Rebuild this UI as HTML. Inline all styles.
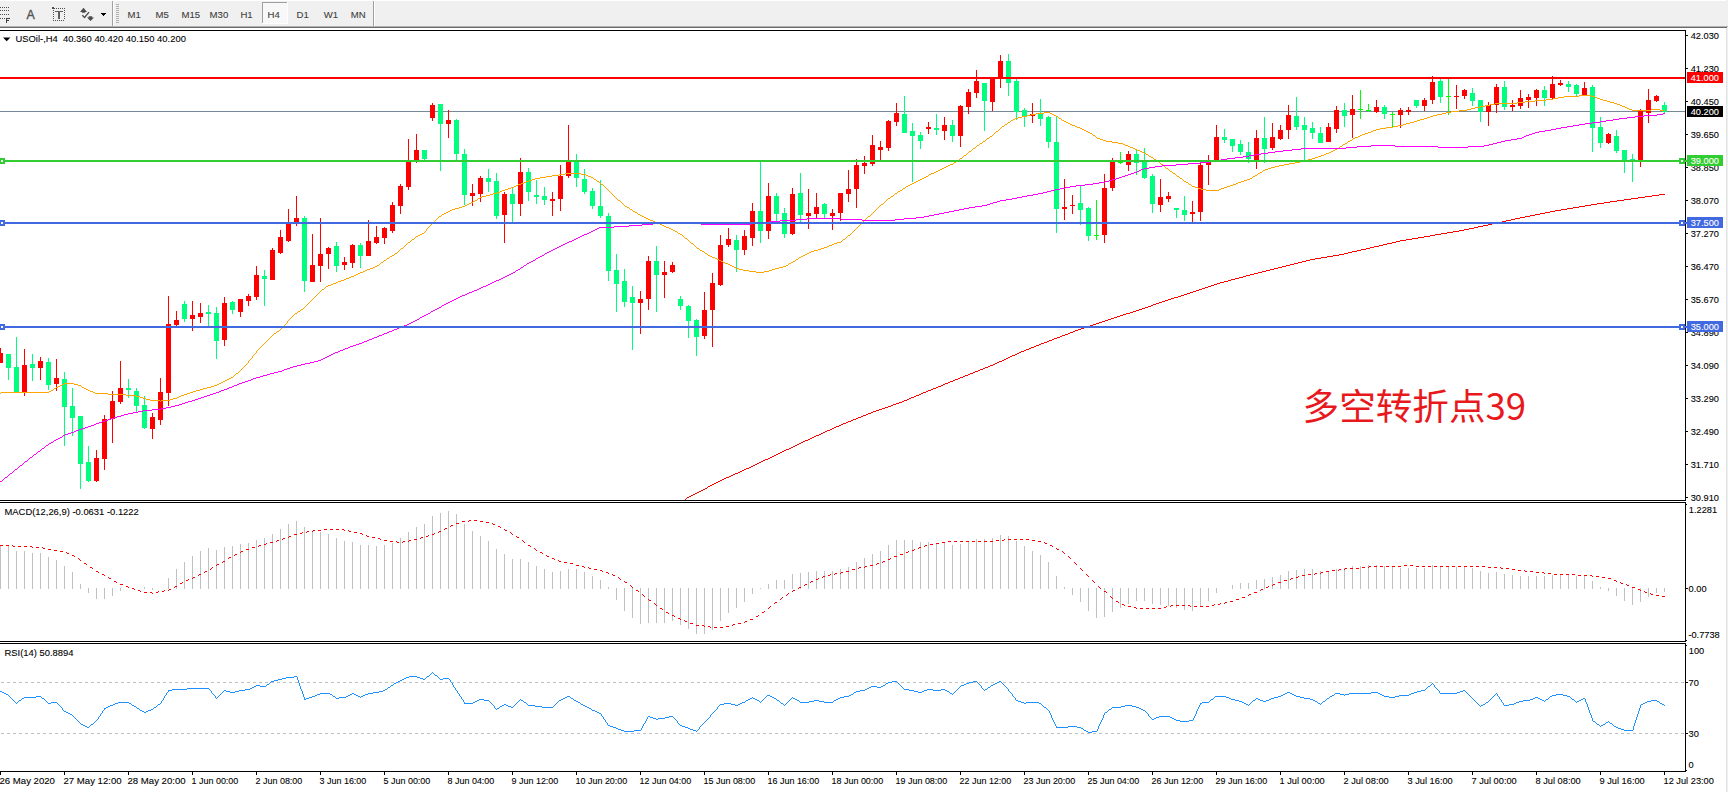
<!DOCTYPE html>
<html><head><meta charset="utf-8"><title>USOil H4</title>
<style>html,body{margin:0;padding:0;background:#fff;}body{width:1728px;height:792px;overflow:hidden;}svg{display:block;}text{white-space:pre;}</style>
</head><body>
<svg width="1728" height="792" viewBox="0 0 1728 792">
<defs><pattern id="dp" width="6" height="800" patternUnits="userSpaceOnUse"><rect x="0" y="0" width="3" height="800" fill="#fff"/></pattern><mask id="dash" maskUnits="userSpaceOnUse" x="0" y="0" width="1728" height="792"><rect x="0" y="0" width="1728" height="792" fill="url(#dp)"/></mask></defs>
<g shape-rendering="crispEdges">
<rect x="0" y="0" width="1728" height="792" fill="#fff"/>
<rect x="0" y="1" width="1726" height="25" fill="#f0f0f0"/>
<rect x="0" y="0" width="1726" height="1" fill="#fff"/>
<rect x="1726" y="0" width="2" height="792" fill="#f0f0f0"/>
<rect x="1726" y="28" width="1" height="764" fill="#e3e3e3"/>
<rect x="0" y="26" width="1728" height="1" fill="#b4b4b4"/>
<rect x="0" y="27" width="1727" height="1" fill="#696969"/>
<rect x="112" y="1" width="1" height="25" fill="#a0a0a0"/>
<rect x="113" y="1" width="1" height="25" fill="#fff"/>
<rect x="373" y="1" width="1" height="25" fill="#a0a0a0"/>
<rect x="374" y="1" width="1" height="25" fill="#fff"/>
<rect x="116" y="4" width="3" height="1" fill="#b0b0b0"/>
<rect x="116" y="6" width="3" height="1" fill="#b0b0b0"/>
<rect x="116" y="8" width="3" height="1" fill="#b0b0b0"/>
<rect x="116" y="10" width="3" height="1" fill="#b0b0b0"/>
<rect x="116" y="12" width="3" height="1" fill="#b0b0b0"/>
<rect x="116" y="14" width="3" height="1" fill="#b0b0b0"/>
<rect x="116" y="16" width="3" height="1" fill="#b0b0b0"/>
<rect x="116" y="18" width="3" height="1" fill="#b0b0b0"/>
<rect x="116" y="20" width="3" height="1" fill="#b0b0b0"/>
<rect x="116" y="22" width="3" height="1" fill="#b0b0b0"/>
<rect x="262" y="2" width="26" height="22" fill="#f8f8f8"/>
<rect x="262" y="2" width="26" height="1" fill="#a0a0a0"/>
<rect x="262" y="2" width="1" height="22" fill="#a0a0a0"/>
<rect x="262" y="23" width="26" height="1" fill="#fff"/>
<rect x="287" y="2" width="1" height="22" fill="#fff"/>
<rect x="0" y="7" width="1" height="1" fill="#505050"/>
<rect x="2" y="7" width="1" height="1" fill="#505050"/>
<rect x="4" y="7" width="1" height="1" fill="#505050"/>
<rect x="6" y="7" width="1" height="1" fill="#505050"/>
<rect x="8" y="7" width="1" height="1" fill="#505050"/>
<rect x="0" y="10" width="1" height="1" fill="#505050"/>
<rect x="2" y="10" width="1" height="1" fill="#505050"/>
<rect x="4" y="10" width="1" height="1" fill="#505050"/>
<rect x="6" y="10" width="1" height="1" fill="#505050"/>
<rect x="8" y="10" width="1" height="1" fill="#505050"/>
<rect x="0" y="14" width="1" height="1" fill="#505050"/>
<rect x="2" y="14" width="1" height="1" fill="#505050"/>
<rect x="4" y="14" width="1" height="1" fill="#505050"/>
<rect x="6" y="14" width="1" height="1" fill="#505050"/>
<rect x="8" y="14" width="1" height="1" fill="#505050"/>
<rect x="0" y="18" width="1" height="1" fill="#505050"/>
<rect x="2" y="18" width="1" height="1" fill="#505050"/>
<rect x="4" y="18" width="1" height="1" fill="#505050"/>
<rect x="6" y="18" width="1" height="5" fill="#404040"/>
<rect x="6" y="18" width="4" height="1" fill="#404040"/>
<rect x="6" y="20" width="3" height="1" fill="#404040"/>
<rect x="56" y="8" width="1" height="1" fill="#505050"/>
<rect x="58" y="8" width="1" height="1" fill="#505050"/>
<rect x="60" y="8" width="1" height="1" fill="#505050"/>
<rect x="62" y="8" width="1" height="1" fill="#505050"/>
<rect x="64" y="8" width="1" height="1" fill="#505050"/>
<rect x="53" y="20" width="1" height="1" fill="#505050"/>
<rect x="55" y="20" width="1" height="1" fill="#505050"/>
<rect x="57" y="20" width="1" height="1" fill="#505050"/>
<rect x="59" y="20" width="1" height="1" fill="#505050"/>
<rect x="61" y="20" width="1" height="1" fill="#505050"/>
<rect x="63" y="20" width="1" height="1" fill="#505050"/>
<rect x="53" y="10" width="1" height="1" fill="#505050"/>
<rect x="64" y="10" width="1" height="1" fill="#505050"/>
<rect x="53" y="12" width="1" height="1" fill="#505050"/>
<rect x="64" y="12" width="1" height="1" fill="#505050"/>
<rect x="53" y="14" width="1" height="1" fill="#505050"/>
<rect x="64" y="14" width="1" height="1" fill="#505050"/>
<rect x="53" y="16" width="1" height="1" fill="#505050"/>
<rect x="64" y="16" width="1" height="1" fill="#505050"/>
<rect x="53" y="18" width="1" height="1" fill="#505050"/>
<rect x="64" y="18" width="1" height="1" fill="#505050"/>
<rect x="52" y="7" width="2" height="1" fill="#505050"/>
<rect x="52" y="8" width="3" height="1" fill="#505050"/>
<rect x="55" y="11" width="8" height="1" fill="#606060"/>
<rect x="58" y="11" width="2" height="8" fill="#606060"/>
<rect x="101" y="13" width="5" height="1" fill="#000"/>
<rect x="102" y="14" width="3" height="1" fill="#000"/>
<rect x="103" y="15" width="1" height="1" fill="#000"/>
</g>
<g fill="#4c4c4c" stroke="none">
<path d="M83.5 7.8 L87 11.9 L85.2 11.9 L85.2 12.8 L81.9 12.8 L81.9 11.9 L80 11.9 Z"/>
<path d="M90.5 21 L94 17.4 L92.2 17.4 L92.2 16.3 L88.7 16.3 L88.7 17.4 L87 17.4 Z"/>
</g>
<path d="M82.3 15.2 L84.6 17.5 L89 12.2" fill="none" stroke="#4c4c4c" stroke-width="1.3"/>
<g font-family='"Liberation Sans", sans-serif'>
<text x="26.5" y="19" fill="#545454" stroke="#545454" stroke-width="0.35" font-size="12.4">A</text>
<text transform="translate(127.5 17.7) scale(0.99 1)" fill="#404040" stroke="#404040" stroke-width="0.1" font-size="9.7">M1</text>
<text transform="translate(155.6 17.7) scale(0.99 1)" fill="#404040" stroke="#404040" stroke-width="0.1" font-size="9.7">M5</text>
<text transform="translate(181.5 17.7) scale(0.99 1)" fill="#404040" stroke="#404040" stroke-width="0.1" font-size="9.7">M15</text>
<text transform="translate(209.6 17.7) scale(0.99 1)" fill="#404040" stroke="#404040" stroke-width="0.1" font-size="9.7">M30</text>
<text transform="translate(240.4 17.7) scale(0.99 1)" fill="#404040" stroke="#404040" stroke-width="0.1" font-size="9.7">H1</text>
<text transform="translate(267.5 17.7) scale(0.99 1)" fill="#404040" stroke="#404040" stroke-width="0.1" font-size="9.7">H4</text>
<text transform="translate(296.5 17.7) scale(0.99 1)" fill="#404040" stroke="#404040" stroke-width="0.1" font-size="9.7">D1</text>
<text transform="translate(323.8 17.7) scale(0.99 1)" fill="#404040" stroke="#404040" stroke-width="0.1" font-size="9.7">W1</text>
<text transform="translate(350.7 17.7) scale(0.99 1)" fill="#404040" stroke="#404040" stroke-width="0.1" font-size="9.7">MN</text>
<g shape-rendering="crispEdges">
<rect x="0" y="30" width="1686" height="1" fill="#000"/>
<rect x="1685" y="30" width="1" height="471" fill="#000"/>
<rect x="1685" y="502" width="1" height="140" fill="#000"/>
<rect x="1685" y="643" width="1" height="129" fill="#000"/>
<rect x="0" y="500" width="1686" height="1" fill="#000"/>
<rect x="0" y="502" width="1686" height="1" fill="#000"/>
<rect x="0" y="641" width="1686" height="1" fill="#000"/>
<rect x="0" y="643" width="1686" height="1" fill="#000"/>
<rect x="0" y="771" width="1686" height="1" fill="#000"/>
</g>
<g shape-rendering="crispEdges">
<rect x="0" y="111" width="1685" height="1" fill="#778899"/>
<rect x="0" y="348" width="1" height="15" fill="#ff0000"/>
<rect x="-2" y="353" width="5" height="10" fill="#ff0000"/>
<rect x="8" y="354" width="1" height="26" fill="#00ff7f"/>
<rect x="6" y="354" width="5" height="14" fill="#00ff7f"/>
<rect x="16" y="337" width="1" height="56" fill="#00ff7f"/>
<rect x="14" y="367" width="5" height="26" fill="#00ff7f"/>
<rect x="24" y="349" width="1" height="47" fill="#ff0000"/>
<rect x="22" y="365" width="5" height="28" fill="#ff0000"/>
<rect x="32" y="354" width="1" height="27" fill="#00ff7f"/>
<rect x="30" y="364" width="5" height="4" fill="#00ff7f"/>
<rect x="40" y="357" width="1" height="23" fill="#ff0000"/>
<rect x="38" y="361" width="5" height="7" fill="#ff0000"/>
<rect x="48" y="358" width="1" height="32" fill="#00ff7f"/>
<rect x="46" y="362" width="5" height="23" fill="#00ff7f"/>
<rect x="56" y="359" width="1" height="32" fill="#ff0000"/>
<rect x="54" y="378" width="5" height="6" fill="#ff0000"/>
<rect x="64" y="372" width="1" height="74" fill="#00ff7f"/>
<rect x="62" y="379" width="5" height="28" fill="#00ff7f"/>
<rect x="72" y="388" width="1" height="48" fill="#00ff7f"/>
<rect x="70" y="406" width="5" height="12" fill="#00ff7f"/>
<rect x="80" y="416" width="1" height="73" fill="#00ff7f"/>
<rect x="78" y="416" width="5" height="48" fill="#00ff7f"/>
<rect x="88" y="446" width="1" height="36" fill="#00ff7f"/>
<rect x="86" y="462" width="5" height="19" fill="#00ff7f"/>
<rect x="96" y="450" width="1" height="32" fill="#ff0000"/>
<rect x="94" y="458" width="5" height="23" fill="#ff0000"/>
<rect x="104" y="415" width="1" height="55" fill="#ff0000"/>
<rect x="102" y="419" width="5" height="40" fill="#ff0000"/>
<rect x="112" y="391" width="1" height="52" fill="#ff0000"/>
<rect x="110" y="401" width="5" height="18" fill="#ff0000"/>
<rect x="120" y="361" width="1" height="43" fill="#ff0000"/>
<rect x="118" y="388" width="5" height="14" fill="#ff0000"/>
<rect x="128" y="379" width="1" height="19" fill="#00ff7f"/>
<rect x="126" y="388" width="5" height="2" fill="#00ff7f"/>
<rect x="136" y="388" width="1" height="25" fill="#00ff7f"/>
<rect x="134" y="391" width="5" height="15" fill="#00ff7f"/>
<rect x="144" y="396" width="1" height="33" fill="#00ff7f"/>
<rect x="142" y="405" width="5" height="23" fill="#00ff7f"/>
<rect x="152" y="413" width="1" height="26" fill="#ff0000"/>
<rect x="150" y="417" width="5" height="12" fill="#ff0000"/>
<rect x="160" y="378" width="1" height="47" fill="#ff0000"/>
<rect x="158" y="392" width="5" height="28" fill="#ff0000"/>
<rect x="168" y="296" width="1" height="110" fill="#ff0000"/>
<rect x="166" y="324" width="5" height="69" fill="#ff0000"/>
<rect x="176" y="311" width="1" height="15" fill="#ff0000"/>
<rect x="174" y="320" width="5" height="5" fill="#ff0000"/>
<rect x="184" y="301" width="1" height="21" fill="#00ff7f"/>
<rect x="182" y="304" width="5" height="15" fill="#00ff7f"/>
<rect x="192" y="301" width="1" height="30" fill="#ff0000"/>
<rect x="190" y="315" width="5" height="4" fill="#ff0000"/>
<rect x="200" y="303" width="1" height="20" fill="#ff0000"/>
<rect x="198" y="313" width="5" height="4" fill="#ff0000"/>
<rect x="208" y="305" width="1" height="22" fill="#00ff7f"/>
<rect x="206" y="312" width="5" height="2" fill="#00ff7f"/>
<rect x="216" y="307" width="1" height="52" fill="#00ff7f"/>
<rect x="214" y="313" width="5" height="28" fill="#00ff7f"/>
<rect x="224" y="297" width="1" height="49" fill="#ff0000"/>
<rect x="222" y="303" width="5" height="37" fill="#ff0000"/>
<rect x="232" y="301" width="1" height="13" fill="#00ff7f"/>
<rect x="230" y="302" width="5" height="8" fill="#00ff7f"/>
<rect x="240" y="299" width="1" height="18" fill="#ff0000"/>
<rect x="238" y="299" width="5" height="13" fill="#ff0000"/>
<rect x="248" y="294" width="1" height="12" fill="#ff0000"/>
<rect x="246" y="296" width="5" height="5" fill="#ff0000"/>
<rect x="256" y="266" width="1" height="34" fill="#ff0000"/>
<rect x="254" y="275" width="5" height="22" fill="#ff0000"/>
<rect x="264" y="270" width="1" height="36" fill="#00ff7f"/>
<rect x="262" y="276" width="5" height="3" fill="#00ff7f"/>
<rect x="272" y="248" width="1" height="32" fill="#ff0000"/>
<rect x="270" y="250" width="5" height="30" fill="#ff0000"/>
<rect x="280" y="230" width="1" height="24" fill="#ff0000"/>
<rect x="278" y="237" width="5" height="16" fill="#ff0000"/>
<rect x="288" y="209" width="1" height="33" fill="#ff0000"/>
<rect x="286" y="223" width="5" height="18" fill="#ff0000"/>
<rect x="296" y="196" width="1" height="30" fill="#ff0000"/>
<rect x="294" y="218" width="5" height="5" fill="#ff0000"/>
<rect x="304" y="216" width="1" height="76" fill="#00ff7f"/>
<rect x="302" y="218" width="5" height="63" fill="#00ff7f"/>
<rect x="312" y="234" width="1" height="48" fill="#ff0000"/>
<rect x="310" y="265" width="5" height="17" fill="#ff0000"/>
<rect x="320" y="218" width="1" height="64" fill="#ff0000"/>
<rect x="318" y="254" width="5" height="12" fill="#ff0000"/>
<rect x="328" y="247" width="1" height="22" fill="#ff0000"/>
<rect x="326" y="248" width="5" height="6" fill="#ff0000"/>
<rect x="336" y="242" width="1" height="30" fill="#00ff7f"/>
<rect x="334" y="246" width="5" height="20" fill="#00ff7f"/>
<rect x="344" y="257" width="1" height="13" fill="#ff0000"/>
<rect x="342" y="262" width="5" height="3" fill="#ff0000"/>
<rect x="352" y="244" width="1" height="24" fill="#ff0000"/>
<rect x="350" y="245" width="5" height="18" fill="#ff0000"/>
<rect x="360" y="243" width="1" height="25" fill="#00ff7f"/>
<rect x="358" y="245" width="5" height="11" fill="#00ff7f"/>
<rect x="368" y="220" width="1" height="36" fill="#ff0000"/>
<rect x="366" y="241" width="5" height="15" fill="#ff0000"/>
<rect x="376" y="226" width="1" height="18" fill="#ff0000"/>
<rect x="374" y="237" width="5" height="6" fill="#ff0000"/>
<rect x="384" y="227" width="1" height="17" fill="#ff0000"/>
<rect x="382" y="228" width="5" height="10" fill="#ff0000"/>
<rect x="392" y="202" width="1" height="31" fill="#ff0000"/>
<rect x="390" y="205" width="5" height="26" fill="#ff0000"/>
<rect x="400" y="184" width="1" height="30" fill="#ff0000"/>
<rect x="398" y="186" width="5" height="20" fill="#ff0000"/>
<rect x="408" y="139" width="1" height="51" fill="#ff0000"/>
<rect x="406" y="161" width="5" height="26" fill="#ff0000"/>
<rect x="416" y="134" width="1" height="29" fill="#ff0000"/>
<rect x="414" y="150" width="5" height="10" fill="#ff0000"/>
<rect x="424" y="150" width="1" height="10" fill="#00ff7f"/>
<rect x="422" y="150" width="5" height="9" fill="#00ff7f"/>
<rect x="432" y="103" width="1" height="18" fill="#ff0000"/>
<rect x="430" y="105" width="5" height="13" fill="#ff0000"/>
<rect x="440" y="104" width="1" height="67" fill="#00ff7f"/>
<rect x="438" y="104" width="5" height="20" fill="#00ff7f"/>
<rect x="448" y="110" width="1" height="28" fill="#ff0000"/>
<rect x="446" y="120" width="5" height="4" fill="#ff0000"/>
<rect x="456" y="119" width="1" height="41" fill="#00ff7f"/>
<rect x="454" y="120" width="5" height="34" fill="#00ff7f"/>
<rect x="464" y="149" width="1" height="56" fill="#00ff7f"/>
<rect x="462" y="154" width="5" height="41" fill="#00ff7f"/>
<rect x="472" y="184" width="1" height="22" fill="#ff0000"/>
<rect x="470" y="193" width="5" height="3" fill="#ff0000"/>
<rect x="480" y="176" width="1" height="26" fill="#ff0000"/>
<rect x="478" y="178" width="5" height="16" fill="#ff0000"/>
<rect x="488" y="169" width="1" height="23" fill="#00ff7f"/>
<rect x="486" y="178" width="5" height="4" fill="#00ff7f"/>
<rect x="496" y="173" width="1" height="46" fill="#00ff7f"/>
<rect x="494" y="181" width="5" height="35" fill="#00ff7f"/>
<rect x="504" y="192" width="1" height="51" fill="#ff0000"/>
<rect x="502" y="194" width="5" height="21" fill="#ff0000"/>
<rect x="512" y="187" width="1" height="35" fill="#00ff7f"/>
<rect x="510" y="194" width="5" height="10" fill="#00ff7f"/>
<rect x="520" y="158" width="1" height="58" fill="#ff0000"/>
<rect x="518" y="172" width="5" height="32" fill="#ff0000"/>
<rect x="528" y="168" width="1" height="33" fill="#00ff7f"/>
<rect x="526" y="172" width="5" height="20" fill="#00ff7f"/>
<rect x="536" y="180" width="1" height="24" fill="#00ff7f"/>
<rect x="534" y="195" width="5" height="2" fill="#00ff7f"/>
<rect x="544" y="187" width="1" height="18" fill="#00ff7f"/>
<rect x="542" y="196" width="5" height="4" fill="#00ff7f"/>
<rect x="552" y="192" width="1" height="24" fill="#ff0000"/>
<rect x="550" y="199" width="5" height="2" fill="#ff0000"/>
<rect x="560" y="165" width="1" height="46" fill="#ff0000"/>
<rect x="558" y="176" width="5" height="23" fill="#ff0000"/>
<rect x="568" y="125" width="1" height="53" fill="#ff0000"/>
<rect x="566" y="162" width="5" height="14" fill="#ff0000"/>
<rect x="576" y="154" width="1" height="33" fill="#00ff7f"/>
<rect x="574" y="162" width="5" height="16" fill="#00ff7f"/>
<rect x="584" y="169" width="1" height="25" fill="#00ff7f"/>
<rect x="582" y="179" width="5" height="13" fill="#00ff7f"/>
<rect x="592" y="188" width="1" height="21" fill="#00ff7f"/>
<rect x="590" y="191" width="5" height="15" fill="#00ff7f"/>
<rect x="600" y="180" width="1" height="38" fill="#00ff7f"/>
<rect x="598" y="206" width="5" height="10" fill="#00ff7f"/>
<rect x="608" y="213" width="1" height="68" fill="#00ff7f"/>
<rect x="606" y="216" width="5" height="55" fill="#00ff7f"/>
<rect x="616" y="254" width="1" height="58" fill="#00ff7f"/>
<rect x="614" y="270" width="5" height="14" fill="#00ff7f"/>
<rect x="624" y="269" width="1" height="38" fill="#00ff7f"/>
<rect x="622" y="281" width="5" height="21" fill="#00ff7f"/>
<rect x="632" y="286" width="1" height="64" fill="#00ff7f"/>
<rect x="630" y="297" width="5" height="6" fill="#00ff7f"/>
<rect x="640" y="291" width="1" height="43" fill="#ff0000"/>
<rect x="638" y="299" width="5" height="4" fill="#ff0000"/>
<rect x="648" y="256" width="1" height="54" fill="#ff0000"/>
<rect x="646" y="261" width="5" height="38" fill="#ff0000"/>
<rect x="656" y="246" width="1" height="66" fill="#00ff7f"/>
<rect x="654" y="261" width="5" height="14" fill="#00ff7f"/>
<rect x="664" y="261" width="1" height="37" fill="#ff0000"/>
<rect x="662" y="272" width="5" height="3" fill="#ff0000"/>
<rect x="672" y="262" width="1" height="11" fill="#ff0000"/>
<rect x="670" y="265" width="5" height="7" fill="#ff0000"/>
<rect x="680" y="296" width="1" height="14" fill="#00ff7f"/>
<rect x="678" y="299" width="5" height="7" fill="#00ff7f"/>
<rect x="688" y="305" width="1" height="33" fill="#00ff7f"/>
<rect x="686" y="306" width="5" height="15" fill="#00ff7f"/>
<rect x="696" y="319" width="1" height="37" fill="#00ff7f"/>
<rect x="694" y="320" width="5" height="17" fill="#00ff7f"/>
<rect x="704" y="292" width="1" height="47" fill="#ff0000"/>
<rect x="702" y="310" width="5" height="26" fill="#ff0000"/>
<rect x="712" y="273" width="1" height="74" fill="#ff0000"/>
<rect x="710" y="283" width="5" height="27" fill="#ff0000"/>
<rect x="720" y="235" width="1" height="51" fill="#ff0000"/>
<rect x="718" y="245" width="5" height="40" fill="#ff0000"/>
<rect x="728" y="228" width="1" height="19" fill="#ff0000"/>
<rect x="726" y="239" width="5" height="6" fill="#ff0000"/>
<rect x="736" y="235" width="1" height="37" fill="#00ff7f"/>
<rect x="734" y="240" width="5" height="10" fill="#00ff7f"/>
<rect x="744" y="230" width="1" height="25" fill="#ff0000"/>
<rect x="742" y="236" width="5" height="14" fill="#ff0000"/>
<rect x="752" y="203" width="1" height="43" fill="#ff0000"/>
<rect x="750" y="211" width="5" height="27" fill="#ff0000"/>
<rect x="760" y="162" width="1" height="81" fill="#00ff7f"/>
<rect x="758" y="211" width="5" height="20" fill="#00ff7f"/>
<rect x="768" y="183" width="1" height="56" fill="#ff0000"/>
<rect x="766" y="196" width="5" height="35" fill="#ff0000"/>
<rect x="776" y="193" width="1" height="29" fill="#00ff7f"/>
<rect x="774" y="196" width="5" height="18" fill="#00ff7f"/>
<rect x="784" y="208" width="1" height="30" fill="#00ff7f"/>
<rect x="782" y="213" width="5" height="21" fill="#00ff7f"/>
<rect x="792" y="188" width="1" height="47" fill="#ff0000"/>
<rect x="790" y="194" width="5" height="40" fill="#ff0000"/>
<rect x="800" y="173" width="1" height="50" fill="#00ff7f"/>
<rect x="798" y="193" width="5" height="22" fill="#00ff7f"/>
<rect x="808" y="189" width="1" height="40" fill="#ff0000"/>
<rect x="806" y="213" width="5" height="3" fill="#ff0000"/>
<rect x="816" y="193" width="1" height="25" fill="#ff0000"/>
<rect x="814" y="207" width="5" height="7" fill="#ff0000"/>
<rect x="824" y="203" width="1" height="15" fill="#00ff7f"/>
<rect x="822" y="204" width="5" height="10" fill="#00ff7f"/>
<rect x="832" y="209" width="1" height="21" fill="#ff0000"/>
<rect x="830" y="213" width="5" height="3" fill="#ff0000"/>
<rect x="840" y="193" width="1" height="28" fill="#ff0000"/>
<rect x="838" y="193" width="5" height="20" fill="#ff0000"/>
<rect x="848" y="170" width="1" height="32" fill="#ff0000"/>
<rect x="846" y="189" width="5" height="5" fill="#ff0000"/>
<rect x="856" y="159" width="1" height="49" fill="#ff0000"/>
<rect x="854" y="165" width="5" height="24" fill="#ff0000"/>
<rect x="864" y="156" width="1" height="18" fill="#ff0000"/>
<rect x="862" y="163" width="5" height="3" fill="#ff0000"/>
<rect x="872" y="135" width="1" height="31" fill="#ff0000"/>
<rect x="870" y="145" width="5" height="19" fill="#ff0000"/>
<rect x="880" y="141" width="1" height="19" fill="#ff0000"/>
<rect x="878" y="147" width="5" height="3" fill="#ff0000"/>
<rect x="888" y="120" width="1" height="31" fill="#ff0000"/>
<rect x="886" y="121" width="5" height="27" fill="#ff0000"/>
<rect x="896" y="103" width="1" height="23" fill="#ff0000"/>
<rect x="894" y="113" width="5" height="9" fill="#ff0000"/>
<rect x="904" y="96" width="1" height="37" fill="#00ff7f"/>
<rect x="902" y="114" width="5" height="19" fill="#00ff7f"/>
<rect x="912" y="123" width="1" height="59" fill="#00ff7f"/>
<rect x="910" y="131" width="5" height="5" fill="#00ff7f"/>
<rect x="920" y="132" width="1" height="17" fill="#00ff7f"/>
<rect x="918" y="135" width="5" height="6" fill="#00ff7f"/>
<rect x="928" y="122" width="1" height="12" fill="#ff0000"/>
<rect x="926" y="127" width="5" height="2" fill="#ff0000"/>
<rect x="936" y="114" width="1" height="21" fill="#00ff7f"/>
<rect x="934" y="128" width="5" height="2" fill="#00ff7f"/>
<rect x="944" y="117" width="1" height="23" fill="#ff0000"/>
<rect x="942" y="125" width="5" height="6" fill="#ff0000"/>
<rect x="952" y="120" width="1" height="22" fill="#00ff7f"/>
<rect x="950" y="125" width="5" height="11" fill="#00ff7f"/>
<rect x="960" y="105" width="1" height="42" fill="#ff0000"/>
<rect x="958" y="106" width="5" height="30" fill="#ff0000"/>
<rect x="968" y="89" width="1" height="25" fill="#ff0000"/>
<rect x="966" y="92" width="5" height="15" fill="#ff0000"/>
<rect x="976" y="70" width="1" height="28" fill="#ff0000"/>
<rect x="974" y="81" width="5" height="12" fill="#ff0000"/>
<rect x="984" y="83" width="1" height="48" fill="#00ff7f"/>
<rect x="982" y="83" width="5" height="18" fill="#00ff7f"/>
<rect x="992" y="78" width="1" height="33" fill="#ff0000"/>
<rect x="990" y="78" width="5" height="24" fill="#ff0000"/>
<rect x="1000" y="55" width="1" height="33" fill="#ff0000"/>
<rect x="998" y="61" width="5" height="17" fill="#ff0000"/>
<rect x="1008" y="54" width="1" height="42" fill="#00ff7f"/>
<rect x="1006" y="61" width="5" height="22" fill="#00ff7f"/>
<rect x="1016" y="79" width="1" height="41" fill="#00ff7f"/>
<rect x="1014" y="81" width="5" height="31" fill="#00ff7f"/>
<rect x="1024" y="108" width="1" height="19" fill="#00ff7f"/>
<rect x="1022" y="110" width="5" height="7" fill="#00ff7f"/>
<rect x="1032" y="103" width="1" height="20" fill="#ff0000"/>
<rect x="1030" y="114" width="5" height="2" fill="#ff0000"/>
<rect x="1040" y="99" width="1" height="27" fill="#00ff7f"/>
<rect x="1038" y="114" width="5" height="5" fill="#00ff7f"/>
<rect x="1048" y="116" width="1" height="32" fill="#00ff7f"/>
<rect x="1046" y="117" width="5" height="25" fill="#00ff7f"/>
<rect x="1056" y="117" width="1" height="116" fill="#00ff7f"/>
<rect x="1054" y="142" width="5" height="67" fill="#00ff7f"/>
<rect x="1064" y="179" width="1" height="41" fill="#ff0000"/>
<rect x="1062" y="207" width="5" height="2" fill="#ff0000"/>
<rect x="1072" y="195" width="1" height="19" fill="#ff0000"/>
<rect x="1070" y="205" width="5" height="1" fill="#ff0000"/>
<rect x="1080" y="186" width="1" height="39" fill="#00ff7f"/>
<rect x="1078" y="203" width="5" height="7" fill="#00ff7f"/>
<rect x="1088" y="207" width="1" height="34" fill="#00ff7f"/>
<rect x="1086" y="208" width="5" height="28" fill="#00ff7f"/>
<rect x="1096" y="200" width="1" height="40" fill="#00ff00"/>
<rect x="1094" y="235" width="5" height="1" fill="#00ff00"/>
<rect x="1104" y="174" width="1" height="69" fill="#ff0000"/>
<rect x="1102" y="188" width="5" height="47" fill="#ff0000"/>
<rect x="1112" y="158" width="1" height="33" fill="#ff0000"/>
<rect x="1110" y="161" width="5" height="27" fill="#ff0000"/>
<rect x="1120" y="152" width="1" height="12" fill="#00ff00"/>
<rect x="1118" y="162" width="5" height="1" fill="#00ff00"/>
<rect x="1128" y="151" width="1" height="20" fill="#ff0000"/>
<rect x="1126" y="154" width="5" height="11" fill="#ff0000"/>
<rect x="1136" y="150" width="1" height="25" fill="#00ff7f"/>
<rect x="1134" y="154" width="5" height="9" fill="#00ff7f"/>
<rect x="1144" y="148" width="1" height="31" fill="#00ff7f"/>
<rect x="1142" y="161" width="5" height="17" fill="#00ff7f"/>
<rect x="1152" y="174" width="1" height="39" fill="#00ff7f"/>
<rect x="1150" y="176" width="5" height="28" fill="#00ff7f"/>
<rect x="1160" y="179" width="1" height="33" fill="#ff0000"/>
<rect x="1158" y="197" width="5" height="8" fill="#ff0000"/>
<rect x="1168" y="192" width="1" height="10" fill="#ff0000"/>
<rect x="1166" y="196" width="5" height="3" fill="#ff0000"/>
<rect x="1176" y="208" width="1" height="10" fill="#00ff7f"/>
<rect x="1174" y="208" width="5" height="2" fill="#00ff7f"/>
<rect x="1184" y="196" width="1" height="25" fill="#00ff7f"/>
<rect x="1182" y="210" width="5" height="5" fill="#00ff7f"/>
<rect x="1192" y="201" width="1" height="21" fill="#ff0000"/>
<rect x="1190" y="212" width="5" height="2" fill="#ff0000"/>
<rect x="1200" y="163" width="1" height="58" fill="#ff0000"/>
<rect x="1198" y="165" width="5" height="47" fill="#ff0000"/>
<rect x="1208" y="155" width="1" height="30" fill="#ff0000"/>
<rect x="1206" y="162" width="5" height="3" fill="#ff0000"/>
<rect x="1216" y="125" width="1" height="36" fill="#ff0000"/>
<rect x="1214" y="137" width="5" height="24" fill="#ff0000"/>
<rect x="1224" y="129" width="1" height="14" fill="#00ff7f"/>
<rect x="1222" y="137" width="5" height="3" fill="#00ff7f"/>
<rect x="1232" y="139" width="1" height="13" fill="#00ff7f"/>
<rect x="1230" y="139" width="5" height="7" fill="#00ff7f"/>
<rect x="1240" y="140" width="1" height="15" fill="#00ff7f"/>
<rect x="1238" y="144" width="5" height="8" fill="#00ff7f"/>
<rect x="1248" y="142" width="1" height="21" fill="#00ff7f"/>
<rect x="1246" y="152" width="5" height="7" fill="#00ff7f"/>
<rect x="1256" y="130" width="1" height="39" fill="#ff0000"/>
<rect x="1254" y="138" width="5" height="22" fill="#ff0000"/>
<rect x="1264" y="117" width="1" height="46" fill="#00ff7f"/>
<rect x="1262" y="138" width="5" height="11" fill="#00ff7f"/>
<rect x="1272" y="123" width="1" height="27" fill="#ff0000"/>
<rect x="1270" y="137" width="5" height="11" fill="#ff0000"/>
<rect x="1280" y="125" width="1" height="15" fill="#ff0000"/>
<rect x="1278" y="130" width="5" height="9" fill="#ff0000"/>
<rect x="1288" y="105" width="1" height="34" fill="#ff0000"/>
<rect x="1286" y="115" width="5" height="15" fill="#ff0000"/>
<rect x="1296" y="97" width="1" height="33" fill="#00ff7f"/>
<rect x="1294" y="116" width="5" height="11" fill="#00ff7f"/>
<rect x="1304" y="117" width="1" height="43" fill="#00ff7f"/>
<rect x="1302" y="125" width="5" height="5" fill="#00ff7f"/>
<rect x="1312" y="122" width="1" height="17" fill="#00ff7f"/>
<rect x="1310" y="128" width="5" height="5" fill="#00ff7f"/>
<rect x="1320" y="127" width="1" height="16" fill="#00ff7f"/>
<rect x="1318" y="133" width="5" height="10" fill="#00ff7f"/>
<rect x="1328" y="123" width="1" height="19" fill="#ff0000"/>
<rect x="1326" y="127" width="5" height="15" fill="#ff0000"/>
<rect x="1336" y="106" width="1" height="27" fill="#ff0000"/>
<rect x="1334" y="110" width="5" height="19" fill="#ff0000"/>
<rect x="1344" y="103" width="1" height="24" fill="#00ff7f"/>
<rect x="1342" y="110" width="5" height="6" fill="#00ff7f"/>
<rect x="1352" y="95" width="1" height="43" fill="#ff0000"/>
<rect x="1350" y="109" width="5" height="6" fill="#ff0000"/>
<rect x="1360" y="90" width="1" height="29" fill="#00ff00"/>
<rect x="1358" y="109" width="5" height="1" fill="#00ff00"/>
<rect x="1368" y="104" width="1" height="8" fill="#00ff00"/>
<rect x="1366" y="110" width="5" height="1" fill="#00ff00"/>
<rect x="1376" y="100" width="1" height="13" fill="#ff0000"/>
<rect x="1374" y="107" width="5" height="5" fill="#ff0000"/>
<rect x="1384" y="105" width="1" height="14" fill="#00ff7f"/>
<rect x="1382" y="107" width="5" height="7" fill="#00ff7f"/>
<rect x="1392" y="112" width="1" height="15" fill="#00ff00"/>
<rect x="1390" y="114" width="5" height="1" fill="#00ff00"/>
<rect x="1400" y="108" width="1" height="20" fill="#ff0000"/>
<rect x="1398" y="110" width="5" height="5" fill="#ff0000"/>
<rect x="1408" y="107" width="1" height="8" fill="#ff0000"/>
<rect x="1406" y="110" width="5" height="2" fill="#ff0000"/>
<rect x="1416" y="100" width="1" height="8" fill="#00ff7f"/>
<rect x="1414" y="100" width="5" height="6" fill="#00ff7f"/>
<rect x="1424" y="98" width="1" height="13" fill="#ff0000"/>
<rect x="1422" y="100" width="5" height="6" fill="#ff0000"/>
<rect x="1432" y="76" width="1" height="28" fill="#ff0000"/>
<rect x="1430" y="82" width="5" height="18" fill="#ff0000"/>
<rect x="1440" y="79" width="1" height="24" fill="#00ff7f"/>
<rect x="1438" y="81" width="5" height="16" fill="#00ff7f"/>
<rect x="1448" y="79" width="1" height="36" fill="#00ff00"/>
<rect x="1446" y="96" width="5" height="1" fill="#00ff00"/>
<rect x="1456" y="85" width="1" height="24" fill="#ff0000"/>
<rect x="1454" y="96" width="5" height="1" fill="#ff0000"/>
<rect x="1464" y="89" width="1" height="10" fill="#ff0000"/>
<rect x="1462" y="90" width="5" height="6" fill="#ff0000"/>
<rect x="1472" y="88" width="1" height="18" fill="#00ff7f"/>
<rect x="1470" y="93" width="5" height="8" fill="#00ff7f"/>
<rect x="1480" y="100" width="1" height="22" fill="#00ff7f"/>
<rect x="1478" y="100" width="5" height="12" fill="#00ff7f"/>
<rect x="1488" y="102" width="1" height="24" fill="#ff0000"/>
<rect x="1486" y="105" width="5" height="7" fill="#ff0000"/>
<rect x="1496" y="84" width="1" height="29" fill="#ff0000"/>
<rect x="1494" y="87" width="5" height="18" fill="#ff0000"/>
<rect x="1504" y="81" width="1" height="29" fill="#00ff7f"/>
<rect x="1502" y="87" width="5" height="20" fill="#00ff7f"/>
<rect x="1512" y="100" width="1" height="11" fill="#ff0000"/>
<rect x="1510" y="105" width="5" height="2" fill="#ff0000"/>
<rect x="1520" y="90" width="1" height="19" fill="#ff0000"/>
<rect x="1518" y="98" width="5" height="8" fill="#ff0000"/>
<rect x="1528" y="94" width="1" height="14" fill="#ff0000"/>
<rect x="1526" y="97" width="5" height="3" fill="#ff0000"/>
<rect x="1536" y="89" width="1" height="17" fill="#ff0000"/>
<rect x="1534" y="90" width="5" height="8" fill="#ff0000"/>
<rect x="1544" y="86" width="1" height="20" fill="#00ff7f"/>
<rect x="1542" y="90" width="5" height="8" fill="#00ff7f"/>
<rect x="1552" y="76" width="1" height="23" fill="#ff0000"/>
<rect x="1550" y="84" width="5" height="14" fill="#ff0000"/>
<rect x="1560" y="80" width="1" height="6" fill="#ff0000"/>
<rect x="1558" y="83" width="5" height="2" fill="#ff0000"/>
<rect x="1568" y="81" width="1" height="11" fill="#00ff7f"/>
<rect x="1566" y="84" width="5" height="3" fill="#00ff7f"/>
<rect x="1576" y="84" width="1" height="12" fill="#00ff7f"/>
<rect x="1574" y="85" width="5" height="9" fill="#00ff7f"/>
<rect x="1584" y="82" width="1" height="13" fill="#ff0000"/>
<rect x="1582" y="88" width="5" height="7" fill="#ff0000"/>
<rect x="1592" y="85" width="1" height="67" fill="#00ff7f"/>
<rect x="1590" y="87" width="5" height="41" fill="#00ff7f"/>
<rect x="1600" y="117" width="1" height="31" fill="#00ff7f"/>
<rect x="1598" y="127" width="5" height="16" fill="#00ff7f"/>
<rect x="1608" y="133" width="1" height="11" fill="#ff0000"/>
<rect x="1606" y="134" width="5" height="9" fill="#ff0000"/>
<rect x="1616" y="130" width="1" height="23" fill="#00ff7f"/>
<rect x="1614" y="136" width="5" height="15" fill="#00ff7f"/>
<rect x="1624" y="150" width="1" height="23" fill="#00ff7f"/>
<rect x="1622" y="150" width="5" height="10" fill="#00ff7f"/>
<rect x="1632" y="154" width="1" height="28" fill="#00ff7f"/>
<rect x="1630" y="159" width="5" height="2" fill="#00ff7f"/>
<rect x="1640" y="109" width="1" height="58" fill="#ff0000"/>
<rect x="1638" y="111" width="5" height="49" fill="#ff0000"/>
<rect x="1648" y="89" width="1" height="34" fill="#ff0000"/>
<rect x="1646" y="100" width="5" height="13" fill="#ff0000"/>
<rect x="1656" y="95" width="1" height="7" fill="#ff0000"/>
<rect x="1654" y="96" width="5" height="5" fill="#ff0000"/>
<rect x="1664" y="102" width="1" height="12" fill="#00ff7f"/>
<rect x="1662" y="105" width="5" height="7" fill="#00ff7f"/>
</g>
<g shape-rendering="crispEdges" fill="#ff0000">
<rect x="685" y="499" width="1" height="1"/>
<rect x="686" y="498" width="1" height="1"/>
<rect x="687" y="497" width="2" height="1"/>
<rect x="689" y="496" width="2" height="1"/>
<rect x="691" y="495" width="2" height="1"/>
<rect x="693" y="494" width="2" height="1"/>
<rect x="695" y="493" width="2" height="1"/>
<rect x="697" y="492" width="2" height="1"/>
<rect x="699" y="491" width="2" height="1"/>
<rect x="701" y="490" width="2" height="1"/>
<rect x="703" y="489" width="2" height="1"/>
<rect x="705" y="488" width="2" height="1"/>
<rect x="707" y="487" width="1" height="1"/>
<rect x="708" y="486" width="2" height="1"/>
<rect x="710" y="485" width="2" height="1"/>
<rect x="712" y="484" width="2" height="1"/>
<rect x="714" y="483" width="2" height="1"/>
<rect x="716" y="482" width="2" height="1"/>
<rect x="718" y="481" width="2" height="1"/>
<rect x="720" y="480" width="2" height="1"/>
<rect x="722" y="479" width="2" height="1"/>
<rect x="724" y="478" width="2" height="1"/>
<rect x="726" y="477" width="3" height="1"/>
<rect x="729" y="476" width="2" height="1"/>
<rect x="731" y="475" width="2" height="1"/>
<rect x="733" y="474" width="2" height="1"/>
<rect x="735" y="473" width="3" height="1"/>
<rect x="738" y="472" width="2" height="1"/>
<rect x="740" y="471" width="2" height="1"/>
<rect x="742" y="470" width="2" height="1"/>
<rect x="744" y="469" width="2" height="1"/>
<rect x="746" y="468" width="3" height="1"/>
<rect x="749" y="467" width="2" height="1"/>
<rect x="751" y="466" width="2" height="1"/>
<rect x="753" y="465" width="2" height="1"/>
<rect x="755" y="464" width="2" height="1"/>
<rect x="757" y="463" width="2" height="1"/>
<rect x="759" y="462" width="2" height="1"/>
<rect x="761" y="461" width="2" height="1"/>
<rect x="763" y="460" width="2" height="1"/>
<rect x="765" y="459" width="3" height="1"/>
<rect x="768" y="458" width="2" height="1"/>
<rect x="770" y="457" width="2" height="1"/>
<rect x="772" y="456" width="2" height="1"/>
<rect x="774" y="455" width="2" height="1"/>
<rect x="776" y="454" width="2" height="1"/>
<rect x="778" y="453" width="2" height="1"/>
<rect x="780" y="452" width="2" height="1"/>
<rect x="782" y="451" width="2" height="1"/>
<rect x="784" y="450" width="2" height="1"/>
<rect x="786" y="449" width="3" height="1"/>
<rect x="789" y="448" width="2" height="1"/>
<rect x="791" y="447" width="2" height="1"/>
<rect x="793" y="446" width="2" height="1"/>
<rect x="795" y="445" width="2" height="1"/>
<rect x="797" y="444" width="2" height="1"/>
<rect x="799" y="443" width="2" height="1"/>
<rect x="801" y="442" width="2" height="1"/>
<rect x="803" y="441" width="2" height="1"/>
<rect x="805" y="440" width="3" height="1"/>
<rect x="808" y="439" width="2" height="1"/>
<rect x="810" y="438" width="2" height="1"/>
<rect x="812" y="437" width="2" height="1"/>
<rect x="814" y="436" width="2" height="1"/>
<rect x="816" y="435" width="3" height="1"/>
<rect x="819" y="434" width="2" height="1"/>
<rect x="821" y="433" width="2" height="1"/>
<rect x="823" y="432" width="2" height="1"/>
<rect x="825" y="431" width="2" height="1"/>
<rect x="827" y="430" width="3" height="1"/>
<rect x="830" y="429" width="2" height="1"/>
<rect x="832" y="428" width="2" height="1"/>
<rect x="834" y="427" width="2" height="1"/>
<rect x="836" y="426" width="3" height="1"/>
<rect x="839" y="425" width="2" height="1"/>
<rect x="841" y="424" width="2" height="1"/>
<rect x="843" y="423" width="3" height="1"/>
<rect x="846" y="422" width="2" height="1"/>
<rect x="848" y="421" width="3" height="1"/>
<rect x="851" y="420" width="2" height="1"/>
<rect x="853" y="419" width="3" height="1"/>
<rect x="856" y="418" width="2" height="1"/>
<rect x="858" y="417" width="3" height="1"/>
<rect x="861" y="416" width="2" height="1"/>
<rect x="863" y="415" width="3" height="1"/>
<rect x="866" y="414" width="2" height="1"/>
<rect x="868" y="413" width="3" height="1"/>
<rect x="871" y="412" width="2" height="1"/>
<rect x="873" y="411" width="3" height="1"/>
<rect x="876" y="410" width="3" height="1"/>
<rect x="879" y="409" width="3" height="1"/>
<rect x="882" y="408" width="3" height="1"/>
<rect x="885" y="407" width="3" height="1"/>
<rect x="888" y="406" width="3" height="1"/>
<rect x="891" y="405" width="2" height="1"/>
<rect x="893" y="404" width="3" height="1"/>
<rect x="896" y="403" width="3" height="1"/>
<rect x="899" y="402" width="3" height="1"/>
<rect x="902" y="401" width="2" height="1"/>
<rect x="904" y="400" width="3" height="1"/>
<rect x="907" y="399" width="2" height="1"/>
<rect x="909" y="398" width="2" height="1"/>
<rect x="911" y="397" width="3" height="1"/>
<rect x="914" y="396" width="2" height="1"/>
<rect x="916" y="395" width="3" height="1"/>
<rect x="919" y="394" width="2" height="1"/>
<rect x="921" y="393" width="2" height="1"/>
<rect x="923" y="392" width="3" height="1"/>
<rect x="926" y="391" width="2" height="1"/>
<rect x="928" y="390" width="3" height="1"/>
<rect x="931" y="389" width="2" height="1"/>
<rect x="933" y="388" width="3" height="1"/>
<rect x="936" y="387" width="2" height="1"/>
<rect x="938" y="386" width="3" height="1"/>
<rect x="941" y="385" width="2" height="1"/>
<rect x="943" y="384" width="2" height="1"/>
<rect x="945" y="383" width="3" height="1"/>
<rect x="948" y="382" width="2" height="1"/>
<rect x="950" y="381" width="3" height="1"/>
<rect x="953" y="380" width="2" height="1"/>
<rect x="955" y="379" width="3" height="1"/>
<rect x="958" y="378" width="2" height="1"/>
<rect x="960" y="377" width="3" height="1"/>
<rect x="963" y="376" width="2" height="1"/>
<rect x="965" y="375" width="3" height="1"/>
<rect x="968" y="374" width="2" height="1"/>
<rect x="970" y="373" width="3" height="1"/>
<rect x="973" y="372" width="2" height="1"/>
<rect x="975" y="371" width="3" height="1"/>
<rect x="978" y="370" width="2" height="1"/>
<rect x="980" y="369" width="3" height="1"/>
<rect x="983" y="368" width="2" height="1"/>
<rect x="985" y="367" width="3" height="1"/>
<rect x="988" y="366" width="2" height="1"/>
<rect x="990" y="365" width="3" height="1"/>
<rect x="993" y="364" width="2" height="1"/>
<rect x="995" y="363" width="2" height="1"/>
<rect x="997" y="362" width="2" height="1"/>
<rect x="999" y="361" width="3" height="1"/>
<rect x="1002" y="360" width="2" height="1"/>
<rect x="1004" y="359" width="2" height="1"/>
<rect x="1006" y="358" width="2" height="1"/>
<rect x="1008" y="357" width="2" height="1"/>
<rect x="1010" y="356" width="2" height="1"/>
<rect x="1012" y="355" width="3" height="1"/>
<rect x="1015" y="354" width="2" height="1"/>
<rect x="1017" y="353" width="2" height="1"/>
<rect x="1019" y="352" width="2" height="1"/>
<rect x="1021" y="351" width="3" height="1"/>
<rect x="1024" y="350" width="2" height="1"/>
<rect x="1026" y="349" width="3" height="1"/>
<rect x="1029" y="348" width="2" height="1"/>
<rect x="1031" y="347" width="3" height="1"/>
<rect x="1034" y="346" width="2" height="1"/>
<rect x="1036" y="345" width="3" height="1"/>
<rect x="1039" y="344" width="2" height="1"/>
<rect x="1041" y="343" width="3" height="1"/>
<rect x="1044" y="342" width="3" height="1"/>
<rect x="1047" y="341" width="2" height="1"/>
<rect x="1049" y="340" width="3" height="1"/>
<rect x="1052" y="339" width="2" height="1"/>
<rect x="1054" y="338" width="3" height="1"/>
<rect x="1057" y="337" width="3" height="1"/>
<rect x="1060" y="336" width="2" height="1"/>
<rect x="1062" y="335" width="3" height="1"/>
<rect x="1065" y="334" width="3" height="1"/>
<rect x="1068" y="333" width="2" height="1"/>
<rect x="1070" y="332" width="3" height="1"/>
<rect x="1073" y="331" width="2" height="1"/>
<rect x="1075" y="330" width="3" height="1"/>
<rect x="1078" y="329" width="3" height="1"/>
<rect x="1081" y="328" width="3" height="1"/>
<rect x="1084" y="327" width="3" height="1"/>
<rect x="1087" y="326" width="3" height="1"/>
<rect x="1090" y="325" width="3" height="1"/>
<rect x="1093" y="324" width="3" height="1"/>
<rect x="1096" y="323" width="3" height="1"/>
<rect x="1099" y="322" width="3" height="1"/>
<rect x="1102" y="321" width="3" height="1"/>
<rect x="1105" y="320" width="3" height="1"/>
<rect x="1108" y="319" width="3" height="1"/>
<rect x="1111" y="318" width="3" height="1"/>
<rect x="1114" y="317" width="3" height="1"/>
<rect x="1117" y="316" width="3" height="1"/>
<rect x="1120" y="315" width="3" height="1"/>
<rect x="1123" y="314" width="3" height="1"/>
<rect x="1126" y="313" width="4" height="1"/>
<rect x="1130" y="312" width="3" height="1"/>
<rect x="1133" y="311" width="3" height="1"/>
<rect x="1136" y="310" width="3" height="1"/>
<rect x="1139" y="309" width="3" height="1"/>
<rect x="1142" y="308" width="3" height="1"/>
<rect x="1145" y="307" width="3" height="1"/>
<rect x="1148" y="306" width="3" height="1"/>
<rect x="1151" y="305" width="2" height="1"/>
<rect x="1153" y="304" width="3" height="1"/>
<rect x="1156" y="303" width="3" height="1"/>
<rect x="1159" y="302" width="3" height="1"/>
<rect x="1162" y="301" width="3" height="1"/>
<rect x="1165" y="300" width="3" height="1"/>
<rect x="1168" y="299" width="3" height="1"/>
<rect x="1171" y="298" width="3" height="1"/>
<rect x="1174" y="297" width="4" height="1"/>
<rect x="1178" y="296" width="3" height="1"/>
<rect x="1181" y="295" width="3" height="1"/>
<rect x="1184" y="294" width="3" height="1"/>
<rect x="1187" y="293" width="3" height="1"/>
<rect x="1190" y="292" width="3" height="1"/>
<rect x="1193" y="291" width="3" height="1"/>
<rect x="1196" y="290" width="3" height="1"/>
<rect x="1199" y="289" width="3" height="1"/>
<rect x="1202" y="288" width="3" height="1"/>
<rect x="1205" y="287" width="3" height="1"/>
<rect x="1208" y="286" width="3" height="1"/>
<rect x="1211" y="285" width="3" height="1"/>
<rect x="1214" y="284" width="3" height="1"/>
<rect x="1217" y="283" width="3" height="1"/>
<rect x="1220" y="282" width="4" height="1"/>
<rect x="1224" y="281" width="4" height="1"/>
<rect x="1228" y="280" width="3" height="1"/>
<rect x="1231" y="279" width="4" height="1"/>
<rect x="1235" y="278" width="4" height="1"/>
<rect x="1239" y="277" width="4" height="1"/>
<rect x="1243" y="276" width="3" height="1"/>
<rect x="1246" y="275" width="4" height="1"/>
<rect x="1250" y="274" width="4" height="1"/>
<rect x="1254" y="273" width="4" height="1"/>
<rect x="1258" y="272" width="4" height="1"/>
<rect x="1262" y="271" width="4" height="1"/>
<rect x="1266" y="270" width="4" height="1"/>
<rect x="1270" y="269" width="4" height="1"/>
<rect x="1274" y="268" width="4" height="1"/>
<rect x="1278" y="267" width="4" height="1"/>
<rect x="1282" y="266" width="4" height="1"/>
<rect x="1286" y="265" width="4" height="1"/>
<rect x="1290" y="264" width="4" height="1"/>
<rect x="1294" y="263" width="4" height="1"/>
<rect x="1298" y="262" width="4" height="1"/>
<rect x="1302" y="261" width="4" height="1"/>
<rect x="1306" y="260" width="4" height="1"/>
<rect x="1310" y="259" width="5" height="1"/>
<rect x="1315" y="258" width="6" height="1"/>
<rect x="1321" y="257" width="6" height="1"/>
<rect x="1327" y="256" width="6" height="1"/>
<rect x="1333" y="255" width="6" height="1"/>
<rect x="1339" y="254" width="5" height="1"/>
<rect x="1344" y="253" width="4" height="1"/>
<rect x="1348" y="252" width="4" height="1"/>
<rect x="1352" y="251" width="5" height="1"/>
<rect x="1357" y="250" width="4" height="1"/>
<rect x="1361" y="249" width="5" height="1"/>
<rect x="1366" y="248" width="4" height="1"/>
<rect x="1370" y="247" width="4" height="1"/>
<rect x="1374" y="246" width="5" height="1"/>
<rect x="1379" y="245" width="4" height="1"/>
<rect x="1383" y="244" width="4" height="1"/>
<rect x="1387" y="243" width="5" height="1"/>
<rect x="1392" y="242" width="4" height="1"/>
<rect x="1396" y="241" width="4" height="1"/>
<rect x="1400" y="240" width="6" height="1"/>
<rect x="1406" y="239" width="6" height="1"/>
<rect x="1412" y="238" width="6" height="1"/>
<rect x="1418" y="237" width="6" height="1"/>
<rect x="1424" y="236" width="6" height="1"/>
<rect x="1430" y="235" width="5" height="1"/>
<rect x="1435" y="234" width="6" height="1"/>
<rect x="1441" y="233" width="6" height="1"/>
<rect x="1447" y="232" width="6" height="1"/>
<rect x="1453" y="231" width="6" height="1"/>
<rect x="1459" y="230" width="5" height="1"/>
<rect x="1464" y="229" width="5" height="1"/>
<rect x="1469" y="228" width="5" height="1"/>
<rect x="1474" y="227" width="4" height="1"/>
<rect x="1478" y="226" width="5" height="1"/>
<rect x="1483" y="225" width="5" height="1"/>
<rect x="1488" y="224" width="4" height="1"/>
<rect x="1492" y="223" width="5" height="1"/>
<rect x="1497" y="222" width="5" height="1"/>
<rect x="1502" y="221" width="4" height="1"/>
<rect x="1506" y="220" width="5" height="1"/>
<rect x="1511" y="219" width="4" height="1"/>
<rect x="1515" y="218" width="5" height="1"/>
<rect x="1520" y="217" width="5" height="1"/>
<rect x="1525" y="216" width="5" height="1"/>
<rect x="1530" y="215" width="5" height="1"/>
<rect x="1535" y="214" width="5" height="1"/>
<rect x="1540" y="213" width="5" height="1"/>
<rect x="1545" y="212" width="5" height="1"/>
<rect x="1550" y="211" width="5" height="1"/>
<rect x="1555" y="210" width="6" height="1"/>
<rect x="1561" y="209" width="6" height="1"/>
<rect x="1567" y="208" width="6" height="1"/>
<rect x="1573" y="207" width="6" height="1"/>
<rect x="1579" y="206" width="6" height="1"/>
<rect x="1585" y="205" width="6" height="1"/>
<rect x="1591" y="204" width="6" height="1"/>
<rect x="1597" y="203" width="7" height="1"/>
<rect x="1604" y="202" width="6" height="1"/>
<rect x="1610" y="201" width="7" height="1"/>
<rect x="1617" y="200" width="7" height="1"/>
<rect x="1624" y="199" width="7" height="1"/>
<rect x="1631" y="198" width="7" height="1"/>
<rect x="1638" y="197" width="7" height="1"/>
<rect x="1645" y="196" width="7" height="1"/>
<rect x="1652" y="195" width="7" height="1"/>
<rect x="1659" y="194" width="6" height="1"/>
</g>
<g shape-rendering="crispEdges" fill="#ffa500">
<rect x="0" y="393" width="1" height="1"/>
<rect x="1" y="392" width="48" height="1"/>
<rect x="49" y="391" width="2" height="1"/>
<rect x="51" y="390" width="2" height="1"/>
<rect x="53" y="389" width="1" height="1"/>
<rect x="54" y="388" width="2" height="1"/>
<rect x="56" y="387" width="2" height="1"/>
<rect x="58" y="386" width="2" height="1"/>
<rect x="60" y="385" width="2" height="1"/>
<rect x="62" y="384" width="2" height="1"/>
<rect x="64" y="383" width="10" height="1"/>
<rect x="74" y="384" width="4" height="1"/>
<rect x="78" y="385" width="3" height="1"/>
<rect x="81" y="386" width="1" height="1"/>
<rect x="82" y="387" width="2" height="1"/>
<rect x="84" y="388" width="2" height="1"/>
<rect x="86" y="389" width="2" height="1"/>
<rect x="88" y="390" width="2" height="1"/>
<rect x="90" y="391" width="3" height="1"/>
<rect x="93" y="392" width="2" height="1"/>
<rect x="95" y="393" width="13" height="1"/>
<rect x="108" y="394" width="18" height="1"/>
<rect x="126" y="395" width="10" height="1"/>
<rect x="136" y="396" width="4" height="1"/>
<rect x="140" y="397" width="3" height="1"/>
<rect x="143" y="398" width="3" height="1"/>
<rect x="146" y="399" width="4" height="1"/>
<rect x="150" y="400" width="10" height="1"/>
<rect x="160" y="401" width="1" height="1"/>
<rect x="161" y="400" width="9" height="1"/>
<rect x="170" y="399" width="3" height="1"/>
<rect x="173" y="398" width="4" height="1"/>
<rect x="177" y="397" width="2" height="1"/>
<rect x="179" y="396" width="2" height="1"/>
<rect x="181" y="395" width="3" height="1"/>
<rect x="184" y="394" width="3" height="1"/>
<rect x="187" y="393" width="3" height="1"/>
<rect x="190" y="392" width="3" height="1"/>
<rect x="193" y="391" width="3" height="1"/>
<rect x="196" y="390" width="4" height="1"/>
<rect x="200" y="389" width="3" height="1"/>
<rect x="203" y="388" width="4" height="1"/>
<rect x="207" y="387" width="4" height="1"/>
<rect x="211" y="386" width="3" height="1"/>
<rect x="214" y="385" width="3" height="1"/>
<rect x="217" y="384" width="2" height="1"/>
<rect x="219" y="383" width="2" height="1"/>
<rect x="221" y="382" width="2" height="1"/>
<rect x="223" y="381" width="2" height="1"/>
<rect x="225" y="380" width="2" height="1"/>
<rect x="227" y="379" width="2" height="1"/>
<rect x="229" y="378" width="2" height="1"/>
<rect x="231" y="377" width="2" height="1"/>
<rect x="233" y="376" width="1" height="1"/>
<rect x="234" y="375" width="1" height="1"/>
<rect x="235" y="374" width="1" height="1"/>
<rect x="236" y="373" width="2" height="1"/>
<rect x="238" y="372" width="1" height="1"/>
<rect x="239" y="371" width="1" height="1"/>
<rect x="240" y="370" width="1" height="1"/>
<rect x="241" y="369" width="1" height="1"/>
<rect x="242" y="368" width="1" height="1"/>
<rect x="243" y="367" width="1" height="1"/>
<rect x="244" y="366" width="1" height="1"/>
<rect x="245" y="365" width="1" height="1"/>
<rect x="246" y="364" width="1" height="1"/>
<rect x="247" y="363" width="1" height="1"/>
<rect x="248" y="361" width="1" height="2"/>
<rect x="249" y="360" width="1" height="1"/>
<rect x="250" y="359" width="1" height="1"/>
<rect x="251" y="358" width="1" height="1"/>
<rect x="252" y="356" width="1" height="2"/>
<rect x="253" y="355" width="1" height="1"/>
<rect x="254" y="354" width="1" height="1"/>
<rect x="255" y="353" width="1" height="1"/>
<rect x="256" y="351" width="1" height="2"/>
<rect x="257" y="350" width="1" height="1"/>
<rect x="258" y="349" width="1" height="1"/>
<rect x="259" y="348" width="1" height="1"/>
<rect x="260" y="347" width="1" height="1"/>
<rect x="261" y="346" width="1" height="1"/>
<rect x="262" y="345" width="1" height="1"/>
<rect x="263" y="344" width="1" height="1"/>
<rect x="264" y="343" width="1" height="1"/>
<rect x="265" y="342" width="1" height="1"/>
<rect x="266" y="341" width="1" height="1"/>
<rect x="267" y="340" width="1" height="1"/>
<rect x="268" y="339" width="1" height="1"/>
<rect x="269" y="338" width="1" height="1"/>
<rect x="270" y="337" width="1" height="1"/>
<rect x="271" y="336" width="1" height="1"/>
<rect x="272" y="335" width="1" height="1"/>
<rect x="273" y="334" width="1" height="1"/>
<rect x="274" y="333" width="2" height="1"/>
<rect x="276" y="332" width="1" height="1"/>
<rect x="277" y="331" width="2" height="1"/>
<rect x="279" y="330" width="1" height="1"/>
<rect x="280" y="329" width="1" height="1"/>
<rect x="281" y="328" width="1" height="1"/>
<rect x="282" y="327" width="1" height="1"/>
<rect x="283" y="326" width="1" height="1"/>
<rect x="284" y="325" width="1" height="1"/>
<rect x="285" y="324" width="1" height="1"/>
<rect x="286" y="323" width="1" height="1"/>
<rect x="287" y="321" width="1" height="2"/>
<rect x="288" y="320" width="1" height="1"/>
<rect x="289" y="319" width="1" height="1"/>
<rect x="290" y="318" width="1" height="1"/>
<rect x="291" y="317" width="1" height="1"/>
<rect x="292" y="316" width="1" height="1"/>
<rect x="293" y="315" width="1" height="1"/>
<rect x="294" y="314" width="1" height="1"/>
<rect x="295" y="313" width="2" height="1"/>
<rect x="297" y="312" width="1" height="1"/>
<rect x="298" y="311" width="2" height="1"/>
<rect x="300" y="310" width="1" height="1"/>
<rect x="301" y="309" width="2" height="1"/>
<rect x="303" y="308" width="1" height="1"/>
<rect x="304" y="307" width="1" height="1"/>
<rect x="305" y="306" width="1" height="1"/>
<rect x="306" y="305" width="1" height="1"/>
<rect x="307" y="304" width="1" height="1"/>
<rect x="308" y="303" width="1" height="1"/>
<rect x="309" y="302" width="1" height="1"/>
<rect x="310" y="301" width="1" height="1"/>
<rect x="311" y="300" width="1" height="1"/>
<rect x="312" y="299" width="1" height="1"/>
<rect x="313" y="298" width="1" height="1"/>
<rect x="314" y="297" width="1" height="1"/>
<rect x="315" y="296" width="1" height="1"/>
<rect x="316" y="295" width="1" height="1"/>
<rect x="317" y="294" width="1" height="1"/>
<rect x="318" y="293" width="1" height="1"/>
<rect x="319" y="292" width="1" height="1"/>
<rect x="320" y="291" width="1" height="1"/>
<rect x="321" y="290" width="1" height="1"/>
<rect x="322" y="289" width="2" height="1"/>
<rect x="324" y="288" width="1" height="1"/>
<rect x="325" y="287" width="1" height="1"/>
<rect x="326" y="286" width="2" height="1"/>
<rect x="328" y="285" width="3" height="1"/>
<rect x="331" y="284" width="2" height="1"/>
<rect x="333" y="283" width="3" height="1"/>
<rect x="336" y="282" width="2" height="1"/>
<rect x="338" y="281" width="3" height="1"/>
<rect x="341" y="280" width="3" height="1"/>
<rect x="344" y="279" width="2" height="1"/>
<rect x="346" y="278" width="3" height="1"/>
<rect x="349" y="277" width="2" height="1"/>
<rect x="351" y="276" width="3" height="1"/>
<rect x="354" y="275" width="2" height="1"/>
<rect x="356" y="274" width="2" height="1"/>
<rect x="358" y="273" width="2" height="1"/>
<rect x="360" y="272" width="3" height="1"/>
<rect x="363" y="271" width="2" height="1"/>
<rect x="365" y="270" width="2" height="1"/>
<rect x="367" y="269" width="3" height="1"/>
<rect x="370" y="268" width="3" height="1"/>
<rect x="373" y="267" width="2" height="1"/>
<rect x="375" y="266" width="2" height="1"/>
<rect x="377" y="265" width="2" height="1"/>
<rect x="379" y="264" width="1" height="1"/>
<rect x="380" y="263" width="1" height="1"/>
<rect x="381" y="262" width="2" height="1"/>
<rect x="383" y="261" width="1" height="1"/>
<rect x="384" y="260" width="2" height="1"/>
<rect x="386" y="259" width="1" height="1"/>
<rect x="387" y="258" width="2" height="1"/>
<rect x="389" y="257" width="1" height="1"/>
<rect x="390" y="256" width="2" height="1"/>
<rect x="392" y="255" width="2" height="1"/>
<rect x="394" y="254" width="1" height="1"/>
<rect x="395" y="253" width="2" height="1"/>
<rect x="397" y="252" width="1" height="1"/>
<rect x="398" y="251" width="1" height="1"/>
<rect x="399" y="250" width="1" height="1"/>
<rect x="400" y="249" width="1" height="1"/>
<rect x="401" y="248" width="2" height="1"/>
<rect x="403" y="247" width="1" height="1"/>
<rect x="404" y="246" width="1" height="1"/>
<rect x="405" y="245" width="1" height="1"/>
<rect x="406" y="244" width="1" height="1"/>
<rect x="407" y="243" width="1" height="1"/>
<rect x="408" y="242" width="2" height="1"/>
<rect x="410" y="241" width="1" height="1"/>
<rect x="411" y="240" width="1" height="1"/>
<rect x="412" y="239" width="2" height="1"/>
<rect x="414" y="238" width="1" height="1"/>
<rect x="415" y="237" width="1" height="1"/>
<rect x="416" y="236" width="2" height="1"/>
<rect x="418" y="235" width="2" height="1"/>
<rect x="420" y="234" width="2" height="1"/>
<rect x="422" y="233" width="2" height="1"/>
<rect x="424" y="232" width="1" height="1"/>
<rect x="425" y="231" width="1" height="1"/>
<rect x="426" y="229" width="1" height="2"/>
<rect x="427" y="228" width="1" height="1"/>
<rect x="428" y="227" width="1" height="1"/>
<rect x="429" y="226" width="1" height="1"/>
<rect x="430" y="225" width="1" height="1"/>
<rect x="431" y="224" width="1" height="1"/>
<rect x="432" y="223" width="1" height="1"/>
<rect x="433" y="222" width="1" height="1"/>
<rect x="434" y="221" width="1" height="1"/>
<rect x="435" y="220" width="1" height="1"/>
<rect x="436" y="219" width="1" height="1"/>
<rect x="437" y="218" width="1" height="1"/>
<rect x="438" y="217" width="1" height="1"/>
<rect x="439" y="216" width="2" height="1"/>
<rect x="441" y="215" width="1" height="1"/>
<rect x="442" y="214" width="2" height="1"/>
<rect x="444" y="213" width="2" height="1"/>
<rect x="446" y="212" width="2" height="1"/>
<rect x="448" y="211" width="2" height="1"/>
<rect x="450" y="210" width="2" height="1"/>
<rect x="452" y="209" width="3" height="1"/>
<rect x="455" y="208" width="4" height="1"/>
<rect x="459" y="207" width="3" height="1"/>
<rect x="462" y="206" width="3" height="1"/>
<rect x="465" y="205" width="2" height="1"/>
<rect x="467" y="204" width="2" height="1"/>
<rect x="469" y="203" width="2" height="1"/>
<rect x="471" y="202" width="2" height="1"/>
<rect x="473" y="201" width="2" height="1"/>
<rect x="475" y="200" width="2" height="1"/>
<rect x="477" y="199" width="1" height="1"/>
<rect x="478" y="198" width="2" height="1"/>
<rect x="480" y="197" width="2" height="1"/>
<rect x="482" y="196" width="4" height="1"/>
<rect x="486" y="195" width="4" height="1"/>
<rect x="490" y="194" width="3" height="1"/>
<rect x="493" y="193" width="4" height="1"/>
<rect x="497" y="192" width="3" height="1"/>
<rect x="500" y="191" width="2" height="1"/>
<rect x="502" y="190" width="3" height="1"/>
<rect x="505" y="189" width="3" height="1"/>
<rect x="508" y="188" width="3" height="1"/>
<rect x="511" y="187" width="3" height="1"/>
<rect x="514" y="186" width="2" height="1"/>
<rect x="516" y="185" width="2" height="1"/>
<rect x="518" y="184" width="3" height="1"/>
<rect x="521" y="183" width="3" height="1"/>
<rect x="524" y="182" width="2" height="1"/>
<rect x="526" y="181" width="3" height="1"/>
<rect x="529" y="180" width="3" height="1"/>
<rect x="532" y="179" width="3" height="1"/>
<rect x="535" y="178" width="5" height="1"/>
<rect x="540" y="177" width="6" height="1"/>
<rect x="546" y="176" width="6" height="1"/>
<rect x="552" y="175" width="7" height="1"/>
<rect x="559" y="174" width="6" height="1"/>
<rect x="565" y="173" width="16" height="1"/>
<rect x="581" y="174" width="5" height="1"/>
<rect x="586" y="175" width="2" height="1"/>
<rect x="588" y="176" width="3" height="1"/>
<rect x="591" y="177" width="2" height="1"/>
<rect x="593" y="178" width="1" height="1"/>
<rect x="594" y="179" width="2" height="1"/>
<rect x="596" y="180" width="1" height="1"/>
<rect x="597" y="181" width="2" height="1"/>
<rect x="599" y="182" width="1" height="1"/>
<rect x="600" y="183" width="1" height="1"/>
<rect x="601" y="184" width="2" height="1"/>
<rect x="603" y="185" width="1" height="1"/>
<rect x="604" y="186" width="1" height="1"/>
<rect x="605" y="187" width="1" height="1"/>
<rect x="606" y="188" width="1" height="1"/>
<rect x="607" y="189" width="1" height="1"/>
<rect x="608" y="190" width="1" height="1"/>
<rect x="609" y="191" width="1" height="1"/>
<rect x="610" y="192" width="1" height="1"/>
<rect x="611" y="193" width="1" height="1"/>
<rect x="612" y="194" width="1" height="1"/>
<rect x="613" y="195" width="1" height="1"/>
<rect x="614" y="196" width="1" height="1"/>
<rect x="615" y="197" width="1" height="1"/>
<rect x="616" y="198" width="1" height="1"/>
<rect x="617" y="199" width="1" height="1"/>
<rect x="618" y="200" width="2" height="1"/>
<rect x="620" y="201" width="1" height="1"/>
<rect x="621" y="202" width="1" height="1"/>
<rect x="622" y="203" width="1" height="1"/>
<rect x="623" y="204" width="1" height="1"/>
<rect x="624" y="205" width="1" height="1"/>
<rect x="625" y="206" width="2" height="1"/>
<rect x="627" y="207" width="2" height="1"/>
<rect x="629" y="208" width="1" height="1"/>
<rect x="630" y="209" width="2" height="1"/>
<rect x="632" y="210" width="1" height="1"/>
<rect x="633" y="211" width="2" height="1"/>
<rect x="635" y="212" width="2" height="1"/>
<rect x="637" y="213" width="1" height="1"/>
<rect x="638" y="214" width="2" height="1"/>
<rect x="640" y="215" width="2" height="1"/>
<rect x="642" y="216" width="2" height="1"/>
<rect x="644" y="217" width="2" height="1"/>
<rect x="646" y="218" width="2" height="1"/>
<rect x="648" y="219" width="2" height="1"/>
<rect x="650" y="220" width="3" height="1"/>
<rect x="653" y="221" width="2" height="1"/>
<rect x="655" y="222" width="3" height="1"/>
<rect x="658" y="223" width="2" height="1"/>
<rect x="660" y="224" width="2" height="1"/>
<rect x="662" y="225" width="2" height="1"/>
<rect x="664" y="226" width="2" height="1"/>
<rect x="666" y="227" width="3" height="1"/>
<rect x="669" y="228" width="2" height="1"/>
<rect x="671" y="229" width="2" height="1"/>
<rect x="673" y="230" width="2" height="1"/>
<rect x="675" y="231" width="2" height="1"/>
<rect x="677" y="232" width="1" height="1"/>
<rect x="678" y="233" width="2" height="1"/>
<rect x="680" y="234" width="2" height="1"/>
<rect x="682" y="235" width="1" height="1"/>
<rect x="683" y="236" width="1" height="1"/>
<rect x="684" y="237" width="1" height="1"/>
<rect x="685" y="238" width="2" height="1"/>
<rect x="687" y="239" width="1" height="1"/>
<rect x="688" y="240" width="1" height="1"/>
<rect x="689" y="241" width="1" height="1"/>
<rect x="690" y="242" width="1" height="1"/>
<rect x="691" y="243" width="2" height="1"/>
<rect x="693" y="244" width="1" height="1"/>
<rect x="694" y="245" width="1" height="1"/>
<rect x="695" y="246" width="1" height="1"/>
<rect x="696" y="247" width="1" height="1"/>
<rect x="697" y="248" width="2" height="1"/>
<rect x="699" y="249" width="1" height="1"/>
<rect x="700" y="250" width="2" height="1"/>
<rect x="702" y="251" width="2" height="1"/>
<rect x="704" y="252" width="1" height="1"/>
<rect x="705" y="253" width="2" height="1"/>
<rect x="707" y="254" width="1" height="1"/>
<rect x="708" y="255" width="2" height="1"/>
<rect x="710" y="256" width="2" height="1"/>
<rect x="712" y="257" width="3" height="1"/>
<rect x="715" y="258" width="2" height="1"/>
<rect x="717" y="259" width="2" height="1"/>
<rect x="719" y="260" width="2" height="1"/>
<rect x="721" y="261" width="2" height="1"/>
<rect x="723" y="262" width="2" height="1"/>
<rect x="725" y="263" width="3" height="1"/>
<rect x="728" y="264" width="2" height="1"/>
<rect x="730" y="265" width="2" height="1"/>
<rect x="732" y="266" width="2" height="1"/>
<rect x="734" y="267" width="2" height="1"/>
<rect x="736" y="268" width="3" height="1"/>
<rect x="739" y="269" width="4" height="1"/>
<rect x="743" y="270" width="6" height="1"/>
<rect x="749" y="271" width="7" height="1"/>
<rect x="756" y="272" width="8" height="1"/>
<rect x="764" y="271" width="5" height="1"/>
<rect x="769" y="270" width="3" height="1"/>
<rect x="772" y="269" width="3" height="1"/>
<rect x="775" y="268" width="4" height="1"/>
<rect x="779" y="267" width="4" height="1"/>
<rect x="783" y="266" width="3" height="1"/>
<rect x="786" y="265" width="2" height="1"/>
<rect x="788" y="264" width="1" height="1"/>
<rect x="789" y="263" width="2" height="1"/>
<rect x="791" y="262" width="2" height="1"/>
<rect x="793" y="261" width="2" height="1"/>
<rect x="795" y="260" width="1" height="1"/>
<rect x="796" y="259" width="2" height="1"/>
<rect x="798" y="258" width="1" height="1"/>
<rect x="799" y="257" width="2" height="1"/>
<rect x="801" y="256" width="2" height="1"/>
<rect x="803" y="255" width="2" height="1"/>
<rect x="805" y="254" width="2" height="1"/>
<rect x="807" y="253" width="2" height="1"/>
<rect x="809" y="252" width="2" height="1"/>
<rect x="811" y="251" width="3" height="1"/>
<rect x="814" y="250" width="4" height="1"/>
<rect x="818" y="249" width="3" height="1"/>
<rect x="821" y="248" width="3" height="1"/>
<rect x="824" y="247" width="3" height="1"/>
<rect x="827" y="246" width="2" height="1"/>
<rect x="829" y="245" width="3" height="1"/>
<rect x="832" y="244" width="2" height="1"/>
<rect x="834" y="243" width="3" height="1"/>
<rect x="837" y="242" width="4" height="1"/>
<rect x="841" y="241" width="1" height="1"/>
<rect x="842" y="240" width="1" height="1"/>
<rect x="843" y="239" width="2" height="1"/>
<rect x="845" y="238" width="1" height="1"/>
<rect x="846" y="237" width="1" height="1"/>
<rect x="847" y="236" width="1" height="1"/>
<rect x="848" y="235" width="2" height="1"/>
<rect x="850" y="234" width="1" height="1"/>
<rect x="851" y="233" width="1" height="1"/>
<rect x="852" y="232" width="1" height="1"/>
<rect x="853" y="231" width="1" height="1"/>
<rect x="854" y="230" width="1" height="1"/>
<rect x="855" y="229" width="1" height="1"/>
<rect x="856" y="228" width="1" height="1"/>
<rect x="857" y="227" width="1" height="1"/>
<rect x="858" y="226" width="1" height="1"/>
<rect x="859" y="225" width="1" height="1"/>
<rect x="860" y="224" width="1" height="1"/>
<rect x="861" y="223" width="1" height="1"/>
<rect x="862" y="222" width="1" height="1"/>
<rect x="863" y="221" width="1" height="1"/>
<rect x="864" y="220" width="1" height="1"/>
<rect x="865" y="219" width="1" height="1"/>
<rect x="866" y="218" width="1" height="1"/>
<rect x="867" y="217" width="1" height="1"/>
<rect x="868" y="216" width="2" height="1"/>
<rect x="870" y="215" width="1" height="1"/>
<rect x="871" y="214" width="1" height="1"/>
<rect x="872" y="213" width="1" height="1"/>
<rect x="873" y="212" width="1" height="1"/>
<rect x="874" y="211" width="1" height="1"/>
<rect x="875" y="210" width="1" height="1"/>
<rect x="876" y="209" width="1" height="1"/>
<rect x="877" y="208" width="1" height="1"/>
<rect x="878" y="207" width="1" height="1"/>
<rect x="879" y="206" width="1" height="1"/>
<rect x="880" y="205" width="1" height="1"/>
<rect x="881" y="204" width="2" height="1"/>
<rect x="883" y="203" width="1" height="1"/>
<rect x="884" y="202" width="1" height="1"/>
<rect x="885" y="201" width="1" height="1"/>
<rect x="886" y="200" width="1" height="1"/>
<rect x="887" y="199" width="1" height="1"/>
<rect x="888" y="198" width="2" height="1"/>
<rect x="890" y="197" width="1" height="1"/>
<rect x="891" y="196" width="2" height="1"/>
<rect x="893" y="195" width="1" height="1"/>
<rect x="894" y="194" width="1" height="1"/>
<rect x="895" y="193" width="2" height="1"/>
<rect x="897" y="192" width="1" height="1"/>
<rect x="898" y="191" width="2" height="1"/>
<rect x="900" y="190" width="2" height="1"/>
<rect x="902" y="189" width="1" height="1"/>
<rect x="903" y="188" width="2" height="1"/>
<rect x="905" y="187" width="1" height="1"/>
<rect x="906" y="186" width="2" height="1"/>
<rect x="908" y="185" width="2" height="1"/>
<rect x="910" y="184" width="2" height="1"/>
<rect x="912" y="183" width="2" height="1"/>
<rect x="914" y="182" width="2" height="1"/>
<rect x="916" y="181" width="2" height="1"/>
<rect x="918" y="180" width="2" height="1"/>
<rect x="920" y="179" width="2" height="1"/>
<rect x="922" y="178" width="2" height="1"/>
<rect x="924" y="177" width="2" height="1"/>
<rect x="926" y="176" width="2" height="1"/>
<rect x="928" y="175" width="1" height="1"/>
<rect x="929" y="174" width="2" height="1"/>
<rect x="931" y="173" width="3" height="1"/>
<rect x="934" y="172" width="2" height="1"/>
<rect x="936" y="171" width="2" height="1"/>
<rect x="938" y="170" width="2" height="1"/>
<rect x="940" y="169" width="2" height="1"/>
<rect x="942" y="168" width="2" height="1"/>
<rect x="944" y="167" width="2" height="1"/>
<rect x="946" y="166" width="2" height="1"/>
<rect x="948" y="165" width="2" height="1"/>
<rect x="950" y="164" width="3" height="1"/>
<rect x="953" y="163" width="1" height="1"/>
<rect x="954" y="162" width="2" height="1"/>
<rect x="956" y="161" width="1" height="1"/>
<rect x="957" y="160" width="2" height="1"/>
<rect x="959" y="159" width="1" height="1"/>
<rect x="960" y="158" width="2" height="1"/>
<rect x="962" y="157" width="1" height="1"/>
<rect x="963" y="156" width="1" height="1"/>
<rect x="964" y="155" width="2" height="1"/>
<rect x="966" y="154" width="1" height="1"/>
<rect x="967" y="153" width="1" height="1"/>
<rect x="968" y="152" width="1" height="1"/>
<rect x="969" y="151" width="2" height="1"/>
<rect x="971" y="150" width="1" height="1"/>
<rect x="972" y="149" width="1" height="1"/>
<rect x="973" y="148" width="2" height="1"/>
<rect x="975" y="147" width="1" height="1"/>
<rect x="976" y="146" width="1" height="1"/>
<rect x="977" y="145" width="2" height="1"/>
<rect x="979" y="144" width="1" height="1"/>
<rect x="980" y="143" width="2" height="1"/>
<rect x="982" y="142" width="1" height="1"/>
<rect x="983" y="141" width="2" height="1"/>
<rect x="985" y="140" width="1" height="1"/>
<rect x="986" y="139" width="1" height="1"/>
<rect x="987" y="138" width="2" height="1"/>
<rect x="989" y="137" width="1" height="1"/>
<rect x="990" y="136" width="2" height="1"/>
<rect x="992" y="135" width="1" height="1"/>
<rect x="993" y="134" width="1" height="1"/>
<rect x="994" y="133" width="1" height="1"/>
<rect x="995" y="132" width="1" height="1"/>
<rect x="996" y="131" width="2" height="1"/>
<rect x="998" y="130" width="1" height="1"/>
<rect x="999" y="129" width="1" height="1"/>
<rect x="1000" y="128" width="1" height="1"/>
<rect x="1001" y="127" width="1" height="1"/>
<rect x="1002" y="126" width="2" height="1"/>
<rect x="1004" y="125" width="1" height="1"/>
<rect x="1005" y="124" width="2" height="1"/>
<rect x="1007" y="123" width="1" height="1"/>
<rect x="1008" y="122" width="2" height="1"/>
<rect x="1010" y="121" width="1" height="1"/>
<rect x="1011" y="120" width="2" height="1"/>
<rect x="1013" y="119" width="2" height="1"/>
<rect x="1015" y="118" width="3" height="1"/>
<rect x="1018" y="117" width="4" height="1"/>
<rect x="1022" y="116" width="5" height="1"/>
<rect x="1027" y="115" width="4" height="1"/>
<rect x="1031" y="114" width="5" height="1"/>
<rect x="1036" y="113" width="8" height="1"/>
<rect x="1044" y="112" width="6" height="1"/>
<rect x="1050" y="113" width="2" height="1"/>
<rect x="1052" y="114" width="2" height="1"/>
<rect x="1054" y="115" width="2" height="1"/>
<rect x="1056" y="116" width="2" height="1"/>
<rect x="1058" y="117" width="1" height="1"/>
<rect x="1059" y="118" width="2" height="1"/>
<rect x="1061" y="119" width="1" height="1"/>
<rect x="1062" y="120" width="2" height="1"/>
<rect x="1064" y="121" width="2" height="1"/>
<rect x="1066" y="122" width="2" height="1"/>
<rect x="1068" y="123" width="2" height="1"/>
<rect x="1070" y="124" width="2" height="1"/>
<rect x="1072" y="125" width="3" height="1"/>
<rect x="1075" y="126" width="2" height="1"/>
<rect x="1077" y="127" width="3" height="1"/>
<rect x="1080" y="128" width="2" height="1"/>
<rect x="1082" y="129" width="2" height="1"/>
<rect x="1084" y="130" width="2" height="1"/>
<rect x="1086" y="131" width="2" height="1"/>
<rect x="1088" y="132" width="2" height="1"/>
<rect x="1090" y="133" width="2" height="1"/>
<rect x="1092" y="134" width="1" height="1"/>
<rect x="1093" y="135" width="2" height="1"/>
<rect x="1095" y="136" width="1" height="1"/>
<rect x="1096" y="137" width="1" height="1"/>
<rect x="1097" y="138" width="3" height="1"/>
<rect x="1100" y="139" width="3" height="1"/>
<rect x="1103" y="140" width="3" height="1"/>
<rect x="1106" y="141" width="6" height="1"/>
<rect x="1112" y="142" width="6" height="1"/>
<rect x="1118" y="143" width="5" height="1"/>
<rect x="1123" y="144" width="2" height="1"/>
<rect x="1125" y="145" width="3" height="1"/>
<rect x="1128" y="146" width="2" height="1"/>
<rect x="1130" y="147" width="3" height="1"/>
<rect x="1133" y="148" width="2" height="1"/>
<rect x="1135" y="149" width="2" height="1"/>
<rect x="1137" y="150" width="3" height="1"/>
<rect x="1140" y="151" width="2" height="1"/>
<rect x="1142" y="152" width="2" height="1"/>
<rect x="1144" y="153" width="2" height="1"/>
<rect x="1146" y="154" width="2" height="1"/>
<rect x="1148" y="155" width="1" height="1"/>
<rect x="1149" y="156" width="2" height="1"/>
<rect x="1151" y="157" width="2" height="1"/>
<rect x="1153" y="158" width="1" height="1"/>
<rect x="1154" y="159" width="2" height="1"/>
<rect x="1156" y="160" width="1" height="1"/>
<rect x="1157" y="161" width="2" height="1"/>
<rect x="1159" y="162" width="1" height="1"/>
<rect x="1160" y="163" width="1" height="1"/>
<rect x="1161" y="164" width="2" height="1"/>
<rect x="1163" y="165" width="1" height="1"/>
<rect x="1164" y="166" width="1" height="1"/>
<rect x="1165" y="167" width="1" height="1"/>
<rect x="1166" y="168" width="2" height="1"/>
<rect x="1168" y="169" width="1" height="1"/>
<rect x="1169" y="170" width="1" height="1"/>
<rect x="1170" y="171" width="2" height="1"/>
<rect x="1172" y="172" width="1" height="1"/>
<rect x="1173" y="173" width="2" height="1"/>
<rect x="1175" y="174" width="1" height="1"/>
<rect x="1176" y="175" width="1" height="1"/>
<rect x="1177" y="176" width="2" height="1"/>
<rect x="1179" y="177" width="1" height="1"/>
<rect x="1180" y="178" width="2" height="1"/>
<rect x="1182" y="179" width="1" height="1"/>
<rect x="1183" y="180" width="1" height="1"/>
<rect x="1184" y="181" width="2" height="1"/>
<rect x="1186" y="182" width="2" height="1"/>
<rect x="1188" y="183" width="1" height="1"/>
<rect x="1189" y="184" width="2" height="1"/>
<rect x="1191" y="185" width="1" height="1"/>
<rect x="1192" y="186" width="3" height="1"/>
<rect x="1195" y="187" width="3" height="1"/>
<rect x="1198" y="188" width="3" height="1"/>
<rect x="1201" y="189" width="5" height="1"/>
<rect x="1206" y="190" width="13" height="1"/>
<rect x="1219" y="189" width="2" height="1"/>
<rect x="1221" y="188" width="3" height="1"/>
<rect x="1224" y="187" width="3" height="1"/>
<rect x="1227" y="186" width="3" height="1"/>
<rect x="1230" y="185" width="3" height="1"/>
<rect x="1233" y="184" width="3" height="1"/>
<rect x="1236" y="183" width="2" height="1"/>
<rect x="1238" y="182" width="3" height="1"/>
<rect x="1241" y="181" width="3" height="1"/>
<rect x="1244" y="180" width="3" height="1"/>
<rect x="1247" y="179" width="3" height="1"/>
<rect x="1250" y="178" width="2" height="1"/>
<rect x="1252" y="177" width="1" height="1"/>
<rect x="1253" y="176" width="2" height="1"/>
<rect x="1255" y="175" width="2" height="1"/>
<rect x="1257" y="174" width="1" height="1"/>
<rect x="1258" y="173" width="2" height="1"/>
<rect x="1260" y="172" width="2" height="1"/>
<rect x="1262" y="171" width="1" height="1"/>
<rect x="1263" y="170" width="2" height="1"/>
<rect x="1265" y="169" width="3" height="1"/>
<rect x="1268" y="168" width="3" height="1"/>
<rect x="1271" y="167" width="4" height="1"/>
<rect x="1275" y="166" width="4" height="1"/>
<rect x="1279" y="165" width="5" height="1"/>
<rect x="1284" y="164" width="5" height="1"/>
<rect x="1289" y="163" width="6" height="1"/>
<rect x="1295" y="162" width="5" height="1"/>
<rect x="1300" y="161" width="4" height="1"/>
<rect x="1304" y="160" width="4" height="1"/>
<rect x="1308" y="159" width="4" height="1"/>
<rect x="1312" y="158" width="3" height="1"/>
<rect x="1315" y="157" width="3" height="1"/>
<rect x="1318" y="156" width="3" height="1"/>
<rect x="1321" y="155" width="3" height="1"/>
<rect x="1324" y="154" width="2" height="1"/>
<rect x="1326" y="153" width="3" height="1"/>
<rect x="1329" y="152" width="2" height="1"/>
<rect x="1331" y="151" width="2" height="1"/>
<rect x="1333" y="150" width="2" height="1"/>
<rect x="1335" y="149" width="2" height="1"/>
<rect x="1337" y="148" width="2" height="1"/>
<rect x="1339" y="147" width="1" height="1"/>
<rect x="1340" y="146" width="2" height="1"/>
<rect x="1342" y="145" width="1" height="1"/>
<rect x="1343" y="144" width="2" height="1"/>
<rect x="1345" y="143" width="2" height="1"/>
<rect x="1347" y="142" width="1" height="1"/>
<rect x="1348" y="141" width="2" height="1"/>
<rect x="1350" y="140" width="2" height="1"/>
<rect x="1352" y="139" width="1" height="1"/>
<rect x="1353" y="138" width="2" height="1"/>
<rect x="1355" y="137" width="3" height="1"/>
<rect x="1358" y="136" width="2" height="1"/>
<rect x="1360" y="135" width="2" height="1"/>
<rect x="1362" y="134" width="3" height="1"/>
<rect x="1365" y="133" width="3" height="1"/>
<rect x="1368" y="132" width="3" height="1"/>
<rect x="1371" y="131" width="2" height="1"/>
<rect x="1373" y="130" width="3" height="1"/>
<rect x="1376" y="129" width="4" height="1"/>
<rect x="1380" y="128" width="6" height="1"/>
<rect x="1386" y="127" width="7" height="1"/>
<rect x="1393" y="126" width="5" height="1"/>
<rect x="1398" y="125" width="5" height="1"/>
<rect x="1403" y="124" width="3" height="1"/>
<rect x="1406" y="123" width="4" height="1"/>
<rect x="1410" y="122" width="4" height="1"/>
<rect x="1414" y="121" width="3" height="1"/>
<rect x="1417" y="120" width="3" height="1"/>
<rect x="1420" y="119" width="4" height="1"/>
<rect x="1424" y="118" width="3" height="1"/>
<rect x="1427" y="117" width="3" height="1"/>
<rect x="1430" y="116" width="3" height="1"/>
<rect x="1433" y="115" width="4" height="1"/>
<rect x="1437" y="114" width="5" height="1"/>
<rect x="1442" y="113" width="4" height="1"/>
<rect x="1446" y="112" width="5" height="1"/>
<rect x="1451" y="111" width="8" height="1"/>
<rect x="1459" y="110" width="8" height="1"/>
<rect x="1467" y="109" width="4" height="1"/>
<rect x="1471" y="108" width="4" height="1"/>
<rect x="1475" y="107" width="5" height="1"/>
<rect x="1480" y="106" width="5" height="1"/>
<rect x="1485" y="105" width="5" height="1"/>
<rect x="1490" y="104" width="5" height="1"/>
<rect x="1495" y="103" width="22" height="1"/>
<rect x="1517" y="102" width="8" height="1"/>
<rect x="1525" y="101" width="10" height="1"/>
<rect x="1535" y="100" width="11" height="1"/>
<rect x="1546" y="99" width="7" height="1"/>
<rect x="1553" y="98" width="5" height="1"/>
<rect x="1558" y="97" width="6" height="1"/>
<rect x="1564" y="96" width="15" height="1"/>
<rect x="1579" y="95" width="12" height="1"/>
<rect x="1591" y="96" width="4" height="1"/>
<rect x="1595" y="97" width="2" height="1"/>
<rect x="1597" y="98" width="3" height="1"/>
<rect x="1600" y="99" width="3" height="1"/>
<rect x="1603" y="100" width="4" height="1"/>
<rect x="1607" y="101" width="3" height="1"/>
<rect x="1610" y="102" width="4" height="1"/>
<rect x="1614" y="103" width="3" height="1"/>
<rect x="1617" y="104" width="3" height="1"/>
<rect x="1620" y="105" width="2" height="1"/>
<rect x="1622" y="106" width="3" height="1"/>
<rect x="1625" y="107" width="2" height="1"/>
<rect x="1627" y="108" width="2" height="1"/>
<rect x="1629" y="109" width="3" height="1"/>
<rect x="1632" y="110" width="19" height="1"/>
<rect x="1651" y="109" width="9" height="1"/>
<rect x="1660" y="110" width="5" height="1"/>
</g>
<g shape-rendering="crispEdges" fill="#ff00ff">
<rect x="0" y="481" width="2" height="1"/>
<rect x="2" y="480" width="1" height="1"/>
<rect x="3" y="479" width="1" height="1"/>
<rect x="4" y="478" width="1" height="1"/>
<rect x="5" y="477" width="2" height="1"/>
<rect x="7" y="476" width="1" height="1"/>
<rect x="8" y="475" width="1" height="1"/>
<rect x="9" y="474" width="1" height="1"/>
<rect x="10" y="473" width="2" height="1"/>
<rect x="12" y="472" width="1" height="1"/>
<rect x="13" y="471" width="1" height="1"/>
<rect x="14" y="470" width="1" height="1"/>
<rect x="15" y="469" width="2" height="1"/>
<rect x="17" y="468" width="1" height="1"/>
<rect x="18" y="467" width="1" height="1"/>
<rect x="19" y="466" width="1" height="1"/>
<rect x="20" y="465" width="2" height="1"/>
<rect x="22" y="464" width="1" height="1"/>
<rect x="23" y="463" width="1" height="1"/>
<rect x="24" y="462" width="1" height="1"/>
<rect x="25" y="461" width="2" height="1"/>
<rect x="27" y="460" width="1" height="1"/>
<rect x="28" y="459" width="1" height="1"/>
<rect x="29" y="458" width="1" height="1"/>
<rect x="30" y="457" width="2" height="1"/>
<rect x="32" y="456" width="1" height="1"/>
<rect x="33" y="455" width="1" height="1"/>
<rect x="34" y="454" width="2" height="1"/>
<rect x="36" y="453" width="1" height="1"/>
<rect x="37" y="452" width="1" height="1"/>
<rect x="38" y="451" width="2" height="1"/>
<rect x="40" y="450" width="1" height="1"/>
<rect x="41" y="449" width="1" height="1"/>
<rect x="42" y="448" width="2" height="1"/>
<rect x="44" y="447" width="1" height="1"/>
<rect x="45" y="446" width="1" height="1"/>
<rect x="46" y="445" width="2" height="1"/>
<rect x="48" y="444" width="1" height="1"/>
<rect x="49" y="443" width="2" height="1"/>
<rect x="51" y="442" width="2" height="1"/>
<rect x="53" y="441" width="1" height="1"/>
<rect x="54" y="440" width="2" height="1"/>
<rect x="56" y="439" width="2" height="1"/>
<rect x="58" y="438" width="2" height="1"/>
<rect x="60" y="437" width="2" height="1"/>
<rect x="62" y="436" width="1" height="1"/>
<rect x="63" y="435" width="2" height="1"/>
<rect x="65" y="434" width="3" height="1"/>
<rect x="68" y="433" width="3" height="1"/>
<rect x="71" y="432" width="3" height="1"/>
<rect x="74" y="431" width="2" height="1"/>
<rect x="76" y="430" width="3" height="1"/>
<rect x="79" y="429" width="3" height="1"/>
<rect x="82" y="428" width="3" height="1"/>
<rect x="85" y="427" width="3" height="1"/>
<rect x="88" y="426" width="3" height="1"/>
<rect x="91" y="425" width="3" height="1"/>
<rect x="94" y="424" width="2" height="1"/>
<rect x="96" y="423" width="3" height="1"/>
<rect x="99" y="422" width="3" height="1"/>
<rect x="102" y="421" width="3" height="1"/>
<rect x="105" y="420" width="3" height="1"/>
<rect x="108" y="419" width="3" height="1"/>
<rect x="111" y="418" width="3" height="1"/>
<rect x="114" y="417" width="3" height="1"/>
<rect x="117" y="416" width="4" height="1"/>
<rect x="121" y="415" width="3" height="1"/>
<rect x="124" y="414" width="4" height="1"/>
<rect x="128" y="413" width="5" height="1"/>
<rect x="133" y="412" width="5" height="1"/>
<rect x="138" y="411" width="5" height="1"/>
<rect x="143" y="410" width="9" height="1"/>
<rect x="152" y="409" width="9" height="1"/>
<rect x="161" y="408" width="5" height="1"/>
<rect x="166" y="407" width="5" height="1"/>
<rect x="171" y="406" width="4" height="1"/>
<rect x="175" y="405" width="4" height="1"/>
<rect x="179" y="404" width="3" height="1"/>
<rect x="182" y="403" width="3" height="1"/>
<rect x="185" y="402" width="3" height="1"/>
<rect x="188" y="401" width="4" height="1"/>
<rect x="192" y="400" width="3" height="1"/>
<rect x="195" y="399" width="3" height="1"/>
<rect x="198" y="398" width="3" height="1"/>
<rect x="201" y="397" width="3" height="1"/>
<rect x="204" y="396" width="3" height="1"/>
<rect x="207" y="395" width="3" height="1"/>
<rect x="210" y="394" width="3" height="1"/>
<rect x="213" y="393" width="3" height="1"/>
<rect x="216" y="392" width="3" height="1"/>
<rect x="219" y="391" width="2" height="1"/>
<rect x="221" y="390" width="3" height="1"/>
<rect x="224" y="389" width="3" height="1"/>
<rect x="227" y="388" width="2" height="1"/>
<rect x="229" y="387" width="3" height="1"/>
<rect x="232" y="386" width="2" height="1"/>
<rect x="234" y="385" width="3" height="1"/>
<rect x="237" y="384" width="2" height="1"/>
<rect x="239" y="383" width="3" height="1"/>
<rect x="242" y="382" width="3" height="1"/>
<rect x="245" y="381" width="3" height="1"/>
<rect x="248" y="380" width="3" height="1"/>
<rect x="251" y="379" width="2" height="1"/>
<rect x="253" y="378" width="3" height="1"/>
<rect x="256" y="377" width="4" height="1"/>
<rect x="260" y="376" width="3" height="1"/>
<rect x="263" y="375" width="4" height="1"/>
<rect x="267" y="374" width="3" height="1"/>
<rect x="270" y="373" width="4" height="1"/>
<rect x="274" y="372" width="4" height="1"/>
<rect x="278" y="371" width="4" height="1"/>
<rect x="282" y="370" width="2" height="1"/>
<rect x="284" y="369" width="3" height="1"/>
<rect x="287" y="368" width="3" height="1"/>
<rect x="290" y="367" width="3" height="1"/>
<rect x="293" y="366" width="4" height="1"/>
<rect x="297" y="365" width="4" height="1"/>
<rect x="301" y="364" width="4" height="1"/>
<rect x="305" y="363" width="5" height="1"/>
<rect x="310" y="362" width="4" height="1"/>
<rect x="314" y="361" width="4" height="1"/>
<rect x="318" y="360" width="3" height="1"/>
<rect x="321" y="359" width="2" height="1"/>
<rect x="323" y="358" width="2" height="1"/>
<rect x="325" y="357" width="2" height="1"/>
<rect x="327" y="356" width="2" height="1"/>
<rect x="329" y="355" width="2" height="1"/>
<rect x="331" y="354" width="2" height="1"/>
<rect x="333" y="353" width="2" height="1"/>
<rect x="335" y="352" width="3" height="1"/>
<rect x="338" y="351" width="2" height="1"/>
<rect x="340" y="350" width="3" height="1"/>
<rect x="343" y="349" width="2" height="1"/>
<rect x="345" y="348" width="3" height="1"/>
<rect x="348" y="347" width="2" height="1"/>
<rect x="350" y="346" width="3" height="1"/>
<rect x="353" y="345" width="3" height="1"/>
<rect x="356" y="344" width="3" height="1"/>
<rect x="359" y="343" width="3" height="1"/>
<rect x="362" y="342" width="2" height="1"/>
<rect x="364" y="341" width="3" height="1"/>
<rect x="367" y="340" width="2" height="1"/>
<rect x="369" y="339" width="3" height="1"/>
<rect x="372" y="338" width="2" height="1"/>
<rect x="374" y="337" width="3" height="1"/>
<rect x="377" y="336" width="2" height="1"/>
<rect x="379" y="335" width="3" height="1"/>
<rect x="382" y="334" width="2" height="1"/>
<rect x="384" y="333" width="3" height="1"/>
<rect x="387" y="332" width="2" height="1"/>
<rect x="389" y="331" width="3" height="1"/>
<rect x="392" y="330" width="2" height="1"/>
<rect x="394" y="329" width="3" height="1"/>
<rect x="397" y="328" width="2" height="1"/>
<rect x="399" y="327" width="3" height="1"/>
<rect x="402" y="326" width="2" height="1"/>
<rect x="404" y="325" width="3" height="1"/>
<rect x="407" y="324" width="2" height="1"/>
<rect x="409" y="323" width="2" height="1"/>
<rect x="411" y="322" width="2" height="1"/>
<rect x="413" y="321" width="2" height="1"/>
<rect x="415" y="320" width="2" height="1"/>
<rect x="417" y="319" width="2" height="1"/>
<rect x="419" y="318" width="1" height="1"/>
<rect x="420" y="317" width="2" height="1"/>
<rect x="422" y="316" width="2" height="1"/>
<rect x="424" y="315" width="2" height="1"/>
<rect x="426" y="314" width="2" height="1"/>
<rect x="428" y="313" width="2" height="1"/>
<rect x="430" y="312" width="1" height="1"/>
<rect x="431" y="311" width="2" height="1"/>
<rect x="433" y="310" width="2" height="1"/>
<rect x="435" y="309" width="2" height="1"/>
<rect x="437" y="308" width="2" height="1"/>
<rect x="439" y="307" width="2" height="1"/>
<rect x="441" y="306" width="1" height="1"/>
<rect x="442" y="305" width="2" height="1"/>
<rect x="444" y="304" width="2" height="1"/>
<rect x="446" y="303" width="2" height="1"/>
<rect x="448" y="302" width="2" height="1"/>
<rect x="450" y="301" width="2" height="1"/>
<rect x="452" y="300" width="2" height="1"/>
<rect x="454" y="299" width="2" height="1"/>
<rect x="456" y="298" width="2" height="1"/>
<rect x="458" y="297" width="2" height="1"/>
<rect x="460" y="296" width="2" height="1"/>
<rect x="462" y="295" width="3" height="1"/>
<rect x="465" y="294" width="2" height="1"/>
<rect x="467" y="293" width="2" height="1"/>
<rect x="469" y="292" width="3" height="1"/>
<rect x="472" y="291" width="2" height="1"/>
<rect x="474" y="290" width="3" height="1"/>
<rect x="477" y="289" width="2" height="1"/>
<rect x="479" y="288" width="2" height="1"/>
<rect x="481" y="287" width="2" height="1"/>
<rect x="483" y="286" width="3" height="1"/>
<rect x="486" y="285" width="2" height="1"/>
<rect x="488" y="284" width="2" height="1"/>
<rect x="490" y="283" width="2" height="1"/>
<rect x="492" y="282" width="2" height="1"/>
<rect x="494" y="281" width="2" height="1"/>
<rect x="496" y="280" width="3" height="1"/>
<rect x="499" y="279" width="2" height="1"/>
<rect x="501" y="278" width="2" height="1"/>
<rect x="503" y="277" width="2" height="1"/>
<rect x="505" y="276" width="2" height="1"/>
<rect x="507" y="275" width="2" height="1"/>
<rect x="509" y="274" width="2" height="1"/>
<rect x="511" y="273" width="2" height="1"/>
<rect x="513" y="272" width="2" height="1"/>
<rect x="515" y="271" width="1" height="1"/>
<rect x="516" y="270" width="2" height="1"/>
<rect x="518" y="269" width="2" height="1"/>
<rect x="520" y="268" width="1" height="1"/>
<rect x="521" y="267" width="2" height="1"/>
<rect x="523" y="266" width="1" height="1"/>
<rect x="524" y="265" width="2" height="1"/>
<rect x="526" y="264" width="1" height="1"/>
<rect x="527" y="263" width="2" height="1"/>
<rect x="529" y="262" width="2" height="1"/>
<rect x="531" y="261" width="2" height="1"/>
<rect x="533" y="260" width="2" height="1"/>
<rect x="535" y="259" width="1" height="1"/>
<rect x="536" y="258" width="2" height="1"/>
<rect x="538" y="257" width="2" height="1"/>
<rect x="540" y="256" width="2" height="1"/>
<rect x="542" y="255" width="2" height="1"/>
<rect x="544" y="254" width="1" height="1"/>
<rect x="545" y="253" width="2" height="1"/>
<rect x="547" y="252" width="2" height="1"/>
<rect x="549" y="251" width="2" height="1"/>
<rect x="551" y="250" width="2" height="1"/>
<rect x="553" y="249" width="2" height="1"/>
<rect x="555" y="248" width="2" height="1"/>
<rect x="557" y="247" width="2" height="1"/>
<rect x="559" y="246" width="2" height="1"/>
<rect x="561" y="245" width="2" height="1"/>
<rect x="563" y="244" width="2" height="1"/>
<rect x="565" y="243" width="2" height="1"/>
<rect x="567" y="242" width="2" height="1"/>
<rect x="569" y="241" width="3" height="1"/>
<rect x="572" y="240" width="2" height="1"/>
<rect x="574" y="239" width="2" height="1"/>
<rect x="576" y="238" width="2" height="1"/>
<rect x="578" y="237" width="2" height="1"/>
<rect x="580" y="236" width="2" height="1"/>
<rect x="582" y="235" width="2" height="1"/>
<rect x="584" y="234" width="3" height="1"/>
<rect x="587" y="233" width="2" height="1"/>
<rect x="589" y="232" width="2" height="1"/>
<rect x="591" y="231" width="2" height="1"/>
<rect x="593" y="230" width="2" height="1"/>
<rect x="595" y="229" width="2" height="1"/>
<rect x="597" y="228" width="2" height="1"/>
<rect x="599" y="227" width="15" height="1"/>
<rect x="614" y="226" width="15" height="1"/>
<rect x="629" y="225" width="13" height="1"/>
<rect x="642" y="224" width="11" height="1"/>
<rect x="653" y="223" width="48" height="1"/>
<rect x="701" y="224" width="50" height="1"/>
<rect x="751" y="223" width="8" height="1"/>
<rect x="759" y="222" width="10" height="1"/>
<rect x="769" y="221" width="11" height="1"/>
<rect x="780" y="220" width="16" height="1"/>
<rect x="796" y="219" width="11" height="1"/>
<rect x="807" y="218" width="34" height="1"/>
<rect x="841" y="219" width="21" height="1"/>
<rect x="862" y="220" width="33" height="1"/>
<rect x="895" y="219" width="9" height="1"/>
<rect x="904" y="218" width="12" height="1"/>
<rect x="916" y="217" width="8" height="1"/>
<rect x="924" y="216" width="5" height="1"/>
<rect x="929" y="215" width="5" height="1"/>
<rect x="934" y="214" width="5" height="1"/>
<rect x="939" y="213" width="5" height="1"/>
<rect x="944" y="212" width="5" height="1"/>
<rect x="949" y="211" width="5" height="1"/>
<rect x="954" y="210" width="5" height="1"/>
<rect x="959" y="209" width="5" height="1"/>
<rect x="964" y="208" width="5" height="1"/>
<rect x="969" y="207" width="6" height="1"/>
<rect x="975" y="206" width="7" height="1"/>
<rect x="982" y="205" width="5" height="1"/>
<rect x="987" y="204" width="3" height="1"/>
<rect x="990" y="203" width="3" height="1"/>
<rect x="993" y="202" width="4" height="1"/>
<rect x="997" y="201" width="3" height="1"/>
<rect x="1000" y="200" width="6" height="1"/>
<rect x="1006" y="199" width="6" height="1"/>
<rect x="1012" y="198" width="5" height="1"/>
<rect x="1017" y="197" width="5" height="1"/>
<rect x="1022" y="196" width="5" height="1"/>
<rect x="1027" y="195" width="6" height="1"/>
<rect x="1033" y="194" width="5" height="1"/>
<rect x="1038" y="193" width="5" height="1"/>
<rect x="1043" y="192" width="4" height="1"/>
<rect x="1047" y="191" width="4" height="1"/>
<rect x="1051" y="190" width="4" height="1"/>
<rect x="1055" y="189" width="5" height="1"/>
<rect x="1060" y="188" width="5" height="1"/>
<rect x="1065" y="187" width="5" height="1"/>
<rect x="1070" y="186" width="6" height="1"/>
<rect x="1076" y="185" width="9" height="1"/>
<rect x="1085" y="184" width="8" height="1"/>
<rect x="1093" y="183" width="6" height="1"/>
<rect x="1099" y="182" width="6" height="1"/>
<rect x="1105" y="181" width="4" height="1"/>
<rect x="1109" y="180" width="3" height="1"/>
<rect x="1112" y="179" width="4" height="1"/>
<rect x="1116" y="178" width="3" height="1"/>
<rect x="1119" y="177" width="3" height="1"/>
<rect x="1122" y="176" width="3" height="1"/>
<rect x="1125" y="175" width="3" height="1"/>
<rect x="1128" y="174" width="3" height="1"/>
<rect x="1131" y="173" width="3" height="1"/>
<rect x="1134" y="172" width="3" height="1"/>
<rect x="1137" y="171" width="2" height="1"/>
<rect x="1139" y="170" width="2" height="1"/>
<rect x="1141" y="169" width="3" height="1"/>
<rect x="1144" y="168" width="5" height="1"/>
<rect x="1149" y="167" width="6" height="1"/>
<rect x="1155" y="166" width="7" height="1"/>
<rect x="1162" y="165" width="14" height="1"/>
<rect x="1176" y="164" width="12" height="1"/>
<rect x="1188" y="163" width="12" height="1"/>
<rect x="1200" y="162" width="10" height="1"/>
<rect x="1210" y="161" width="6" height="1"/>
<rect x="1216" y="160" width="5" height="1"/>
<rect x="1221" y="159" width="6" height="1"/>
<rect x="1227" y="158" width="8" height="1"/>
<rect x="1235" y="157" width="8" height="1"/>
<rect x="1243" y="156" width="6" height="1"/>
<rect x="1249" y="155" width="6" height="1"/>
<rect x="1255" y="154" width="6" height="1"/>
<rect x="1261" y="153" width="7" height="1"/>
<rect x="1268" y="152" width="7" height="1"/>
<rect x="1275" y="151" width="8" height="1"/>
<rect x="1283" y="150" width="9" height="1"/>
<rect x="1292" y="149" width="9" height="1"/>
<rect x="1301" y="148" width="45" height="1"/>
<rect x="1346" y="147" width="11" height="1"/>
<rect x="1357" y="146" width="14" height="1"/>
<rect x="1371" y="145" width="24" height="1"/>
<rect x="1395" y="146" width="43" height="1"/>
<rect x="1438" y="147" width="30" height="1"/>
<rect x="1468" y="146" width="16" height="1"/>
<rect x="1484" y="145" width="5" height="1"/>
<rect x="1489" y="144" width="4" height="1"/>
<rect x="1493" y="143" width="4" height="1"/>
<rect x="1497" y="142" width="4" height="1"/>
<rect x="1501" y="141" width="4" height="1"/>
<rect x="1505" y="140" width="6" height="1"/>
<rect x="1511" y="139" width="6" height="1"/>
<rect x="1517" y="138" width="5" height="1"/>
<rect x="1522" y="137" width="2" height="1"/>
<rect x="1524" y="136" width="2" height="1"/>
<rect x="1526" y="135" width="3" height="1"/>
<rect x="1529" y="134" width="3" height="1"/>
<rect x="1532" y="133" width="3" height="1"/>
<rect x="1535" y="132" width="4" height="1"/>
<rect x="1539" y="131" width="6" height="1"/>
<rect x="1545" y="130" width="6" height="1"/>
<rect x="1551" y="129" width="5" height="1"/>
<rect x="1556" y="128" width="5" height="1"/>
<rect x="1561" y="127" width="6" height="1"/>
<rect x="1567" y="126" width="6" height="1"/>
<rect x="1573" y="125" width="6" height="1"/>
<rect x="1579" y="124" width="6" height="1"/>
<rect x="1585" y="123" width="7" height="1"/>
<rect x="1592" y="122" width="8" height="1"/>
<rect x="1600" y="121" width="6" height="1"/>
<rect x="1606" y="120" width="7" height="1"/>
<rect x="1613" y="119" width="6" height="1"/>
<rect x="1619" y="118" width="8" height="1"/>
<rect x="1627" y="117" width="8" height="1"/>
<rect x="1635" y="116" width="9" height="1"/>
<rect x="1644" y="115" width="13" height="1"/>
<rect x="1657" y="114" width="6" height="1"/>
<rect x="1663" y="113" width="2" height="1"/>
</g>
<g shape-rendering="crispEdges">
<rect x="0" y="77" width="1685" height="2" fill="#ff0000"/>
<rect x="0" y="160" width="1687" height="2" fill="#32cd32"/>
<rect x="0" y="222" width="1687" height="2" fill="#4169e1"/>
<rect x="0" y="326" width="1687" height="2" fill="#4169e1"/>
<rect x="0" y="158" width="5" height="6" fill="#32cd32"/>
<rect x="1" y="160" width="2" height="2" fill="#fff"/>
<rect x="1679" y="158" width="6" height="6" fill="#32cd32"/>
<rect x="1681" y="160" width="2" height="2" fill="#fff"/>
<rect x="0" y="220" width="5" height="6" fill="#4169e1"/>
<rect x="1" y="222" width="2" height="2" fill="#fff"/>
<rect x="1679" y="220" width="6" height="6" fill="#4169e1"/>
<rect x="1681" y="222" width="2" height="2" fill="#fff"/>
<rect x="0" y="324" width="5" height="6" fill="#4169e1"/>
<rect x="1" y="326" width="2" height="2" fill="#fff"/>
<rect x="1679" y="324" width="6" height="6" fill="#4169e1"/>
<rect x="1681" y="326" width="2" height="2" fill="#fff"/>
<rect x="1687" y="72" width="36" height="11" fill="#ff0000"/>
<rect x="1687" y="106" width="36" height="11" fill="#000"/>
<rect x="1687" y="155" width="36" height="11" fill="#32cd32"/>
<rect x="1687" y="217" width="36" height="11" fill="#4169e1"/>
<rect x="1687" y="321" width="36" height="11" fill="#4169e1"/>
<rect x="1686" y="35" width="2" height="1" fill="#000"/>
<rect x="1686" y="68" width="2" height="1" fill="#000"/>
<rect x="1686" y="101" width="2" height="1" fill="#000"/>
<rect x="1686" y="134" width="2" height="1" fill="#000"/>
<rect x="1686" y="167" width="2" height="1" fill="#000"/>
<rect x="1686" y="200" width="2" height="1" fill="#000"/>
<rect x="1686" y="233" width="2" height="1" fill="#000"/>
<rect x="1686" y="266" width="2" height="1" fill="#000"/>
<rect x="1686" y="299" width="2" height="1" fill="#000"/>
<rect x="1686" y="332" width="2" height="1" fill="#000"/>
<rect x="1686" y="365" width="2" height="1" fill="#000"/>
<rect x="1686" y="398" width="2" height="1" fill="#000"/>
<rect x="1686" y="431" width="2" height="1" fill="#000"/>
<rect x="1686" y="464" width="2" height="1" fill="#000"/>
<rect x="1686" y="497" width="2" height="1" fill="#000"/>
</g>
<text transform="translate(1690.7 39) scale(0.953 1)" fill="#000" stroke="#000" stroke-width="0.1" font-size="9.7">42.030</text>
<text transform="translate(1690.7 72) scale(0.953 1)" fill="#000" stroke="#000" stroke-width="0.1" font-size="9.7">41.230</text>
<text transform="translate(1690.7 105) scale(0.953 1)" fill="#000" stroke="#000" stroke-width="0.1" font-size="9.7">40.450</text>
<text transform="translate(1690.7 138) scale(0.953 1)" fill="#000" stroke="#000" stroke-width="0.1" font-size="9.7">39.650</text>
<text transform="translate(1690.7 171) scale(0.953 1)" fill="#000" stroke="#000" stroke-width="0.1" font-size="9.7">38.850</text>
<text transform="translate(1690.7 204) scale(0.953 1)" fill="#000" stroke="#000" stroke-width="0.1" font-size="9.7">38.070</text>
<text transform="translate(1690.7 237) scale(0.953 1)" fill="#000" stroke="#000" stroke-width="0.1" font-size="9.7">37.270</text>
<text transform="translate(1690.7 270) scale(0.953 1)" fill="#000" stroke="#000" stroke-width="0.1" font-size="9.7">36.470</text>
<text transform="translate(1690.7 303) scale(0.953 1)" fill="#000" stroke="#000" stroke-width="0.1" font-size="9.7">35.670</text>
<text transform="translate(1690.7 336) scale(0.953 1)" fill="#000" stroke="#000" stroke-width="0.1" font-size="9.7">34.890</text>
<text transform="translate(1690.7 369) scale(0.953 1)" fill="#000" stroke="#000" stroke-width="0.1" font-size="9.7">34.090</text>
<text transform="translate(1690.7 402) scale(0.953 1)" fill="#000" stroke="#000" stroke-width="0.1" font-size="9.7">33.290</text>
<text transform="translate(1690.7 435) scale(0.953 1)" fill="#000" stroke="#000" stroke-width="0.1" font-size="9.7">32.490</text>
<text transform="translate(1690.7 468) scale(0.953 1)" fill="#000" stroke="#000" stroke-width="0.1" font-size="9.7">31.710</text>
<text transform="translate(1690.7 501) scale(0.953 1)" fill="#000" stroke="#000" stroke-width="0.1" font-size="9.7">30.910</text>
<g shape-rendering="crispEdges">
<rect x="1687" y="72" width="36" height="11" fill="#ff0000"/>
<rect x="1687" y="106" width="36" height="11" fill="#000"/>
<rect x="1687" y="155" width="36" height="11" fill="#32cd32"/>
<rect x="1687" y="217" width="36" height="11" fill="#4169e1"/>
<rect x="1687" y="321" width="36" height="11" fill="#4169e1"/>
</g>
<text transform="translate(1690.7 81) scale(0.953 1)" fill="#fff" stroke="#fff" stroke-width="0.1" font-size="9.7">41.000</text>
<text transform="translate(1690.7 115) scale(0.953 1)" fill="#fff" stroke="#fff" stroke-width="0.1" font-size="9.7">40.200</text>
<text transform="translate(1690.7 164) scale(0.953 1)" fill="#fff" stroke="#fff" stroke-width="0.1" font-size="9.7">39.000</text>
<text transform="translate(1690.7 226) scale(0.953 1)" fill="#fff" stroke="#fff" stroke-width="0.1" font-size="9.7">37.500</text>
<text transform="translate(1690.7 330) scale(0.953 1)" fill="#fff" stroke="#fff" stroke-width="0.1" font-size="9.7">35.000</text>
<path d="M3 37.5 L10.4 37.5 L6.7 41.2 Z" fill="#000"/>
<text transform="translate(15.5 41.5) scale(0.97 1)" fill="#000" stroke="#000" stroke-width="0.1" font-size="9.7">USOil-,H4&#160; 40.360 40.420 40.150 40.200</text>
<g shape-rendering="crispEdges" fill="#c0c0c0">
<rect x="0" y="545" width="1" height="44" fill="#c0c0c0"/>
<rect x="8" y="545" width="1" height="44" fill="#c0c0c0"/>
<rect x="16" y="551" width="1" height="38" fill="#c0c0c0"/>
<rect x="24" y="551" width="1" height="38" fill="#c0c0c0"/>
<rect x="32" y="553" width="1" height="36" fill="#c0c0c0"/>
<rect x="40" y="553" width="1" height="36" fill="#c0c0c0"/>
<rect x="48" y="557" width="1" height="32" fill="#c0c0c0"/>
<rect x="56" y="560" width="1" height="29" fill="#c0c0c0"/>
<rect x="64" y="566" width="1" height="23" fill="#c0c0c0"/>
<rect x="72" y="572" width="1" height="17" fill="#c0c0c0"/>
<rect x="80" y="584" width="1" height="5" fill="#c0c0c0"/>
<rect x="88" y="588" width="1" height="5" fill="#c0c0c0"/>
<rect x="96" y="588" width="1" height="11" fill="#c0c0c0"/>
<rect x="104" y="588" width="1" height="11" fill="#c0c0c0"/>
<rect x="112" y="588" width="1" height="8" fill="#c0c0c0"/>
<rect x="120" y="588" width="1" height="3" fill="#c0c0c0"/>
<rect x="144" y="587" width="1" height="2" fill="#c0c0c0"/>
<rect x="152" y="588" width="1" height="2" fill="#c0c0c0"/>
<rect x="168" y="578" width="1" height="11" fill="#c0c0c0"/>
<rect x="176" y="569" width="1" height="20" fill="#c0c0c0"/>
<rect x="184" y="562" width="1" height="27" fill="#c0c0c0"/>
<rect x="192" y="556" width="1" height="33" fill="#c0c0c0"/>
<rect x="200" y="551" width="1" height="38" fill="#c0c0c0"/>
<rect x="208" y="548" width="1" height="41" fill="#c0c0c0"/>
<rect x="216" y="550" width="1" height="39" fill="#c0c0c0"/>
<rect x="224" y="547" width="1" height="42" fill="#c0c0c0"/>
<rect x="232" y="546" width="1" height="43" fill="#c0c0c0"/>
<rect x="240" y="544" width="1" height="45" fill="#c0c0c0"/>
<rect x="248" y="543" width="1" height="46" fill="#c0c0c0"/>
<rect x="256" y="540" width="1" height="49" fill="#c0c0c0"/>
<rect x="264" y="538" width="1" height="51" fill="#c0c0c0"/>
<rect x="272" y="534" width="1" height="55" fill="#c0c0c0"/>
<rect x="280" y="529" width="1" height="60" fill="#c0c0c0"/>
<rect x="288" y="524" width="1" height="65" fill="#c0c0c0"/>
<rect x="296" y="521" width="1" height="68" fill="#c0c0c0"/>
<rect x="304" y="527" width="1" height="62" fill="#c0c0c0"/>
<rect x="312" y="532" width="1" height="57" fill="#c0c0c0"/>
<rect x="320" y="532" width="1" height="57" fill="#c0c0c0"/>
<rect x="328" y="534" width="1" height="55" fill="#c0c0c0"/>
<rect x="336" y="538" width="1" height="51" fill="#c0c0c0"/>
<rect x="344" y="541" width="1" height="48" fill="#c0c0c0"/>
<rect x="352" y="542" width="1" height="47" fill="#c0c0c0"/>
<rect x="360" y="545" width="1" height="44" fill="#c0c0c0"/>
<rect x="368" y="545" width="1" height="44" fill="#c0c0c0"/>
<rect x="376" y="546" width="1" height="43" fill="#c0c0c0"/>
<rect x="384" y="545" width="1" height="44" fill="#c0c0c0"/>
<rect x="392" y="543" width="1" height="46" fill="#c0c0c0"/>
<rect x="400" y="538" width="1" height="51" fill="#c0c0c0"/>
<rect x="408" y="532" width="1" height="57" fill="#c0c0c0"/>
<rect x="416" y="527" width="1" height="62" fill="#c0c0c0"/>
<rect x="424" y="524" width="1" height="65" fill="#c0c0c0"/>
<rect x="432" y="516" width="1" height="73" fill="#c0c0c0"/>
<rect x="440" y="513" width="1" height="76" fill="#c0c0c0"/>
<rect x="448" y="511" width="1" height="78" fill="#c0c0c0"/>
<rect x="456" y="514" width="1" height="75" fill="#c0c0c0"/>
<rect x="464" y="524" width="1" height="65" fill="#c0c0c0"/>
<rect x="472" y="531" width="1" height="58" fill="#c0c0c0"/>
<rect x="480" y="536" width="1" height="53" fill="#c0c0c0"/>
<rect x="488" y="541" width="1" height="48" fill="#c0c0c0"/>
<rect x="496" y="549" width="1" height="40" fill="#c0c0c0"/>
<rect x="504" y="554" width="1" height="35" fill="#c0c0c0"/>
<rect x="512" y="559" width="1" height="30" fill="#c0c0c0"/>
<rect x="520" y="559" width="1" height="30" fill="#c0c0c0"/>
<rect x="528" y="562" width="1" height="27" fill="#c0c0c0"/>
<rect x="536" y="566" width="1" height="23" fill="#c0c0c0"/>
<rect x="544" y="569" width="1" height="20" fill="#c0c0c0"/>
<rect x="552" y="572" width="1" height="17" fill="#c0c0c0"/>
<rect x="560" y="571" width="1" height="18" fill="#c0c0c0"/>
<rect x="568" y="569" width="1" height="20" fill="#c0c0c0"/>
<rect x="576" y="569" width="1" height="20" fill="#c0c0c0"/>
<rect x="584" y="572" width="1" height="17" fill="#c0c0c0"/>
<rect x="592" y="576" width="1" height="13" fill="#c0c0c0"/>
<rect x="600" y="580" width="1" height="9" fill="#c0c0c0"/>
<rect x="608" y="587" width="1" height="2" fill="#c0c0c0"/>
<rect x="616" y="588" width="1" height="12" fill="#c0c0c0"/>
<rect x="624" y="588" width="1" height="23" fill="#c0c0c0"/>
<rect x="632" y="588" width="1" height="30" fill="#c0c0c0"/>
<rect x="640" y="588" width="1" height="36" fill="#c0c0c0"/>
<rect x="648" y="588" width="1" height="35" fill="#c0c0c0"/>
<rect x="656" y="588" width="1" height="35" fill="#c0c0c0"/>
<rect x="664" y="588" width="1" height="35" fill="#c0c0c0"/>
<rect x="672" y="588" width="1" height="33" fill="#c0c0c0"/>
<rect x="680" y="588" width="1" height="37" fill="#c0c0c0"/>
<rect x="688" y="588" width="1" height="41" fill="#c0c0c0"/>
<rect x="696" y="588" width="1" height="46" fill="#c0c0c0"/>
<rect x="704" y="588" width="1" height="46" fill="#c0c0c0"/>
<rect x="712" y="588" width="1" height="42" fill="#c0c0c0"/>
<rect x="720" y="588" width="1" height="33" fill="#c0c0c0"/>
<rect x="728" y="588" width="1" height="25" fill="#c0c0c0"/>
<rect x="736" y="588" width="1" height="20" fill="#c0c0c0"/>
<rect x="744" y="588" width="1" height="14" fill="#c0c0c0"/>
<rect x="752" y="588" width="1" height="6" fill="#c0c0c0"/>
<rect x="760" y="588" width="1" height="1" fill="#c0c0c0"/>
<rect x="768" y="584" width="1" height="5" fill="#c0c0c0"/>
<rect x="776" y="580" width="1" height="9" fill="#c0c0c0"/>
<rect x="784" y="580" width="1" height="9" fill="#c0c0c0"/>
<rect x="792" y="574" width="1" height="15" fill="#c0c0c0"/>
<rect x="800" y="573" width="1" height="16" fill="#c0c0c0"/>
<rect x="808" y="572" width="1" height="17" fill="#c0c0c0"/>
<rect x="816" y="571" width="1" height="18" fill="#c0c0c0"/>
<rect x="824" y="571" width="1" height="18" fill="#c0c0c0"/>
<rect x="832" y="571" width="1" height="18" fill="#c0c0c0"/>
<rect x="840" y="569" width="1" height="20" fill="#c0c0c0"/>
<rect x="848" y="567" width="1" height="22" fill="#c0c0c0"/>
<rect x="856" y="562" width="1" height="27" fill="#c0c0c0"/>
<rect x="864" y="558" width="1" height="31" fill="#c0c0c0"/>
<rect x="872" y="554" width="1" height="35" fill="#c0c0c0"/>
<rect x="880" y="551" width="1" height="38" fill="#c0c0c0"/>
<rect x="888" y="545" width="1" height="44" fill="#c0c0c0"/>
<rect x="896" y="540" width="1" height="49" fill="#c0c0c0"/>
<rect x="904" y="540" width="1" height="49" fill="#c0c0c0"/>
<rect x="912" y="540" width="1" height="49" fill="#c0c0c0"/>
<rect x="920" y="542" width="1" height="47" fill="#c0c0c0"/>
<rect x="928" y="542" width="1" height="47" fill="#c0c0c0"/>
<rect x="936" y="544" width="1" height="45" fill="#c0c0c0"/>
<rect x="944" y="542" width="1" height="47" fill="#c0c0c0"/>
<rect x="952" y="545" width="1" height="44" fill="#c0c0c0"/>
<rect x="960" y="544" width="1" height="45" fill="#c0c0c0"/>
<rect x="968" y="542" width="1" height="47" fill="#c0c0c0"/>
<rect x="976" y="539" width="1" height="50" fill="#c0c0c0"/>
<rect x="984" y="539" width="1" height="50" fill="#c0c0c0"/>
<rect x="992" y="538" width="1" height="51" fill="#c0c0c0"/>
<rect x="1000" y="535" width="1" height="54" fill="#c0c0c0"/>
<rect x="1008" y="536" width="1" height="53" fill="#c0c0c0"/>
<rect x="1016" y="541" width="1" height="48" fill="#c0c0c0"/>
<rect x="1024" y="546" width="1" height="43" fill="#c0c0c0"/>
<rect x="1032" y="551" width="1" height="38" fill="#c0c0c0"/>
<rect x="1040" y="555" width="1" height="34" fill="#c0c0c0"/>
<rect x="1048" y="562" width="1" height="27" fill="#c0c0c0"/>
<rect x="1056" y="576" width="1" height="13" fill="#c0c0c0"/>
<rect x="1064" y="587" width="1" height="2" fill="#c0c0c0"/>
<rect x="1072" y="588" width="1" height="7" fill="#c0c0c0"/>
<rect x="1080" y="588" width="1" height="14" fill="#c0c0c0"/>
<rect x="1088" y="588" width="1" height="23" fill="#c0c0c0"/>
<rect x="1096" y="588" width="1" height="30" fill="#c0c0c0"/>
<rect x="1104" y="588" width="1" height="29" fill="#c0c0c0"/>
<rect x="1112" y="588" width="1" height="24" fill="#c0c0c0"/>
<rect x="1120" y="588" width="1" height="20" fill="#c0c0c0"/>
<rect x="1128" y="588" width="1" height="16" fill="#c0c0c0"/>
<rect x="1136" y="588" width="1" height="13" fill="#c0c0c0"/>
<rect x="1144" y="588" width="1" height="13" fill="#c0c0c0"/>
<rect x="1152" y="588" width="1" height="16" fill="#c0c0c0"/>
<rect x="1160" y="588" width="1" height="17" fill="#c0c0c0"/>
<rect x="1168" y="588" width="1" height="18" fill="#c0c0c0"/>
<rect x="1176" y="588" width="1" height="20" fill="#c0c0c0"/>
<rect x="1184" y="588" width="1" height="22" fill="#c0c0c0"/>
<rect x="1192" y="588" width="1" height="23" fill="#c0c0c0"/>
<rect x="1200" y="588" width="1" height="19" fill="#c0c0c0"/>
<rect x="1208" y="588" width="1" height="13" fill="#c0c0c0"/>
<rect x="1216" y="588" width="1" height="5" fill="#c0c0c0"/>
<rect x="1232" y="585" width="1" height="4" fill="#c0c0c0"/>
<rect x="1240" y="583" width="1" height="6" fill="#c0c0c0"/>
<rect x="1248" y="583" width="1" height="6" fill="#c0c0c0"/>
<rect x="1256" y="580" width="1" height="9" fill="#c0c0c0"/>
<rect x="1264" y="579" width="1" height="10" fill="#c0c0c0"/>
<rect x="1272" y="577" width="1" height="12" fill="#c0c0c0"/>
<rect x="1280" y="575" width="1" height="14" fill="#c0c0c0"/>
<rect x="1288" y="571" width="1" height="18" fill="#c0c0c0"/>
<rect x="1296" y="570" width="1" height="19" fill="#c0c0c0"/>
<rect x="1304" y="569" width="1" height="20" fill="#c0c0c0"/>
<rect x="1312" y="569" width="1" height="20" fill="#c0c0c0"/>
<rect x="1320" y="571" width="1" height="18" fill="#c0c0c0"/>
<rect x="1328" y="572" width="1" height="17" fill="#c0c0c0"/>
<rect x="1336" y="569" width="1" height="20" fill="#c0c0c0"/>
<rect x="1344" y="568" width="1" height="21" fill="#c0c0c0"/>
<rect x="1352" y="566" width="1" height="23" fill="#c0c0c0"/>
<rect x="1360" y="566" width="1" height="23" fill="#c0c0c0"/>
<rect x="1368" y="565" width="1" height="24" fill="#c0c0c0"/>
<rect x="1376" y="565" width="1" height="24" fill="#c0c0c0"/>
<rect x="1384" y="566" width="1" height="23" fill="#c0c0c0"/>
<rect x="1392" y="567" width="1" height="22" fill="#c0c0c0"/>
<rect x="1400" y="568" width="1" height="21" fill="#c0c0c0"/>
<rect x="1408" y="568" width="1" height="21" fill="#c0c0c0"/>
<rect x="1416" y="568" width="1" height="21" fill="#c0c0c0"/>
<rect x="1424" y="568" width="1" height="21" fill="#c0c0c0"/>
<rect x="1432" y="565" width="1" height="24" fill="#c0c0c0"/>
<rect x="1440" y="566" width="1" height="23" fill="#c0c0c0"/>
<rect x="1448" y="567" width="1" height="22" fill="#c0c0c0"/>
<rect x="1456" y="567" width="1" height="22" fill="#c0c0c0"/>
<rect x="1464" y="567" width="1" height="22" fill="#c0c0c0"/>
<rect x="1472" y="568" width="1" height="21" fill="#c0c0c0"/>
<rect x="1480" y="571" width="1" height="18" fill="#c0c0c0"/>
<rect x="1488" y="573" width="1" height="16" fill="#c0c0c0"/>
<rect x="1496" y="572" width="1" height="17" fill="#c0c0c0"/>
<rect x="1504" y="574" width="1" height="15" fill="#c0c0c0"/>
<rect x="1512" y="575" width="1" height="14" fill="#c0c0c0"/>
<rect x="1520" y="576" width="1" height="13" fill="#c0c0c0"/>
<rect x="1528" y="576" width="1" height="13" fill="#c0c0c0"/>
<rect x="1536" y="576" width="1" height="13" fill="#c0c0c0"/>
<rect x="1544" y="576" width="1" height="13" fill="#c0c0c0"/>
<rect x="1552" y="575" width="1" height="14" fill="#c0c0c0"/>
<rect x="1560" y="575" width="1" height="14" fill="#c0c0c0"/>
<rect x="1568" y="575" width="1" height="14" fill="#c0c0c0"/>
<rect x="1576" y="576" width="1" height="13" fill="#c0c0c0"/>
<rect x="1584" y="576" width="1" height="13" fill="#c0c0c0"/>
<rect x="1592" y="581" width="1" height="8" fill="#c0c0c0"/>
<rect x="1600" y="587" width="1" height="2" fill="#c0c0c0"/>
<rect x="1608" y="588" width="1" height="3" fill="#c0c0c0"/>
<rect x="1616" y="588" width="1" height="8" fill="#c0c0c0"/>
<rect x="1624" y="588" width="1" height="13" fill="#c0c0c0"/>
<rect x="1632" y="588" width="1" height="17" fill="#c0c0c0"/>
<rect x="1640" y="588" width="1" height="14" fill="#c0c0c0"/>
<rect x="1648" y="588" width="1" height="9" fill="#c0c0c0"/>
<rect x="1656" y="588" width="1" height="5" fill="#c0c0c0"/>
<rect x="1664" y="588" width="1" height="4" fill="#c0c0c0"/>
</g>
<g shape-rendering="crispEdges" fill="#ff0000" mask="url(#dash)">
<rect x="0" y="545" width="13" height="1"/>
<rect x="13" y="546" width="19" height="1"/>
<rect x="32" y="547" width="11" height="1"/>
<rect x="43" y="548" width="4" height="1"/>
<rect x="47" y="549" width="5" height="1"/>
<rect x="52" y="550" width="7" height="1"/>
<rect x="59" y="551" width="5" height="1"/>
<rect x="64" y="552" width="3" height="1"/>
<rect x="67" y="553" width="2" height="1"/>
<rect x="69" y="554" width="3" height="1"/>
<rect x="72" y="555" width="2" height="1"/>
<rect x="74" y="556" width="1" height="1"/>
<rect x="75" y="557" width="2" height="1"/>
<rect x="77" y="558" width="2" height="1"/>
<rect x="79" y="559" width="1" height="1"/>
<rect x="80" y="560" width="2" height="1"/>
<rect x="82" y="561" width="1" height="1"/>
<rect x="83" y="562" width="1" height="1"/>
<rect x="84" y="563" width="2" height="1"/>
<rect x="86" y="564" width="1" height="1"/>
<rect x="87" y="565" width="1" height="1"/>
<rect x="88" y="566" width="2" height="1"/>
<rect x="90" y="567" width="2" height="1"/>
<rect x="92" y="568" width="1" height="1"/>
<rect x="93" y="569" width="2" height="1"/>
<rect x="95" y="570" width="1" height="1"/>
<rect x="96" y="571" width="2" height="1"/>
<rect x="98" y="572" width="2" height="1"/>
<rect x="100" y="573" width="2" height="1"/>
<rect x="102" y="574" width="2" height="1"/>
<rect x="104" y="575" width="2" height="1"/>
<rect x="106" y="576" width="2" height="1"/>
<rect x="108" y="577" width="1" height="1"/>
<rect x="109" y="578" width="2" height="1"/>
<rect x="111" y="579" width="1" height="1"/>
<rect x="112" y="580" width="2" height="1"/>
<rect x="114" y="581" width="2" height="1"/>
<rect x="116" y="582" width="2" height="1"/>
<rect x="118" y="583" width="2" height="1"/>
<rect x="120" y="584" width="3" height="1"/>
<rect x="123" y="585" width="3" height="1"/>
<rect x="126" y="586" width="2" height="1"/>
<rect x="128" y="587" width="3" height="1"/>
<rect x="131" y="588" width="3" height="1"/>
<rect x="134" y="589" width="2" height="1"/>
<rect x="136" y="590" width="4" height="1"/>
<rect x="140" y="591" width="3" height="1"/>
<rect x="143" y="592" width="9" height="1"/>
<rect x="152" y="593" width="1" height="1"/>
<rect x="153" y="592" width="5" height="1"/>
<rect x="158" y="591" width="6" height="1"/>
<rect x="164" y="590" width="5" height="1"/>
<rect x="169" y="589" width="2" height="1"/>
<rect x="171" y="588" width="2" height="1"/>
<rect x="173" y="587" width="2" height="1"/>
<rect x="175" y="586" width="2" height="1"/>
<rect x="177" y="585" width="1" height="1"/>
<rect x="178" y="584" width="2" height="1"/>
<rect x="180" y="583" width="2" height="1"/>
<rect x="182" y="582" width="2" height="1"/>
<rect x="184" y="581" width="2" height="1"/>
<rect x="186" y="580" width="2" height="1"/>
<rect x="188" y="579" width="2" height="1"/>
<rect x="190" y="578" width="3" height="1"/>
<rect x="193" y="577" width="2" height="1"/>
<rect x="195" y="576" width="2" height="1"/>
<rect x="197" y="575" width="2" height="1"/>
<rect x="199" y="574" width="2" height="1"/>
<rect x="201" y="573" width="2" height="1"/>
<rect x="203" y="572" width="2" height="1"/>
<rect x="205" y="571" width="3" height="1"/>
<rect x="208" y="570" width="1" height="1"/>
<rect x="209" y="569" width="2" height="1"/>
<rect x="211" y="568" width="1" height="1"/>
<rect x="212" y="567" width="2" height="1"/>
<rect x="214" y="566" width="1" height="1"/>
<rect x="215" y="565" width="2" height="1"/>
<rect x="217" y="564" width="2" height="1"/>
<rect x="219" y="563" width="2" height="1"/>
<rect x="221" y="562" width="2" height="1"/>
<rect x="223" y="561" width="2" height="1"/>
<rect x="225" y="560" width="1" height="1"/>
<rect x="226" y="559" width="2" height="1"/>
<rect x="228" y="558" width="1" height="1"/>
<rect x="229" y="557" width="2" height="1"/>
<rect x="231" y="556" width="2" height="1"/>
<rect x="233" y="555" width="2" height="1"/>
<rect x="235" y="554" width="2" height="1"/>
<rect x="237" y="553" width="2" height="1"/>
<rect x="239" y="552" width="2" height="1"/>
<rect x="241" y="551" width="2" height="1"/>
<rect x="243" y="550" width="3" height="1"/>
<rect x="246" y="549" width="3" height="1"/>
<rect x="249" y="548" width="3" height="1"/>
<rect x="252" y="547" width="3" height="1"/>
<rect x="255" y="546" width="4" height="1"/>
<rect x="259" y="545" width="4" height="1"/>
<rect x="263" y="544" width="3" height="1"/>
<rect x="266" y="543" width="3" height="1"/>
<rect x="269" y="542" width="4" height="1"/>
<rect x="273" y="541" width="4" height="1"/>
<rect x="277" y="540" width="4" height="1"/>
<rect x="281" y="539" width="2" height="1"/>
<rect x="283" y="538" width="3" height="1"/>
<rect x="286" y="537" width="3" height="1"/>
<rect x="289" y="536" width="2" height="1"/>
<rect x="291" y="535" width="3" height="1"/>
<rect x="294" y="534" width="3" height="1"/>
<rect x="297" y="533" width="5" height="1"/>
<rect x="302" y="532" width="5" height="1"/>
<rect x="307" y="531" width="6" height="1"/>
<rect x="313" y="530" width="8" height="1"/>
<rect x="321" y="529" width="23" height="1"/>
<rect x="344" y="530" width="5" height="1"/>
<rect x="349" y="531" width="5" height="1"/>
<rect x="354" y="532" width="5" height="1"/>
<rect x="359" y="533" width="3" height="1"/>
<rect x="362" y="534" width="3" height="1"/>
<rect x="365" y="535" width="2" height="1"/>
<rect x="367" y="536" width="4" height="1"/>
<rect x="371" y="537" width="5" height="1"/>
<rect x="376" y="538" width="4" height="1"/>
<rect x="380" y="539" width="3" height="1"/>
<rect x="383" y="540" width="6" height="1"/>
<rect x="389" y="541" width="8" height="1"/>
<rect x="397" y="542" width="6" height="1"/>
<rect x="403" y="541" width="6" height="1"/>
<rect x="409" y="540" width="5" height="1"/>
<rect x="414" y="539" width="4" height="1"/>
<rect x="418" y="538" width="3" height="1"/>
<rect x="421" y="537" width="4" height="1"/>
<rect x="425" y="536" width="3" height="1"/>
<rect x="428" y="535" width="3" height="1"/>
<rect x="431" y="534" width="3" height="1"/>
<rect x="434" y="533" width="3" height="1"/>
<rect x="437" y="532" width="2" height="1"/>
<rect x="439" y="531" width="3" height="1"/>
<rect x="442" y="530" width="2" height="1"/>
<rect x="444" y="529" width="1" height="1"/>
<rect x="445" y="528" width="2" height="1"/>
<rect x="447" y="527" width="2" height="1"/>
<rect x="449" y="526" width="2" height="1"/>
<rect x="451" y="525" width="3" height="1"/>
<rect x="454" y="524" width="2" height="1"/>
<rect x="456" y="523" width="3" height="1"/>
<rect x="459" y="522" width="3" height="1"/>
<rect x="462" y="521" width="7" height="1"/>
<rect x="469" y="520" width="11" height="1"/>
<rect x="480" y="521" width="6" height="1"/>
<rect x="486" y="522" width="4" height="1"/>
<rect x="490" y="523" width="3" height="1"/>
<rect x="493" y="524" width="2" height="1"/>
<rect x="495" y="525" width="3" height="1"/>
<rect x="498" y="526" width="2" height="1"/>
<rect x="500" y="527" width="1" height="1"/>
<rect x="501" y="528" width="2" height="1"/>
<rect x="503" y="529" width="2" height="1"/>
<rect x="505" y="530" width="2" height="1"/>
<rect x="507" y="531" width="2" height="1"/>
<rect x="509" y="532" width="2" height="1"/>
<rect x="511" y="533" width="1" height="1"/>
<rect x="512" y="534" width="2" height="1"/>
<rect x="514" y="535" width="2" height="1"/>
<rect x="516" y="536" width="1" height="1"/>
<rect x="517" y="537" width="2" height="1"/>
<rect x="519" y="538" width="1" height="1"/>
<rect x="520" y="539" width="2" height="1"/>
<rect x="522" y="540" width="1" height="1"/>
<rect x="523" y="541" width="1" height="1"/>
<rect x="524" y="542" width="2" height="1"/>
<rect x="526" y="543" width="1" height="1"/>
<rect x="527" y="544" width="1" height="1"/>
<rect x="528" y="545" width="2" height="1"/>
<rect x="530" y="546" width="2" height="1"/>
<rect x="532" y="547" width="1" height="1"/>
<rect x="533" y="548" width="2" height="1"/>
<rect x="535" y="549" width="1" height="1"/>
<rect x="536" y="550" width="2" height="1"/>
<rect x="538" y="551" width="2" height="1"/>
<rect x="540" y="552" width="2" height="1"/>
<rect x="542" y="553" width="1" height="1"/>
<rect x="543" y="554" width="2" height="1"/>
<rect x="545" y="555" width="2" height="1"/>
<rect x="547" y="556" width="3" height="1"/>
<rect x="550" y="557" width="2" height="1"/>
<rect x="552" y="558" width="2" height="1"/>
<rect x="554" y="559" width="3" height="1"/>
<rect x="557" y="560" width="2" height="1"/>
<rect x="559" y="561" width="5" height="1"/>
<rect x="564" y="562" width="6" height="1"/>
<rect x="570" y="563" width="3" height="1"/>
<rect x="573" y="564" width="3" height="1"/>
<rect x="576" y="565" width="4" height="1"/>
<rect x="580" y="566" width="4" height="1"/>
<rect x="584" y="567" width="5" height="1"/>
<rect x="589" y="568" width="5" height="1"/>
<rect x="594" y="569" width="5" height="1"/>
<rect x="599" y="570" width="3" height="1"/>
<rect x="602" y="571" width="3" height="1"/>
<rect x="605" y="572" width="3" height="1"/>
<rect x="608" y="573" width="3" height="1"/>
<rect x="611" y="574" width="2" height="1"/>
<rect x="613" y="575" width="2" height="1"/>
<rect x="615" y="576" width="2" height="1"/>
<rect x="617" y="577" width="2" height="1"/>
<rect x="619" y="578" width="1" height="1"/>
<rect x="620" y="579" width="2" height="1"/>
<rect x="622" y="580" width="2" height="1"/>
<rect x="624" y="581" width="1" height="1"/>
<rect x="625" y="582" width="2" height="1"/>
<rect x="627" y="583" width="1" height="1"/>
<rect x="628" y="584" width="2" height="1"/>
<rect x="630" y="585" width="1" height="1"/>
<rect x="631" y="586" width="1" height="1"/>
<rect x="632" y="587" width="2" height="1"/>
<rect x="634" y="588" width="1" height="1"/>
<rect x="635" y="589" width="1" height="1"/>
<rect x="636" y="590" width="2" height="1"/>
<rect x="638" y="591" width="1" height="1"/>
<rect x="639" y="592" width="1" height="1"/>
<rect x="640" y="593" width="2" height="1"/>
<rect x="642" y="594" width="1" height="1"/>
<rect x="643" y="595" width="1" height="1"/>
<rect x="644" y="596" width="1" height="1"/>
<rect x="645" y="597" width="2" height="1"/>
<rect x="647" y="598" width="1" height="1"/>
<rect x="648" y="599" width="1" height="1"/>
<rect x="649" y="600" width="2" height="1"/>
<rect x="651" y="601" width="1" height="1"/>
<rect x="652" y="602" width="2" height="1"/>
<rect x="654" y="603" width="1" height="1"/>
<rect x="655" y="604" width="1" height="1"/>
<rect x="656" y="605" width="2" height="1"/>
<rect x="658" y="606" width="1" height="1"/>
<rect x="659" y="607" width="1" height="1"/>
<rect x="660" y="608" width="2" height="1"/>
<rect x="662" y="609" width="1" height="1"/>
<rect x="663" y="610" width="1" height="1"/>
<rect x="664" y="611" width="2" height="1"/>
<rect x="666" y="612" width="2" height="1"/>
<rect x="668" y="613" width="2" height="1"/>
<rect x="670" y="614" width="2" height="1"/>
<rect x="672" y="615" width="2" height="1"/>
<rect x="674" y="616" width="2" height="1"/>
<rect x="676" y="617" width="2" height="1"/>
<rect x="678" y="618" width="2" height="1"/>
<rect x="680" y="619" width="3" height="1"/>
<rect x="683" y="620" width="2" height="1"/>
<rect x="685" y="621" width="2" height="1"/>
<rect x="687" y="622" width="3" height="1"/>
<rect x="690" y="623" width="3" height="1"/>
<rect x="693" y="624" width="3" height="1"/>
<rect x="696" y="625" width="8" height="1"/>
<rect x="704" y="626" width="6" height="1"/>
<rect x="710" y="627" width="14" height="1"/>
<rect x="724" y="626" width="6" height="1"/>
<rect x="730" y="625" width="3" height="1"/>
<rect x="733" y="624" width="2" height="1"/>
<rect x="735" y="623" width="6" height="1"/>
<rect x="741" y="622" width="4" height="1"/>
<rect x="745" y="621" width="3" height="1"/>
<rect x="748" y="620" width="2" height="1"/>
<rect x="750" y="619" width="3" height="1"/>
<rect x="753" y="618" width="1" height="1"/>
<rect x="754" y="617" width="2" height="1"/>
<rect x="756" y="616" width="2" height="1"/>
<rect x="758" y="615" width="1" height="1"/>
<rect x="759" y="614" width="2" height="1"/>
<rect x="761" y="613" width="1" height="1"/>
<rect x="762" y="612" width="2" height="1"/>
<rect x="764" y="611" width="1" height="1"/>
<rect x="765" y="610" width="1" height="1"/>
<rect x="766" y="609" width="2" height="1"/>
<rect x="768" y="608" width="1" height="1"/>
<rect x="769" y="607" width="1" height="1"/>
<rect x="770" y="606" width="2" height="1"/>
<rect x="772" y="605" width="1" height="1"/>
<rect x="773" y="604" width="1" height="1"/>
<rect x="774" y="603" width="1" height="1"/>
<rect x="775" y="602" width="2" height="1"/>
<rect x="777" y="601" width="1" height="1"/>
<rect x="778" y="600" width="1" height="1"/>
<rect x="779" y="599" width="2" height="1"/>
<rect x="781" y="598" width="1" height="1"/>
<rect x="782" y="597" width="2" height="1"/>
<rect x="784" y="596" width="1" height="1"/>
<rect x="785" y="595" width="2" height="1"/>
<rect x="787" y="594" width="1" height="1"/>
<rect x="788" y="593" width="2" height="1"/>
<rect x="790" y="592" width="1" height="1"/>
<rect x="791" y="591" width="2" height="1"/>
<rect x="793" y="590" width="2" height="1"/>
<rect x="795" y="589" width="2" height="1"/>
<rect x="797" y="588" width="2" height="1"/>
<rect x="799" y="587" width="2" height="1"/>
<rect x="801" y="586" width="2" height="1"/>
<rect x="803" y="585" width="2" height="1"/>
<rect x="805" y="584" width="2" height="1"/>
<rect x="807" y="583" width="2" height="1"/>
<rect x="809" y="582" width="2" height="1"/>
<rect x="811" y="581" width="2" height="1"/>
<rect x="813" y="580" width="2" height="1"/>
<rect x="815" y="579" width="3" height="1"/>
<rect x="818" y="578" width="2" height="1"/>
<rect x="820" y="577" width="3" height="1"/>
<rect x="823" y="576" width="3" height="1"/>
<rect x="826" y="575" width="4" height="1"/>
<rect x="830" y="574" width="5" height="1"/>
<rect x="835" y="573" width="6" height="1"/>
<rect x="841" y="572" width="5" height="1"/>
<rect x="846" y="571" width="4" height="1"/>
<rect x="850" y="570" width="2" height="1"/>
<rect x="852" y="569" width="3" height="1"/>
<rect x="855" y="568" width="4" height="1"/>
<rect x="859" y="567" width="6" height="1"/>
<rect x="865" y="566" width="5" height="1"/>
<rect x="870" y="565" width="4" height="1"/>
<rect x="874" y="564" width="3" height="1"/>
<rect x="877" y="563" width="4" height="1"/>
<rect x="881" y="562" width="2" height="1"/>
<rect x="883" y="561" width="2" height="1"/>
<rect x="885" y="560" width="3" height="1"/>
<rect x="888" y="559" width="2" height="1"/>
<rect x="890" y="558" width="2" height="1"/>
<rect x="892" y="557" width="2" height="1"/>
<rect x="894" y="556" width="3" height="1"/>
<rect x="897" y="555" width="3" height="1"/>
<rect x="900" y="554" width="3" height="1"/>
<rect x="903" y="553" width="3" height="1"/>
<rect x="906" y="552" width="2" height="1"/>
<rect x="908" y="551" width="3" height="1"/>
<rect x="911" y="550" width="3" height="1"/>
<rect x="914" y="549" width="2" height="1"/>
<rect x="916" y="548" width="3" height="1"/>
<rect x="919" y="547" width="3" height="1"/>
<rect x="922" y="546" width="3" height="1"/>
<rect x="925" y="545" width="2" height="1"/>
<rect x="927" y="544" width="6" height="1"/>
<rect x="933" y="543" width="6" height="1"/>
<rect x="939" y="542" width="6" height="1"/>
<rect x="945" y="541" width="48" height="1"/>
<rect x="993" y="540" width="11" height="1"/>
<rect x="1004" y="539" width="28" height="1"/>
<rect x="1032" y="540" width="6" height="1"/>
<rect x="1038" y="541" width="4" height="1"/>
<rect x="1042" y="542" width="3" height="1"/>
<rect x="1045" y="543" width="2" height="1"/>
<rect x="1047" y="544" width="3" height="1"/>
<rect x="1050" y="545" width="2" height="1"/>
<rect x="1052" y="546" width="1" height="1"/>
<rect x="1053" y="547" width="2" height="1"/>
<rect x="1055" y="548" width="2" height="1"/>
<rect x="1057" y="549" width="2" height="1"/>
<rect x="1059" y="550" width="2" height="1"/>
<rect x="1061" y="551" width="2" height="1"/>
<rect x="1063" y="552" width="1" height="1"/>
<rect x="1064" y="553" width="2" height="1"/>
<rect x="1066" y="554" width="1" height="1"/>
<rect x="1067" y="555" width="1" height="1"/>
<rect x="1068" y="556" width="1" height="1"/>
<rect x="1069" y="557" width="1" height="1"/>
<rect x="1070" y="558" width="1" height="1"/>
<rect x="1071" y="559" width="1" height="1"/>
<rect x="1072" y="560" width="1" height="1"/>
<rect x="1073" y="561" width="1" height="1"/>
<rect x="1074" y="562" width="1" height="1"/>
<rect x="1075" y="563" width="1" height="1"/>
<rect x="1076" y="564" width="1" height="1"/>
<rect x="1077" y="565" width="1" height="1"/>
<rect x="1078" y="566" width="1" height="1"/>
<rect x="1079" y="567" width="1" height="1"/>
<rect x="1080" y="568" width="1" height="1"/>
<rect x="1081" y="569" width="1" height="1"/>
<rect x="1082" y="570" width="1" height="1"/>
<rect x="1083" y="571" width="1" height="1"/>
<rect x="1084" y="572" width="1" height="1"/>
<rect x="1085" y="573" width="1" height="1"/>
<rect x="1086" y="574" width="1" height="1"/>
<rect x="1087" y="575" width="1" height="1"/>
<rect x="1088" y="576" width="1" height="1"/>
<rect x="1089" y="577" width="1" height="1"/>
<rect x="1090" y="578" width="1" height="1"/>
<rect x="1091" y="579" width="1" height="1"/>
<rect x="1092" y="580" width="1" height="1"/>
<rect x="1093" y="581" width="1" height="1"/>
<rect x="1094" y="582" width="1" height="1"/>
<rect x="1095" y="583" width="1" height="1"/>
<rect x="1096" y="584" width="1" height="2"/>
<rect x="1097" y="585" width="1" height="1"/>
<rect x="1098" y="586" width="1" height="1"/>
<rect x="1099" y="587" width="1" height="1"/>
<rect x="1100" y="588" width="2" height="1"/>
<rect x="1102" y="589" width="1" height="1"/>
<rect x="1103" y="590" width="1" height="1"/>
<rect x="1104" y="591" width="2" height="1"/>
<rect x="1106" y="592" width="1" height="1"/>
<rect x="1107" y="593" width="1" height="1"/>
<rect x="1108" y="594" width="1" height="1"/>
<rect x="1109" y="595" width="1" height="1"/>
<rect x="1110" y="596" width="1" height="1"/>
<rect x="1111" y="597" width="1" height="1"/>
<rect x="1112" y="598" width="2" height="1"/>
<rect x="1114" y="599" width="1" height="1"/>
<rect x="1115" y="600" width="1" height="1"/>
<rect x="1116" y="601" width="2" height="1"/>
<rect x="1118" y="602" width="1" height="1"/>
<rect x="1119" y="603" width="1" height="1"/>
<rect x="1120" y="604" width="4" height="1"/>
<rect x="1124" y="605" width="4" height="1"/>
<rect x="1128" y="606" width="4" height="1"/>
<rect x="1132" y="607" width="4" height="1"/>
<rect x="1136" y="608" width="25" height="1"/>
<rect x="1161" y="607" width="5" height="1"/>
<rect x="1166" y="606" width="5" height="1"/>
<rect x="1171" y="605" width="19" height="1"/>
<rect x="1190" y="606" width="19" height="1"/>
<rect x="1209" y="605" width="5" height="1"/>
<rect x="1214" y="604" width="6" height="1"/>
<rect x="1220" y="603" width="5" height="1"/>
<rect x="1225" y="602" width="4" height="1"/>
<rect x="1229" y="601" width="4" height="1"/>
<rect x="1233" y="600" width="3" height="1"/>
<rect x="1236" y="599" width="3" height="1"/>
<rect x="1239" y="598" width="3" height="1"/>
<rect x="1242" y="597" width="3" height="1"/>
<rect x="1245" y="596" width="2" height="1"/>
<rect x="1247" y="595" width="2" height="1"/>
<rect x="1249" y="594" width="3" height="1"/>
<rect x="1252" y="593" width="2" height="1"/>
<rect x="1254" y="592" width="3" height="1"/>
<rect x="1257" y="591" width="2" height="1"/>
<rect x="1259" y="590" width="2" height="1"/>
<rect x="1261" y="589" width="2" height="1"/>
<rect x="1263" y="588" width="3" height="1"/>
<rect x="1266" y="587" width="2" height="1"/>
<rect x="1268" y="586" width="3" height="1"/>
<rect x="1271" y="585" width="2" height="1"/>
<rect x="1273" y="584" width="3" height="1"/>
<rect x="1276" y="583" width="2" height="1"/>
<rect x="1278" y="582" width="3" height="1"/>
<rect x="1281" y="581" width="3" height="1"/>
<rect x="1284" y="580" width="3" height="1"/>
<rect x="1287" y="579" width="4" height="1"/>
<rect x="1291" y="578" width="3" height="1"/>
<rect x="1294" y="577" width="4" height="1"/>
<rect x="1298" y="576" width="4" height="1"/>
<rect x="1302" y="575" width="6" height="1"/>
<rect x="1308" y="574" width="7" height="1"/>
<rect x="1315" y="573" width="6" height="1"/>
<rect x="1321" y="572" width="5" height="1"/>
<rect x="1326" y="571" width="6" height="1"/>
<rect x="1332" y="570" width="7" height="1"/>
<rect x="1339" y="569" width="6" height="1"/>
<rect x="1345" y="568" width="16" height="1"/>
<rect x="1361" y="567" width="8" height="1"/>
<rect x="1369" y="566" width="32" height="1"/>
<rect x="1401" y="565" width="12" height="1"/>
<rect x="1413" y="566" width="72" height="1"/>
<rect x="1485" y="567" width="16" height="1"/>
<rect x="1501" y="568" width="11" height="1"/>
<rect x="1512" y="569" width="6" height="1"/>
<rect x="1518" y="570" width="7" height="1"/>
<rect x="1525" y="571" width="8" height="1"/>
<rect x="1533" y="572" width="11" height="1"/>
<rect x="1544" y="573" width="8" height="1"/>
<rect x="1552" y="574" width="24" height="1"/>
<rect x="1576" y="575" width="16" height="1"/>
<rect x="1592" y="576" width="8" height="1"/>
<rect x="1600" y="577" width="8" height="1"/>
<rect x="1608" y="578" width="3" height="1"/>
<rect x="1611" y="579" width="2" height="1"/>
<rect x="1613" y="580" width="3" height="1"/>
<rect x="1616" y="581" width="2" height="1"/>
<rect x="1618" y="582" width="3" height="1"/>
<rect x="1621" y="583" width="3" height="1"/>
<rect x="1624" y="584" width="3" height="1"/>
<rect x="1627" y="585" width="3" height="1"/>
<rect x="1630" y="586" width="2" height="1"/>
<rect x="1632" y="587" width="3" height="1"/>
<rect x="1635" y="588" width="3" height="1"/>
<rect x="1638" y="589" width="2" height="1"/>
<rect x="1640" y="590" width="3" height="1"/>
<rect x="1643" y="591" width="2" height="1"/>
<rect x="1645" y="592" width="3" height="1"/>
<rect x="1648" y="593" width="3" height="1"/>
<rect x="1651" y="594" width="4" height="1"/>
<rect x="1655" y="595" width="6" height="1"/>
<rect x="1661" y="596" width="4" height="1"/>
</g>
<g shape-rendering="crispEdges">
<rect x="1686" y="504" width="1" height="1" fill="#000"/>
<rect x="1686" y="588" width="2" height="1" fill="#000"/>
<rect x="1686" y="640" width="1" height="1" fill="#000"/>
<rect x="1686" y="645" width="1" height="1" fill="#000"/>
<rect x="1686" y="682" width="2" height="1" fill="#000"/>
<rect x="1686" y="733" width="2" height="1" fill="#000"/>
<rect x="1686" y="770" width="1" height="1" fill="#000"/>
</g>
<text transform="translate(1688.8 513) scale(0.953 1)" fill="#000" stroke="#000" stroke-width="0.1" font-size="9.7">1.2281</text>
<text transform="translate(1688.6 592) scale(0.953 1)" fill="#000" stroke="#000" stroke-width="0.1" font-size="9.7">0.00</text>
<text transform="translate(1688.4 638.2) scale(0.953 1)" fill="#000" stroke="#000" stroke-width="0.1" font-size="9.7">-0.7738</text>
<text transform="translate(4.5 515) scale(0.97 1)" fill="#000" stroke="#000" stroke-width="0.1" font-size="9.7">MACD(12,26,9) -0.0631 -0.1222</text>
<g shape-rendering="crispEdges" fill="#c0c0c0">
<rect x="1" y="682" width="3" height="1" fill="#c0c0c0"/>
<rect x="7" y="682" width="3" height="1" fill="#c0c0c0"/>
<rect x="13" y="682" width="3" height="1" fill="#c0c0c0"/>
<rect x="19" y="682" width="3" height="1" fill="#c0c0c0"/>
<rect x="25" y="682" width="3" height="1" fill="#c0c0c0"/>
<rect x="31" y="682" width="3" height="1" fill="#c0c0c0"/>
<rect x="37" y="682" width="3" height="1" fill="#c0c0c0"/>
<rect x="43" y="682" width="3" height="1" fill="#c0c0c0"/>
<rect x="49" y="682" width="3" height="1" fill="#c0c0c0"/>
<rect x="55" y="682" width="3" height="1" fill="#c0c0c0"/>
<rect x="61" y="682" width="3" height="1" fill="#c0c0c0"/>
<rect x="67" y="682" width="3" height="1" fill="#c0c0c0"/>
<rect x="73" y="682" width="3" height="1" fill="#c0c0c0"/>
<rect x="79" y="682" width="3" height="1" fill="#c0c0c0"/>
<rect x="85" y="682" width="3" height="1" fill="#c0c0c0"/>
<rect x="91" y="682" width="3" height="1" fill="#c0c0c0"/>
<rect x="97" y="682" width="3" height="1" fill="#c0c0c0"/>
<rect x="103" y="682" width="3" height="1" fill="#c0c0c0"/>
<rect x="109" y="682" width="3" height="1" fill="#c0c0c0"/>
<rect x="115" y="682" width="3" height="1" fill="#c0c0c0"/>
<rect x="121" y="682" width="3" height="1" fill="#c0c0c0"/>
<rect x="127" y="682" width="3" height="1" fill="#c0c0c0"/>
<rect x="133" y="682" width="3" height="1" fill="#c0c0c0"/>
<rect x="139" y="682" width="3" height="1" fill="#c0c0c0"/>
<rect x="145" y="682" width="3" height="1" fill="#c0c0c0"/>
<rect x="151" y="682" width="3" height="1" fill="#c0c0c0"/>
<rect x="157" y="682" width="3" height="1" fill="#c0c0c0"/>
<rect x="163" y="682" width="3" height="1" fill="#c0c0c0"/>
<rect x="169" y="682" width="3" height="1" fill="#c0c0c0"/>
<rect x="175" y="682" width="3" height="1" fill="#c0c0c0"/>
<rect x="181" y="682" width="3" height="1" fill="#c0c0c0"/>
<rect x="187" y="682" width="3" height="1" fill="#c0c0c0"/>
<rect x="193" y="682" width="3" height="1" fill="#c0c0c0"/>
<rect x="199" y="682" width="3" height="1" fill="#c0c0c0"/>
<rect x="205" y="682" width="3" height="1" fill="#c0c0c0"/>
<rect x="211" y="682" width="3" height="1" fill="#c0c0c0"/>
<rect x="217" y="682" width="3" height="1" fill="#c0c0c0"/>
<rect x="223" y="682" width="3" height="1" fill="#c0c0c0"/>
<rect x="229" y="682" width="3" height="1" fill="#c0c0c0"/>
<rect x="235" y="682" width="3" height="1" fill="#c0c0c0"/>
<rect x="241" y="682" width="3" height="1" fill="#c0c0c0"/>
<rect x="247" y="682" width="3" height="1" fill="#c0c0c0"/>
<rect x="253" y="682" width="3" height="1" fill="#c0c0c0"/>
<rect x="259" y="682" width="3" height="1" fill="#c0c0c0"/>
<rect x="265" y="682" width="3" height="1" fill="#c0c0c0"/>
<rect x="271" y="682" width="3" height="1" fill="#c0c0c0"/>
<rect x="277" y="682" width="3" height="1" fill="#c0c0c0"/>
<rect x="283" y="682" width="3" height="1" fill="#c0c0c0"/>
<rect x="289" y="682" width="3" height="1" fill="#c0c0c0"/>
<rect x="295" y="682" width="3" height="1" fill="#c0c0c0"/>
<rect x="301" y="682" width="3" height="1" fill="#c0c0c0"/>
<rect x="307" y="682" width="3" height="1" fill="#c0c0c0"/>
<rect x="313" y="682" width="3" height="1" fill="#c0c0c0"/>
<rect x="319" y="682" width="3" height="1" fill="#c0c0c0"/>
<rect x="325" y="682" width="3" height="1" fill="#c0c0c0"/>
<rect x="331" y="682" width="3" height="1" fill="#c0c0c0"/>
<rect x="337" y="682" width="3" height="1" fill="#c0c0c0"/>
<rect x="343" y="682" width="3" height="1" fill="#c0c0c0"/>
<rect x="349" y="682" width="3" height="1" fill="#c0c0c0"/>
<rect x="355" y="682" width="3" height="1" fill="#c0c0c0"/>
<rect x="361" y="682" width="3" height="1" fill="#c0c0c0"/>
<rect x="367" y="682" width="3" height="1" fill="#c0c0c0"/>
<rect x="373" y="682" width="3" height="1" fill="#c0c0c0"/>
<rect x="379" y="682" width="3" height="1" fill="#c0c0c0"/>
<rect x="385" y="682" width="3" height="1" fill="#c0c0c0"/>
<rect x="391" y="682" width="3" height="1" fill="#c0c0c0"/>
<rect x="397" y="682" width="3" height="1" fill="#c0c0c0"/>
<rect x="403" y="682" width="3" height="1" fill="#c0c0c0"/>
<rect x="409" y="682" width="3" height="1" fill="#c0c0c0"/>
<rect x="415" y="682" width="3" height="1" fill="#c0c0c0"/>
<rect x="421" y="682" width="3" height="1" fill="#c0c0c0"/>
<rect x="427" y="682" width="3" height="1" fill="#c0c0c0"/>
<rect x="433" y="682" width="3" height="1" fill="#c0c0c0"/>
<rect x="439" y="682" width="3" height="1" fill="#c0c0c0"/>
<rect x="445" y="682" width="3" height="1" fill="#c0c0c0"/>
<rect x="451" y="682" width="3" height="1" fill="#c0c0c0"/>
<rect x="457" y="682" width="3" height="1" fill="#c0c0c0"/>
<rect x="463" y="682" width="3" height="1" fill="#c0c0c0"/>
<rect x="469" y="682" width="3" height="1" fill="#c0c0c0"/>
<rect x="475" y="682" width="3" height="1" fill="#c0c0c0"/>
<rect x="481" y="682" width="3" height="1" fill="#c0c0c0"/>
<rect x="487" y="682" width="3" height="1" fill="#c0c0c0"/>
<rect x="493" y="682" width="3" height="1" fill="#c0c0c0"/>
<rect x="499" y="682" width="3" height="1" fill="#c0c0c0"/>
<rect x="505" y="682" width="3" height="1" fill="#c0c0c0"/>
<rect x="511" y="682" width="3" height="1" fill="#c0c0c0"/>
<rect x="517" y="682" width="3" height="1" fill="#c0c0c0"/>
<rect x="523" y="682" width="3" height="1" fill="#c0c0c0"/>
<rect x="529" y="682" width="3" height="1" fill="#c0c0c0"/>
<rect x="535" y="682" width="3" height="1" fill="#c0c0c0"/>
<rect x="541" y="682" width="3" height="1" fill="#c0c0c0"/>
<rect x="547" y="682" width="3" height="1" fill="#c0c0c0"/>
<rect x="553" y="682" width="3" height="1" fill="#c0c0c0"/>
<rect x="559" y="682" width="3" height="1" fill="#c0c0c0"/>
<rect x="565" y="682" width="3" height="1" fill="#c0c0c0"/>
<rect x="571" y="682" width="3" height="1" fill="#c0c0c0"/>
<rect x="577" y="682" width="3" height="1" fill="#c0c0c0"/>
<rect x="583" y="682" width="3" height="1" fill="#c0c0c0"/>
<rect x="589" y="682" width="3" height="1" fill="#c0c0c0"/>
<rect x="595" y="682" width="3" height="1" fill="#c0c0c0"/>
<rect x="601" y="682" width="3" height="1" fill="#c0c0c0"/>
<rect x="607" y="682" width="3" height="1" fill="#c0c0c0"/>
<rect x="613" y="682" width="3" height="1" fill="#c0c0c0"/>
<rect x="619" y="682" width="3" height="1" fill="#c0c0c0"/>
<rect x="625" y="682" width="3" height="1" fill="#c0c0c0"/>
<rect x="631" y="682" width="3" height="1" fill="#c0c0c0"/>
<rect x="637" y="682" width="3" height="1" fill="#c0c0c0"/>
<rect x="643" y="682" width="3" height="1" fill="#c0c0c0"/>
<rect x="649" y="682" width="3" height="1" fill="#c0c0c0"/>
<rect x="655" y="682" width="3" height="1" fill="#c0c0c0"/>
<rect x="661" y="682" width="3" height="1" fill="#c0c0c0"/>
<rect x="667" y="682" width="3" height="1" fill="#c0c0c0"/>
<rect x="673" y="682" width="3" height="1" fill="#c0c0c0"/>
<rect x="679" y="682" width="3" height="1" fill="#c0c0c0"/>
<rect x="685" y="682" width="3" height="1" fill="#c0c0c0"/>
<rect x="691" y="682" width="3" height="1" fill="#c0c0c0"/>
<rect x="697" y="682" width="3" height="1" fill="#c0c0c0"/>
<rect x="703" y="682" width="3" height="1" fill="#c0c0c0"/>
<rect x="709" y="682" width="3" height="1" fill="#c0c0c0"/>
<rect x="715" y="682" width="3" height="1" fill="#c0c0c0"/>
<rect x="721" y="682" width="3" height="1" fill="#c0c0c0"/>
<rect x="727" y="682" width="3" height="1" fill="#c0c0c0"/>
<rect x="733" y="682" width="3" height="1" fill="#c0c0c0"/>
<rect x="739" y="682" width="3" height="1" fill="#c0c0c0"/>
<rect x="745" y="682" width="3" height="1" fill="#c0c0c0"/>
<rect x="751" y="682" width="3" height="1" fill="#c0c0c0"/>
<rect x="757" y="682" width="3" height="1" fill="#c0c0c0"/>
<rect x="763" y="682" width="3" height="1" fill="#c0c0c0"/>
<rect x="769" y="682" width="3" height="1" fill="#c0c0c0"/>
<rect x="775" y="682" width="3" height="1" fill="#c0c0c0"/>
<rect x="781" y="682" width="3" height="1" fill="#c0c0c0"/>
<rect x="787" y="682" width="3" height="1" fill="#c0c0c0"/>
<rect x="793" y="682" width="3" height="1" fill="#c0c0c0"/>
<rect x="799" y="682" width="3" height="1" fill="#c0c0c0"/>
<rect x="805" y="682" width="3" height="1" fill="#c0c0c0"/>
<rect x="811" y="682" width="3" height="1" fill="#c0c0c0"/>
<rect x="817" y="682" width="3" height="1" fill="#c0c0c0"/>
<rect x="823" y="682" width="3" height="1" fill="#c0c0c0"/>
<rect x="829" y="682" width="3" height="1" fill="#c0c0c0"/>
<rect x="835" y="682" width="3" height="1" fill="#c0c0c0"/>
<rect x="841" y="682" width="3" height="1" fill="#c0c0c0"/>
<rect x="847" y="682" width="3" height="1" fill="#c0c0c0"/>
<rect x="853" y="682" width="3" height="1" fill="#c0c0c0"/>
<rect x="859" y="682" width="3" height="1" fill="#c0c0c0"/>
<rect x="865" y="682" width="3" height="1" fill="#c0c0c0"/>
<rect x="871" y="682" width="3" height="1" fill="#c0c0c0"/>
<rect x="877" y="682" width="3" height="1" fill="#c0c0c0"/>
<rect x="883" y="682" width="3" height="1" fill="#c0c0c0"/>
<rect x="889" y="682" width="3" height="1" fill="#c0c0c0"/>
<rect x="895" y="682" width="3" height="1" fill="#c0c0c0"/>
<rect x="901" y="682" width="3" height="1" fill="#c0c0c0"/>
<rect x="907" y="682" width="3" height="1" fill="#c0c0c0"/>
<rect x="913" y="682" width="3" height="1" fill="#c0c0c0"/>
<rect x="919" y="682" width="3" height="1" fill="#c0c0c0"/>
<rect x="925" y="682" width="3" height="1" fill="#c0c0c0"/>
<rect x="931" y="682" width="3" height="1" fill="#c0c0c0"/>
<rect x="937" y="682" width="3" height="1" fill="#c0c0c0"/>
<rect x="943" y="682" width="3" height="1" fill="#c0c0c0"/>
<rect x="949" y="682" width="3" height="1" fill="#c0c0c0"/>
<rect x="955" y="682" width="3" height="1" fill="#c0c0c0"/>
<rect x="961" y="682" width="3" height="1" fill="#c0c0c0"/>
<rect x="967" y="682" width="3" height="1" fill="#c0c0c0"/>
<rect x="973" y="682" width="3" height="1" fill="#c0c0c0"/>
<rect x="979" y="682" width="3" height="1" fill="#c0c0c0"/>
<rect x="985" y="682" width="3" height="1" fill="#c0c0c0"/>
<rect x="991" y="682" width="3" height="1" fill="#c0c0c0"/>
<rect x="997" y="682" width="3" height="1" fill="#c0c0c0"/>
<rect x="1003" y="682" width="3" height="1" fill="#c0c0c0"/>
<rect x="1009" y="682" width="3" height="1" fill="#c0c0c0"/>
<rect x="1015" y="682" width="3" height="1" fill="#c0c0c0"/>
<rect x="1021" y="682" width="3" height="1" fill="#c0c0c0"/>
<rect x="1027" y="682" width="3" height="1" fill="#c0c0c0"/>
<rect x="1033" y="682" width="3" height="1" fill="#c0c0c0"/>
<rect x="1039" y="682" width="3" height="1" fill="#c0c0c0"/>
<rect x="1045" y="682" width="3" height="1" fill="#c0c0c0"/>
<rect x="1051" y="682" width="3" height="1" fill="#c0c0c0"/>
<rect x="1057" y="682" width="3" height="1" fill="#c0c0c0"/>
<rect x="1063" y="682" width="3" height="1" fill="#c0c0c0"/>
<rect x="1069" y="682" width="3" height="1" fill="#c0c0c0"/>
<rect x="1075" y="682" width="3" height="1" fill="#c0c0c0"/>
<rect x="1081" y="682" width="3" height="1" fill="#c0c0c0"/>
<rect x="1087" y="682" width="3" height="1" fill="#c0c0c0"/>
<rect x="1093" y="682" width="3" height="1" fill="#c0c0c0"/>
<rect x="1099" y="682" width="3" height="1" fill="#c0c0c0"/>
<rect x="1105" y="682" width="3" height="1" fill="#c0c0c0"/>
<rect x="1111" y="682" width="3" height="1" fill="#c0c0c0"/>
<rect x="1117" y="682" width="3" height="1" fill="#c0c0c0"/>
<rect x="1123" y="682" width="3" height="1" fill="#c0c0c0"/>
<rect x="1129" y="682" width="3" height="1" fill="#c0c0c0"/>
<rect x="1135" y="682" width="3" height="1" fill="#c0c0c0"/>
<rect x="1141" y="682" width="3" height="1" fill="#c0c0c0"/>
<rect x="1147" y="682" width="3" height="1" fill="#c0c0c0"/>
<rect x="1153" y="682" width="3" height="1" fill="#c0c0c0"/>
<rect x="1159" y="682" width="3" height="1" fill="#c0c0c0"/>
<rect x="1165" y="682" width="3" height="1" fill="#c0c0c0"/>
<rect x="1171" y="682" width="3" height="1" fill="#c0c0c0"/>
<rect x="1177" y="682" width="3" height="1" fill="#c0c0c0"/>
<rect x="1183" y="682" width="3" height="1" fill="#c0c0c0"/>
<rect x="1189" y="682" width="3" height="1" fill="#c0c0c0"/>
<rect x="1195" y="682" width="3" height="1" fill="#c0c0c0"/>
<rect x="1201" y="682" width="3" height="1" fill="#c0c0c0"/>
<rect x="1207" y="682" width="3" height="1" fill="#c0c0c0"/>
<rect x="1213" y="682" width="3" height="1" fill="#c0c0c0"/>
<rect x="1219" y="682" width="3" height="1" fill="#c0c0c0"/>
<rect x="1225" y="682" width="3" height="1" fill="#c0c0c0"/>
<rect x="1231" y="682" width="3" height="1" fill="#c0c0c0"/>
<rect x="1237" y="682" width="3" height="1" fill="#c0c0c0"/>
<rect x="1243" y="682" width="3" height="1" fill="#c0c0c0"/>
<rect x="1249" y="682" width="3" height="1" fill="#c0c0c0"/>
<rect x="1255" y="682" width="3" height="1" fill="#c0c0c0"/>
<rect x="1261" y="682" width="3" height="1" fill="#c0c0c0"/>
<rect x="1267" y="682" width="3" height="1" fill="#c0c0c0"/>
<rect x="1273" y="682" width="3" height="1" fill="#c0c0c0"/>
<rect x="1279" y="682" width="3" height="1" fill="#c0c0c0"/>
<rect x="1285" y="682" width="3" height="1" fill="#c0c0c0"/>
<rect x="1291" y="682" width="3" height="1" fill="#c0c0c0"/>
<rect x="1297" y="682" width="3" height="1" fill="#c0c0c0"/>
<rect x="1303" y="682" width="3" height="1" fill="#c0c0c0"/>
<rect x="1309" y="682" width="3" height="1" fill="#c0c0c0"/>
<rect x="1315" y="682" width="3" height="1" fill="#c0c0c0"/>
<rect x="1321" y="682" width="3" height="1" fill="#c0c0c0"/>
<rect x="1327" y="682" width="3" height="1" fill="#c0c0c0"/>
<rect x="1333" y="682" width="3" height="1" fill="#c0c0c0"/>
<rect x="1339" y="682" width="3" height="1" fill="#c0c0c0"/>
<rect x="1345" y="682" width="3" height="1" fill="#c0c0c0"/>
<rect x="1351" y="682" width="3" height="1" fill="#c0c0c0"/>
<rect x="1357" y="682" width="3" height="1" fill="#c0c0c0"/>
<rect x="1363" y="682" width="3" height="1" fill="#c0c0c0"/>
<rect x="1369" y="682" width="3" height="1" fill="#c0c0c0"/>
<rect x="1375" y="682" width="3" height="1" fill="#c0c0c0"/>
<rect x="1381" y="682" width="3" height="1" fill="#c0c0c0"/>
<rect x="1387" y="682" width="3" height="1" fill="#c0c0c0"/>
<rect x="1393" y="682" width="3" height="1" fill="#c0c0c0"/>
<rect x="1399" y="682" width="3" height="1" fill="#c0c0c0"/>
<rect x="1405" y="682" width="3" height="1" fill="#c0c0c0"/>
<rect x="1411" y="682" width="3" height="1" fill="#c0c0c0"/>
<rect x="1417" y="682" width="3" height="1" fill="#c0c0c0"/>
<rect x="1423" y="682" width="3" height="1" fill="#c0c0c0"/>
<rect x="1429" y="682" width="3" height="1" fill="#c0c0c0"/>
<rect x="1435" y="682" width="3" height="1" fill="#c0c0c0"/>
<rect x="1441" y="682" width="3" height="1" fill="#c0c0c0"/>
<rect x="1447" y="682" width="3" height="1" fill="#c0c0c0"/>
<rect x="1453" y="682" width="3" height="1" fill="#c0c0c0"/>
<rect x="1459" y="682" width="3" height="1" fill="#c0c0c0"/>
<rect x="1465" y="682" width="3" height="1" fill="#c0c0c0"/>
<rect x="1471" y="682" width="3" height="1" fill="#c0c0c0"/>
<rect x="1477" y="682" width="3" height="1" fill="#c0c0c0"/>
<rect x="1483" y="682" width="3" height="1" fill="#c0c0c0"/>
<rect x="1489" y="682" width="3" height="1" fill="#c0c0c0"/>
<rect x="1495" y="682" width="3" height="1" fill="#c0c0c0"/>
<rect x="1501" y="682" width="3" height="1" fill="#c0c0c0"/>
<rect x="1507" y="682" width="3" height="1" fill="#c0c0c0"/>
<rect x="1513" y="682" width="3" height="1" fill="#c0c0c0"/>
<rect x="1519" y="682" width="3" height="1" fill="#c0c0c0"/>
<rect x="1525" y="682" width="3" height="1" fill="#c0c0c0"/>
<rect x="1531" y="682" width="3" height="1" fill="#c0c0c0"/>
<rect x="1537" y="682" width="3" height="1" fill="#c0c0c0"/>
<rect x="1543" y="682" width="3" height="1" fill="#c0c0c0"/>
<rect x="1549" y="682" width="3" height="1" fill="#c0c0c0"/>
<rect x="1555" y="682" width="3" height="1" fill="#c0c0c0"/>
<rect x="1561" y="682" width="3" height="1" fill="#c0c0c0"/>
<rect x="1567" y="682" width="3" height="1" fill="#c0c0c0"/>
<rect x="1573" y="682" width="3" height="1" fill="#c0c0c0"/>
<rect x="1579" y="682" width="3" height="1" fill="#c0c0c0"/>
<rect x="1585" y="682" width="3" height="1" fill="#c0c0c0"/>
<rect x="1591" y="682" width="3" height="1" fill="#c0c0c0"/>
<rect x="1597" y="682" width="3" height="1" fill="#c0c0c0"/>
<rect x="1603" y="682" width="3" height="1" fill="#c0c0c0"/>
<rect x="1609" y="682" width="3" height="1" fill="#c0c0c0"/>
<rect x="1615" y="682" width="3" height="1" fill="#c0c0c0"/>
<rect x="1621" y="682" width="3" height="1" fill="#c0c0c0"/>
<rect x="1627" y="682" width="3" height="1" fill="#c0c0c0"/>
<rect x="1633" y="682" width="3" height="1" fill="#c0c0c0"/>
<rect x="1639" y="682" width="3" height="1" fill="#c0c0c0"/>
<rect x="1645" y="682" width="3" height="1" fill="#c0c0c0"/>
<rect x="1651" y="682" width="3" height="1" fill="#c0c0c0"/>
<rect x="1657" y="682" width="3" height="1" fill="#c0c0c0"/>
<rect x="1663" y="682" width="3" height="1" fill="#c0c0c0"/>
<rect x="1669" y="682" width="3" height="1" fill="#c0c0c0"/>
<rect x="1675" y="682" width="3" height="1" fill="#c0c0c0"/>
<rect x="1681" y="682" width="3" height="1" fill="#c0c0c0"/>
<rect x="1" y="733" width="3" height="1" fill="#c0c0c0"/>
<rect x="7" y="733" width="3" height="1" fill="#c0c0c0"/>
<rect x="13" y="733" width="3" height="1" fill="#c0c0c0"/>
<rect x="19" y="733" width="3" height="1" fill="#c0c0c0"/>
<rect x="25" y="733" width="3" height="1" fill="#c0c0c0"/>
<rect x="31" y="733" width="3" height="1" fill="#c0c0c0"/>
<rect x="37" y="733" width="3" height="1" fill="#c0c0c0"/>
<rect x="43" y="733" width="3" height="1" fill="#c0c0c0"/>
<rect x="49" y="733" width="3" height="1" fill="#c0c0c0"/>
<rect x="55" y="733" width="3" height="1" fill="#c0c0c0"/>
<rect x="61" y="733" width="3" height="1" fill="#c0c0c0"/>
<rect x="67" y="733" width="3" height="1" fill="#c0c0c0"/>
<rect x="73" y="733" width="3" height="1" fill="#c0c0c0"/>
<rect x="79" y="733" width="3" height="1" fill="#c0c0c0"/>
<rect x="85" y="733" width="3" height="1" fill="#c0c0c0"/>
<rect x="91" y="733" width="3" height="1" fill="#c0c0c0"/>
<rect x="97" y="733" width="3" height="1" fill="#c0c0c0"/>
<rect x="103" y="733" width="3" height="1" fill="#c0c0c0"/>
<rect x="109" y="733" width="3" height="1" fill="#c0c0c0"/>
<rect x="115" y="733" width="3" height="1" fill="#c0c0c0"/>
<rect x="121" y="733" width="3" height="1" fill="#c0c0c0"/>
<rect x="127" y="733" width="3" height="1" fill="#c0c0c0"/>
<rect x="133" y="733" width="3" height="1" fill="#c0c0c0"/>
<rect x="139" y="733" width="3" height="1" fill="#c0c0c0"/>
<rect x="145" y="733" width="3" height="1" fill="#c0c0c0"/>
<rect x="151" y="733" width="3" height="1" fill="#c0c0c0"/>
<rect x="157" y="733" width="3" height="1" fill="#c0c0c0"/>
<rect x="163" y="733" width="3" height="1" fill="#c0c0c0"/>
<rect x="169" y="733" width="3" height="1" fill="#c0c0c0"/>
<rect x="175" y="733" width="3" height="1" fill="#c0c0c0"/>
<rect x="181" y="733" width="3" height="1" fill="#c0c0c0"/>
<rect x="187" y="733" width="3" height="1" fill="#c0c0c0"/>
<rect x="193" y="733" width="3" height="1" fill="#c0c0c0"/>
<rect x="199" y="733" width="3" height="1" fill="#c0c0c0"/>
<rect x="205" y="733" width="3" height="1" fill="#c0c0c0"/>
<rect x="211" y="733" width="3" height="1" fill="#c0c0c0"/>
<rect x="217" y="733" width="3" height="1" fill="#c0c0c0"/>
<rect x="223" y="733" width="3" height="1" fill="#c0c0c0"/>
<rect x="229" y="733" width="3" height="1" fill="#c0c0c0"/>
<rect x="235" y="733" width="3" height="1" fill="#c0c0c0"/>
<rect x="241" y="733" width="3" height="1" fill="#c0c0c0"/>
<rect x="247" y="733" width="3" height="1" fill="#c0c0c0"/>
<rect x="253" y="733" width="3" height="1" fill="#c0c0c0"/>
<rect x="259" y="733" width="3" height="1" fill="#c0c0c0"/>
<rect x="265" y="733" width="3" height="1" fill="#c0c0c0"/>
<rect x="271" y="733" width="3" height="1" fill="#c0c0c0"/>
<rect x="277" y="733" width="3" height="1" fill="#c0c0c0"/>
<rect x="283" y="733" width="3" height="1" fill="#c0c0c0"/>
<rect x="289" y="733" width="3" height="1" fill="#c0c0c0"/>
<rect x="295" y="733" width="3" height="1" fill="#c0c0c0"/>
<rect x="301" y="733" width="3" height="1" fill="#c0c0c0"/>
<rect x="307" y="733" width="3" height="1" fill="#c0c0c0"/>
<rect x="313" y="733" width="3" height="1" fill="#c0c0c0"/>
<rect x="319" y="733" width="3" height="1" fill="#c0c0c0"/>
<rect x="325" y="733" width="3" height="1" fill="#c0c0c0"/>
<rect x="331" y="733" width="3" height="1" fill="#c0c0c0"/>
<rect x="337" y="733" width="3" height="1" fill="#c0c0c0"/>
<rect x="343" y="733" width="3" height="1" fill="#c0c0c0"/>
<rect x="349" y="733" width="3" height="1" fill="#c0c0c0"/>
<rect x="355" y="733" width="3" height="1" fill="#c0c0c0"/>
<rect x="361" y="733" width="3" height="1" fill="#c0c0c0"/>
<rect x="367" y="733" width="3" height="1" fill="#c0c0c0"/>
<rect x="373" y="733" width="3" height="1" fill="#c0c0c0"/>
<rect x="379" y="733" width="3" height="1" fill="#c0c0c0"/>
<rect x="385" y="733" width="3" height="1" fill="#c0c0c0"/>
<rect x="391" y="733" width="3" height="1" fill="#c0c0c0"/>
<rect x="397" y="733" width="3" height="1" fill="#c0c0c0"/>
<rect x="403" y="733" width="3" height="1" fill="#c0c0c0"/>
<rect x="409" y="733" width="3" height="1" fill="#c0c0c0"/>
<rect x="415" y="733" width="3" height="1" fill="#c0c0c0"/>
<rect x="421" y="733" width="3" height="1" fill="#c0c0c0"/>
<rect x="427" y="733" width="3" height="1" fill="#c0c0c0"/>
<rect x="433" y="733" width="3" height="1" fill="#c0c0c0"/>
<rect x="439" y="733" width="3" height="1" fill="#c0c0c0"/>
<rect x="445" y="733" width="3" height="1" fill="#c0c0c0"/>
<rect x="451" y="733" width="3" height="1" fill="#c0c0c0"/>
<rect x="457" y="733" width="3" height="1" fill="#c0c0c0"/>
<rect x="463" y="733" width="3" height="1" fill="#c0c0c0"/>
<rect x="469" y="733" width="3" height="1" fill="#c0c0c0"/>
<rect x="475" y="733" width="3" height="1" fill="#c0c0c0"/>
<rect x="481" y="733" width="3" height="1" fill="#c0c0c0"/>
<rect x="487" y="733" width="3" height="1" fill="#c0c0c0"/>
<rect x="493" y="733" width="3" height="1" fill="#c0c0c0"/>
<rect x="499" y="733" width="3" height="1" fill="#c0c0c0"/>
<rect x="505" y="733" width="3" height="1" fill="#c0c0c0"/>
<rect x="511" y="733" width="3" height="1" fill="#c0c0c0"/>
<rect x="517" y="733" width="3" height="1" fill="#c0c0c0"/>
<rect x="523" y="733" width="3" height="1" fill="#c0c0c0"/>
<rect x="529" y="733" width="3" height="1" fill="#c0c0c0"/>
<rect x="535" y="733" width="3" height="1" fill="#c0c0c0"/>
<rect x="541" y="733" width="3" height="1" fill="#c0c0c0"/>
<rect x="547" y="733" width="3" height="1" fill="#c0c0c0"/>
<rect x="553" y="733" width="3" height="1" fill="#c0c0c0"/>
<rect x="559" y="733" width="3" height="1" fill="#c0c0c0"/>
<rect x="565" y="733" width="3" height="1" fill="#c0c0c0"/>
<rect x="571" y="733" width="3" height="1" fill="#c0c0c0"/>
<rect x="577" y="733" width="3" height="1" fill="#c0c0c0"/>
<rect x="583" y="733" width="3" height="1" fill="#c0c0c0"/>
<rect x="589" y="733" width="3" height="1" fill="#c0c0c0"/>
<rect x="595" y="733" width="3" height="1" fill="#c0c0c0"/>
<rect x="601" y="733" width="3" height="1" fill="#c0c0c0"/>
<rect x="607" y="733" width="3" height="1" fill="#c0c0c0"/>
<rect x="613" y="733" width="3" height="1" fill="#c0c0c0"/>
<rect x="619" y="733" width="3" height="1" fill="#c0c0c0"/>
<rect x="625" y="733" width="3" height="1" fill="#c0c0c0"/>
<rect x="631" y="733" width="3" height="1" fill="#c0c0c0"/>
<rect x="637" y="733" width="3" height="1" fill="#c0c0c0"/>
<rect x="643" y="733" width="3" height="1" fill="#c0c0c0"/>
<rect x="649" y="733" width="3" height="1" fill="#c0c0c0"/>
<rect x="655" y="733" width="3" height="1" fill="#c0c0c0"/>
<rect x="661" y="733" width="3" height="1" fill="#c0c0c0"/>
<rect x="667" y="733" width="3" height="1" fill="#c0c0c0"/>
<rect x="673" y="733" width="3" height="1" fill="#c0c0c0"/>
<rect x="679" y="733" width="3" height="1" fill="#c0c0c0"/>
<rect x="685" y="733" width="3" height="1" fill="#c0c0c0"/>
<rect x="691" y="733" width="3" height="1" fill="#c0c0c0"/>
<rect x="697" y="733" width="3" height="1" fill="#c0c0c0"/>
<rect x="703" y="733" width="3" height="1" fill="#c0c0c0"/>
<rect x="709" y="733" width="3" height="1" fill="#c0c0c0"/>
<rect x="715" y="733" width="3" height="1" fill="#c0c0c0"/>
<rect x="721" y="733" width="3" height="1" fill="#c0c0c0"/>
<rect x="727" y="733" width="3" height="1" fill="#c0c0c0"/>
<rect x="733" y="733" width="3" height="1" fill="#c0c0c0"/>
<rect x="739" y="733" width="3" height="1" fill="#c0c0c0"/>
<rect x="745" y="733" width="3" height="1" fill="#c0c0c0"/>
<rect x="751" y="733" width="3" height="1" fill="#c0c0c0"/>
<rect x="757" y="733" width="3" height="1" fill="#c0c0c0"/>
<rect x="763" y="733" width="3" height="1" fill="#c0c0c0"/>
<rect x="769" y="733" width="3" height="1" fill="#c0c0c0"/>
<rect x="775" y="733" width="3" height="1" fill="#c0c0c0"/>
<rect x="781" y="733" width="3" height="1" fill="#c0c0c0"/>
<rect x="787" y="733" width="3" height="1" fill="#c0c0c0"/>
<rect x="793" y="733" width="3" height="1" fill="#c0c0c0"/>
<rect x="799" y="733" width="3" height="1" fill="#c0c0c0"/>
<rect x="805" y="733" width="3" height="1" fill="#c0c0c0"/>
<rect x="811" y="733" width="3" height="1" fill="#c0c0c0"/>
<rect x="817" y="733" width="3" height="1" fill="#c0c0c0"/>
<rect x="823" y="733" width="3" height="1" fill="#c0c0c0"/>
<rect x="829" y="733" width="3" height="1" fill="#c0c0c0"/>
<rect x="835" y="733" width="3" height="1" fill="#c0c0c0"/>
<rect x="841" y="733" width="3" height="1" fill="#c0c0c0"/>
<rect x="847" y="733" width="3" height="1" fill="#c0c0c0"/>
<rect x="853" y="733" width="3" height="1" fill="#c0c0c0"/>
<rect x="859" y="733" width="3" height="1" fill="#c0c0c0"/>
<rect x="865" y="733" width="3" height="1" fill="#c0c0c0"/>
<rect x="871" y="733" width="3" height="1" fill="#c0c0c0"/>
<rect x="877" y="733" width="3" height="1" fill="#c0c0c0"/>
<rect x="883" y="733" width="3" height="1" fill="#c0c0c0"/>
<rect x="889" y="733" width="3" height="1" fill="#c0c0c0"/>
<rect x="895" y="733" width="3" height="1" fill="#c0c0c0"/>
<rect x="901" y="733" width="3" height="1" fill="#c0c0c0"/>
<rect x="907" y="733" width="3" height="1" fill="#c0c0c0"/>
<rect x="913" y="733" width="3" height="1" fill="#c0c0c0"/>
<rect x="919" y="733" width="3" height="1" fill="#c0c0c0"/>
<rect x="925" y="733" width="3" height="1" fill="#c0c0c0"/>
<rect x="931" y="733" width="3" height="1" fill="#c0c0c0"/>
<rect x="937" y="733" width="3" height="1" fill="#c0c0c0"/>
<rect x="943" y="733" width="3" height="1" fill="#c0c0c0"/>
<rect x="949" y="733" width="3" height="1" fill="#c0c0c0"/>
<rect x="955" y="733" width="3" height="1" fill="#c0c0c0"/>
<rect x="961" y="733" width="3" height="1" fill="#c0c0c0"/>
<rect x="967" y="733" width="3" height="1" fill="#c0c0c0"/>
<rect x="973" y="733" width="3" height="1" fill="#c0c0c0"/>
<rect x="979" y="733" width="3" height="1" fill="#c0c0c0"/>
<rect x="985" y="733" width="3" height="1" fill="#c0c0c0"/>
<rect x="991" y="733" width="3" height="1" fill="#c0c0c0"/>
<rect x="997" y="733" width="3" height="1" fill="#c0c0c0"/>
<rect x="1003" y="733" width="3" height="1" fill="#c0c0c0"/>
<rect x="1009" y="733" width="3" height="1" fill="#c0c0c0"/>
<rect x="1015" y="733" width="3" height="1" fill="#c0c0c0"/>
<rect x="1021" y="733" width="3" height="1" fill="#c0c0c0"/>
<rect x="1027" y="733" width="3" height="1" fill="#c0c0c0"/>
<rect x="1033" y="733" width="3" height="1" fill="#c0c0c0"/>
<rect x="1039" y="733" width="3" height="1" fill="#c0c0c0"/>
<rect x="1045" y="733" width="3" height="1" fill="#c0c0c0"/>
<rect x="1051" y="733" width="3" height="1" fill="#c0c0c0"/>
<rect x="1057" y="733" width="3" height="1" fill="#c0c0c0"/>
<rect x="1063" y="733" width="3" height="1" fill="#c0c0c0"/>
<rect x="1069" y="733" width="3" height="1" fill="#c0c0c0"/>
<rect x="1075" y="733" width="3" height="1" fill="#c0c0c0"/>
<rect x="1081" y="733" width="3" height="1" fill="#c0c0c0"/>
<rect x="1087" y="733" width="3" height="1" fill="#c0c0c0"/>
<rect x="1093" y="733" width="3" height="1" fill="#c0c0c0"/>
<rect x="1099" y="733" width="3" height="1" fill="#c0c0c0"/>
<rect x="1105" y="733" width="3" height="1" fill="#c0c0c0"/>
<rect x="1111" y="733" width="3" height="1" fill="#c0c0c0"/>
<rect x="1117" y="733" width="3" height="1" fill="#c0c0c0"/>
<rect x="1123" y="733" width="3" height="1" fill="#c0c0c0"/>
<rect x="1129" y="733" width="3" height="1" fill="#c0c0c0"/>
<rect x="1135" y="733" width="3" height="1" fill="#c0c0c0"/>
<rect x="1141" y="733" width="3" height="1" fill="#c0c0c0"/>
<rect x="1147" y="733" width="3" height="1" fill="#c0c0c0"/>
<rect x="1153" y="733" width="3" height="1" fill="#c0c0c0"/>
<rect x="1159" y="733" width="3" height="1" fill="#c0c0c0"/>
<rect x="1165" y="733" width="3" height="1" fill="#c0c0c0"/>
<rect x="1171" y="733" width="3" height="1" fill="#c0c0c0"/>
<rect x="1177" y="733" width="3" height="1" fill="#c0c0c0"/>
<rect x="1183" y="733" width="3" height="1" fill="#c0c0c0"/>
<rect x="1189" y="733" width="3" height="1" fill="#c0c0c0"/>
<rect x="1195" y="733" width="3" height="1" fill="#c0c0c0"/>
<rect x="1201" y="733" width="3" height="1" fill="#c0c0c0"/>
<rect x="1207" y="733" width="3" height="1" fill="#c0c0c0"/>
<rect x="1213" y="733" width="3" height="1" fill="#c0c0c0"/>
<rect x="1219" y="733" width="3" height="1" fill="#c0c0c0"/>
<rect x="1225" y="733" width="3" height="1" fill="#c0c0c0"/>
<rect x="1231" y="733" width="3" height="1" fill="#c0c0c0"/>
<rect x="1237" y="733" width="3" height="1" fill="#c0c0c0"/>
<rect x="1243" y="733" width="3" height="1" fill="#c0c0c0"/>
<rect x="1249" y="733" width="3" height="1" fill="#c0c0c0"/>
<rect x="1255" y="733" width="3" height="1" fill="#c0c0c0"/>
<rect x="1261" y="733" width="3" height="1" fill="#c0c0c0"/>
<rect x="1267" y="733" width="3" height="1" fill="#c0c0c0"/>
<rect x="1273" y="733" width="3" height="1" fill="#c0c0c0"/>
<rect x="1279" y="733" width="3" height="1" fill="#c0c0c0"/>
<rect x="1285" y="733" width="3" height="1" fill="#c0c0c0"/>
<rect x="1291" y="733" width="3" height="1" fill="#c0c0c0"/>
<rect x="1297" y="733" width="3" height="1" fill="#c0c0c0"/>
<rect x="1303" y="733" width="3" height="1" fill="#c0c0c0"/>
<rect x="1309" y="733" width="3" height="1" fill="#c0c0c0"/>
<rect x="1315" y="733" width="3" height="1" fill="#c0c0c0"/>
<rect x="1321" y="733" width="3" height="1" fill="#c0c0c0"/>
<rect x="1327" y="733" width="3" height="1" fill="#c0c0c0"/>
<rect x="1333" y="733" width="3" height="1" fill="#c0c0c0"/>
<rect x="1339" y="733" width="3" height="1" fill="#c0c0c0"/>
<rect x="1345" y="733" width="3" height="1" fill="#c0c0c0"/>
<rect x="1351" y="733" width="3" height="1" fill="#c0c0c0"/>
<rect x="1357" y="733" width="3" height="1" fill="#c0c0c0"/>
<rect x="1363" y="733" width="3" height="1" fill="#c0c0c0"/>
<rect x="1369" y="733" width="3" height="1" fill="#c0c0c0"/>
<rect x="1375" y="733" width="3" height="1" fill="#c0c0c0"/>
<rect x="1381" y="733" width="3" height="1" fill="#c0c0c0"/>
<rect x="1387" y="733" width="3" height="1" fill="#c0c0c0"/>
<rect x="1393" y="733" width="3" height="1" fill="#c0c0c0"/>
<rect x="1399" y="733" width="3" height="1" fill="#c0c0c0"/>
<rect x="1405" y="733" width="3" height="1" fill="#c0c0c0"/>
<rect x="1411" y="733" width="3" height="1" fill="#c0c0c0"/>
<rect x="1417" y="733" width="3" height="1" fill="#c0c0c0"/>
<rect x="1423" y="733" width="3" height="1" fill="#c0c0c0"/>
<rect x="1429" y="733" width="3" height="1" fill="#c0c0c0"/>
<rect x="1435" y="733" width="3" height="1" fill="#c0c0c0"/>
<rect x="1441" y="733" width="3" height="1" fill="#c0c0c0"/>
<rect x="1447" y="733" width="3" height="1" fill="#c0c0c0"/>
<rect x="1453" y="733" width="3" height="1" fill="#c0c0c0"/>
<rect x="1459" y="733" width="3" height="1" fill="#c0c0c0"/>
<rect x="1465" y="733" width="3" height="1" fill="#c0c0c0"/>
<rect x="1471" y="733" width="3" height="1" fill="#c0c0c0"/>
<rect x="1477" y="733" width="3" height="1" fill="#c0c0c0"/>
<rect x="1483" y="733" width="3" height="1" fill="#c0c0c0"/>
<rect x="1489" y="733" width="3" height="1" fill="#c0c0c0"/>
<rect x="1495" y="733" width="3" height="1" fill="#c0c0c0"/>
<rect x="1501" y="733" width="3" height="1" fill="#c0c0c0"/>
<rect x="1507" y="733" width="3" height="1" fill="#c0c0c0"/>
<rect x="1513" y="733" width="3" height="1" fill="#c0c0c0"/>
<rect x="1519" y="733" width="3" height="1" fill="#c0c0c0"/>
<rect x="1525" y="733" width="3" height="1" fill="#c0c0c0"/>
<rect x="1531" y="733" width="3" height="1" fill="#c0c0c0"/>
<rect x="1537" y="733" width="3" height="1" fill="#c0c0c0"/>
<rect x="1543" y="733" width="3" height="1" fill="#c0c0c0"/>
<rect x="1549" y="733" width="3" height="1" fill="#c0c0c0"/>
<rect x="1555" y="733" width="3" height="1" fill="#c0c0c0"/>
<rect x="1561" y="733" width="3" height="1" fill="#c0c0c0"/>
<rect x="1567" y="733" width="3" height="1" fill="#c0c0c0"/>
<rect x="1573" y="733" width="3" height="1" fill="#c0c0c0"/>
<rect x="1579" y="733" width="3" height="1" fill="#c0c0c0"/>
<rect x="1585" y="733" width="3" height="1" fill="#c0c0c0"/>
<rect x="1591" y="733" width="3" height="1" fill="#c0c0c0"/>
<rect x="1597" y="733" width="3" height="1" fill="#c0c0c0"/>
<rect x="1603" y="733" width="3" height="1" fill="#c0c0c0"/>
<rect x="1609" y="733" width="3" height="1" fill="#c0c0c0"/>
<rect x="1615" y="733" width="3" height="1" fill="#c0c0c0"/>
<rect x="1621" y="733" width="3" height="1" fill="#c0c0c0"/>
<rect x="1627" y="733" width="3" height="1" fill="#c0c0c0"/>
<rect x="1633" y="733" width="3" height="1" fill="#c0c0c0"/>
<rect x="1639" y="733" width="3" height="1" fill="#c0c0c0"/>
<rect x="1645" y="733" width="3" height="1" fill="#c0c0c0"/>
<rect x="1651" y="733" width="3" height="1" fill="#c0c0c0"/>
<rect x="1657" y="733" width="3" height="1" fill="#c0c0c0"/>
<rect x="1663" y="733" width="3" height="1" fill="#c0c0c0"/>
<rect x="1669" y="733" width="3" height="1" fill="#c0c0c0"/>
<rect x="1675" y="733" width="3" height="1" fill="#c0c0c0"/>
<rect x="1681" y="733" width="3" height="1" fill="#c0c0c0"/>
</g>
<g shape-rendering="crispEdges" fill="#1e90ff">
<rect x="0" y="691" width="2" height="1"/>
<rect x="2" y="692" width="2" height="1"/>
<rect x="4" y="693" width="2" height="1"/>
<rect x="6" y="694" width="2" height="1"/>
<rect x="8" y="695" width="1" height="1"/>
<rect x="9" y="696" width="1" height="1"/>
<rect x="10" y="697" width="1" height="1"/>
<rect x="11" y="698" width="1" height="1"/>
<rect x="12" y="699" width="1" height="1"/>
<rect x="13" y="700" width="1" height="1"/>
<rect x="14" y="701" width="1" height="1"/>
<rect x="15" y="702" width="1" height="1"/>
<rect x="16" y="703" width="1" height="1"/>
<rect x="17" y="702" width="1" height="1"/>
<rect x="18" y="701" width="1" height="1"/>
<rect x="19" y="700" width="2" height="1"/>
<rect x="21" y="699" width="1" height="1"/>
<rect x="22" y="698" width="2" height="1"/>
<rect x="24" y="697" width="12" height="1"/>
<rect x="36" y="696" width="5" height="1"/>
<rect x="41" y="697" width="1" height="1"/>
<rect x="42" y="698" width="2" height="1"/>
<rect x="44" y="699" width="1" height="1"/>
<rect x="45" y="700" width="1" height="1"/>
<rect x="46" y="701" width="1" height="1"/>
<rect x="47" y="702" width="1" height="1"/>
<rect x="48" y="703" width="3" height="1"/>
<rect x="51" y="702" width="6" height="1"/>
<rect x="57" y="703" width="1" height="1"/>
<rect x="58" y="704" width="1" height="1"/>
<rect x="59" y="705" width="1" height="1"/>
<rect x="60" y="706" width="1" height="1"/>
<rect x="61" y="707" width="1" height="1"/>
<rect x="62" y="708" width="1" height="2"/>
<rect x="63" y="710" width="1" height="1"/>
<rect x="64" y="711" width="2" height="1"/>
<rect x="66" y="712" width="2" height="1"/>
<rect x="68" y="713" width="2" height="1"/>
<rect x="70" y="714" width="2" height="1"/>
<rect x="72" y="715" width="1" height="1"/>
<rect x="73" y="716" width="1" height="1"/>
<rect x="74" y="717" width="1" height="1"/>
<rect x="75" y="718" width="1" height="1"/>
<rect x="76" y="719" width="1" height="1"/>
<rect x="77" y="720" width="1" height="1"/>
<rect x="78" y="721" width="1" height="1"/>
<rect x="79" y="722" width="1" height="1"/>
<rect x="80" y="723" width="1" height="1"/>
<rect x="81" y="724" width="2" height="1"/>
<rect x="83" y="725" width="2" height="1"/>
<rect x="85" y="726" width="2" height="1"/>
<rect x="87" y="727" width="2" height="1"/>
<rect x="89" y="726" width="1" height="1"/>
<rect x="90" y="725" width="1" height="1"/>
<rect x="91" y="724" width="2" height="1"/>
<rect x="93" y="723" width="1" height="1"/>
<rect x="94" y="722" width="1" height="1"/>
<rect x="95" y="721" width="1" height="1"/>
<rect x="96" y="720" width="1" height="1"/>
<rect x="97" y="719" width="1" height="1"/>
<rect x="98" y="717" width="1" height="2"/>
<rect x="99" y="716" width="1" height="1"/>
<rect x="100" y="714" width="1" height="2"/>
<rect x="101" y="713" width="1" height="1"/>
<rect x="102" y="711" width="1" height="2"/>
<rect x="103" y="710" width="1" height="1"/>
<rect x="104" y="708" width="1" height="2"/>
<rect x="105" y="708" width="1" height="1"/>
<rect x="106" y="707" width="2" height="1"/>
<rect x="108" y="706" width="2" height="1"/>
<rect x="110" y="705" width="3" height="1"/>
<rect x="113" y="704" width="2" height="1"/>
<rect x="115" y="703" width="3" height="1"/>
<rect x="118" y="702" width="11" height="1"/>
<rect x="129" y="703" width="2" height="1"/>
<rect x="131" y="704" width="1" height="1"/>
<rect x="132" y="705" width="2" height="1"/>
<rect x="134" y="706" width="2" height="1"/>
<rect x="136" y="707" width="1" height="1"/>
<rect x="137" y="708" width="2" height="1"/>
<rect x="139" y="709" width="1" height="1"/>
<rect x="140" y="710" width="2" height="1"/>
<rect x="142" y="711" width="2" height="1"/>
<rect x="144" y="712" width="2" height="1"/>
<rect x="146" y="711" width="2" height="1"/>
<rect x="148" y="710" width="3" height="1"/>
<rect x="151" y="709" width="2" height="1"/>
<rect x="153" y="708" width="1" height="1"/>
<rect x="154" y="707" width="2" height="1"/>
<rect x="156" y="706" width="1" height="1"/>
<rect x="157" y="705" width="1" height="1"/>
<rect x="158" y="704" width="2" height="1"/>
<rect x="160" y="703" width="1" height="1"/>
<rect x="161" y="701" width="1" height="2"/>
<rect x="162" y="700" width="1" height="1"/>
<rect x="163" y="698" width="1" height="2"/>
<rect x="164" y="696" width="1" height="2"/>
<rect x="165" y="695" width="1" height="1"/>
<rect x="166" y="693" width="1" height="2"/>
<rect x="167" y="692" width="1" height="1"/>
<rect x="168" y="690" width="1" height="2"/>
<rect x="169" y="690" width="3" height="1"/>
<rect x="172" y="689" width="15" height="1"/>
<rect x="187" y="688" width="22" height="1"/>
<rect x="209" y="689" width="1" height="1"/>
<rect x="210" y="690" width="1" height="1"/>
<rect x="211" y="691" width="1" height="2"/>
<rect x="212" y="693" width="1" height="1"/>
<rect x="213" y="694" width="1" height="1"/>
<rect x="214" y="695" width="1" height="1"/>
<rect x="215" y="696" width="1" height="2"/>
<rect x="216" y="698" width="1" height="1"/>
<rect x="217" y="697" width="1" height="1"/>
<rect x="218" y="696" width="1" height="1"/>
<rect x="219" y="695" width="1" height="1"/>
<rect x="220" y="694" width="1" height="1"/>
<rect x="221" y="693" width="1" height="1"/>
<rect x="222" y="692" width="1" height="1"/>
<rect x="223" y="691" width="1" height="1"/>
<rect x="224" y="690" width="2" height="1"/>
<rect x="226" y="691" width="4" height="1"/>
<rect x="230" y="692" width="5" height="1"/>
<rect x="235" y="691" width="4" height="1"/>
<rect x="239" y="690" width="6" height="1"/>
<rect x="245" y="689" width="5" height="1"/>
<rect x="250" y="688" width="2" height="1"/>
<rect x="252" y="687" width="2" height="1"/>
<rect x="254" y="686" width="2" height="1"/>
<rect x="256" y="685" width="4" height="1"/>
<rect x="260" y="686" width="6" height="1"/>
<rect x="266" y="685" width="1" height="1"/>
<rect x="267" y="684" width="2" height="1"/>
<rect x="269" y="683" width="1" height="1"/>
<rect x="270" y="682" width="1" height="1"/>
<rect x="271" y="681" width="3" height="1"/>
<rect x="274" y="680" width="4" height="1"/>
<rect x="278" y="679" width="4" height="1"/>
<rect x="282" y="678" width="4" height="1"/>
<rect x="286" y="677" width="8" height="1"/>
<rect x="294" y="676" width="3" height="1"/>
<rect x="297" y="677" width="1" height="3"/>
<rect x="298" y="680" width="1" height="3"/>
<rect x="299" y="683" width="1" height="3"/>
<rect x="300" y="686" width="1" height="3"/>
<rect x="301" y="689" width="1" height="2"/>
<rect x="302" y="691" width="1" height="3"/>
<rect x="303" y="694" width="1" height="3"/>
<rect x="304" y="697" width="1" height="3"/>
<rect x="305" y="699" width="1" height="1"/>
<rect x="306" y="698" width="3" height="1"/>
<rect x="309" y="697" width="3" height="1"/>
<rect x="312" y="696" width="3" height="1"/>
<rect x="315" y="695" width="2" height="1"/>
<rect x="317" y="694" width="3" height="1"/>
<rect x="320" y="693" width="10" height="1"/>
<rect x="330" y="694" width="2" height="1"/>
<rect x="332" y="695" width="1" height="1"/>
<rect x="333" y="696" width="2" height="1"/>
<rect x="335" y="697" width="1" height="1"/>
<rect x="336" y="698" width="3" height="1"/>
<rect x="339" y="697" width="7" height="1"/>
<rect x="346" y="696" width="2" height="1"/>
<rect x="348" y="695" width="2" height="1"/>
<rect x="350" y="694" width="2" height="1"/>
<rect x="352" y="693" width="2" height="1"/>
<rect x="354" y="694" width="2" height="1"/>
<rect x="356" y="695" width="2" height="1"/>
<rect x="358" y="696" width="2" height="1"/>
<rect x="360" y="697" width="1" height="1"/>
<rect x="361" y="696" width="2" height="1"/>
<rect x="363" y="695" width="2" height="1"/>
<rect x="365" y="694" width="3" height="1"/>
<rect x="368" y="693" width="5" height="1"/>
<rect x="373" y="692" width="6" height="1"/>
<rect x="379" y="691" width="4" height="1"/>
<rect x="383" y="690" width="2" height="1"/>
<rect x="385" y="689" width="2" height="1"/>
<rect x="387" y="688" width="1" height="1"/>
<rect x="388" y="687" width="2" height="1"/>
<rect x="390" y="686" width="1" height="1"/>
<rect x="391" y="685" width="2" height="1"/>
<rect x="393" y="684" width="1" height="1"/>
<rect x="394" y="683" width="2" height="1"/>
<rect x="396" y="682" width="2" height="1"/>
<rect x="398" y="681" width="2" height="1"/>
<rect x="400" y="680" width="2" height="1"/>
<rect x="402" y="679" width="2" height="1"/>
<rect x="404" y="678" width="2" height="1"/>
<rect x="406" y="677" width="3" height="1"/>
<rect x="409" y="676" width="8" height="1"/>
<rect x="417" y="677" width="3" height="1"/>
<rect x="420" y="678" width="3" height="1"/>
<rect x="423" y="679" width="2" height="1"/>
<rect x="425" y="678" width="1" height="1"/>
<rect x="426" y="677" width="1" height="1"/>
<rect x="427" y="676" width="2" height="1"/>
<rect x="429" y="675" width="1" height="1"/>
<rect x="430" y="674" width="1" height="1"/>
<rect x="431" y="673" width="1" height="1"/>
<rect x="432" y="672" width="1" height="1"/>
<rect x="433" y="673" width="1" height="1"/>
<rect x="434" y="674" width="1" height="1"/>
<rect x="435" y="675" width="2" height="1"/>
<rect x="437" y="676" width="1" height="1"/>
<rect x="438" y="677" width="1" height="1"/>
<rect x="439" y="678" width="1" height="1"/>
<rect x="440" y="679" width="3" height="1"/>
<rect x="443" y="678" width="6" height="1"/>
<rect x="449" y="679" width="1" height="1"/>
<rect x="450" y="680" width="1" height="2"/>
<rect x="451" y="682" width="1" height="1"/>
<rect x="452" y="683" width="1" height="2"/>
<rect x="453" y="685" width="1" height="2"/>
<rect x="454" y="687" width="1" height="1"/>
<rect x="455" y="688" width="1" height="2"/>
<rect x="456" y="690" width="1" height="1"/>
<rect x="457" y="691" width="1" height="2"/>
<rect x="458" y="693" width="1" height="1"/>
<rect x="459" y="694" width="1" height="2"/>
<rect x="460" y="696" width="1" height="1"/>
<rect x="461" y="697" width="1" height="2"/>
<rect x="462" y="699" width="1" height="1"/>
<rect x="463" y="700" width="1" height="2"/>
<rect x="464" y="702" width="1" height="2"/>
<rect x="465" y="703" width="8" height="1"/>
<rect x="473" y="702" width="2" height="1"/>
<rect x="475" y="701" width="2" height="1"/>
<rect x="477" y="700" width="2" height="1"/>
<rect x="479" y="699" width="5" height="1"/>
<rect x="484" y="700" width="5" height="1"/>
<rect x="489" y="701" width="1" height="1"/>
<rect x="490" y="702" width="1" height="1"/>
<rect x="491" y="703" width="1" height="1"/>
<rect x="492" y="704" width="1" height="1"/>
<rect x="493" y="705" width="1" height="1"/>
<rect x="494" y="706" width="1" height="2"/>
<rect x="495" y="708" width="1" height="1"/>
<rect x="496" y="709" width="1" height="1"/>
<rect x="497" y="708" width="2" height="1"/>
<rect x="499" y="707" width="1" height="1"/>
<rect x="500" y="706" width="2" height="1"/>
<rect x="502" y="705" width="2" height="1"/>
<rect x="504" y="704" width="2" height="1"/>
<rect x="506" y="705" width="2" height="1"/>
<rect x="508" y="706" width="3" height="1"/>
<rect x="511" y="707" width="2" height="1"/>
<rect x="513" y="706" width="1" height="1"/>
<rect x="514" y="705" width="1" height="1"/>
<rect x="515" y="704" width="1" height="1"/>
<rect x="516" y="703" width="1" height="1"/>
<rect x="517" y="702" width="1" height="1"/>
<rect x="518" y="701" width="1" height="1"/>
<rect x="519" y="700" width="1" height="1"/>
<rect x="520" y="699" width="1" height="1"/>
<rect x="521" y="700" width="2" height="1"/>
<rect x="523" y="701" width="1" height="1"/>
<rect x="524" y="702" width="2" height="1"/>
<rect x="526" y="703" width="1" height="1"/>
<rect x="527" y="704" width="1" height="1"/>
<rect x="528" y="705" width="7" height="1"/>
<rect x="535" y="706" width="7" height="1"/>
<rect x="542" y="707" width="11" height="1"/>
<rect x="553" y="706" width="1" height="1"/>
<rect x="554" y="705" width="1" height="1"/>
<rect x="555" y="704" width="1" height="1"/>
<rect x="556" y="703" width="1" height="1"/>
<rect x="557" y="702" width="1" height="1"/>
<rect x="558" y="701" width="1" height="1"/>
<rect x="559" y="700" width="2" height="1"/>
<rect x="561" y="699" width="2" height="1"/>
<rect x="563" y="698" width="2" height="1"/>
<rect x="565" y="697" width="2" height="1"/>
<rect x="567" y="696" width="3" height="1"/>
<rect x="570" y="697" width="1" height="1"/>
<rect x="571" y="698" width="2" height="1"/>
<rect x="573" y="699" width="1" height="1"/>
<rect x="574" y="700" width="2" height="1"/>
<rect x="576" y="701" width="2" height="1"/>
<rect x="578" y="702" width="2" height="1"/>
<rect x="580" y="703" width="1" height="1"/>
<rect x="581" y="704" width="2" height="1"/>
<rect x="583" y="705" width="2" height="1"/>
<rect x="585" y="706" width="2" height="1"/>
<rect x="587" y="707" width="2" height="1"/>
<rect x="589" y="708" width="2" height="1"/>
<rect x="591" y="709" width="1" height="1"/>
<rect x="592" y="710" width="3" height="1"/>
<rect x="595" y="711" width="2" height="1"/>
<rect x="597" y="712" width="2" height="1"/>
<rect x="599" y="713" width="2" height="1"/>
<rect x="601" y="714" width="1" height="2"/>
<rect x="602" y="716" width="1" height="1"/>
<rect x="603" y="717" width="1" height="2"/>
<rect x="604" y="719" width="1" height="1"/>
<rect x="605" y="720" width="1" height="2"/>
<rect x="606" y="722" width="1" height="1"/>
<rect x="607" y="723" width="1" height="2"/>
<rect x="608" y="725" width="2" height="1"/>
<rect x="610" y="726" width="3" height="1"/>
<rect x="613" y="727" width="3" height="1"/>
<rect x="616" y="728" width="2" height="1"/>
<rect x="618" y="729" width="3" height="1"/>
<rect x="621" y="730" width="3" height="1"/>
<rect x="624" y="731" width="10" height="1"/>
<rect x="634" y="730" width="7" height="1"/>
<rect x="641" y="728" width="1" height="2"/>
<rect x="642" y="726" width="1" height="2"/>
<rect x="643" y="724" width="1" height="2"/>
<rect x="644" y="723" width="1" height="1"/>
<rect x="645" y="721" width="1" height="2"/>
<rect x="646" y="719" width="1" height="2"/>
<rect x="647" y="717" width="1" height="2"/>
<rect x="648" y="716" width="2" height="1"/>
<rect x="650" y="717" width="3" height="1"/>
<rect x="653" y="718" width="3" height="1"/>
<rect x="656" y="719" width="2" height="1"/>
<rect x="658" y="718" width="7" height="1"/>
<rect x="665" y="717" width="4" height="1"/>
<rect x="669" y="716" width="4" height="1"/>
<rect x="673" y="717" width="1" height="1"/>
<rect x="674" y="718" width="1" height="1"/>
<rect x="675" y="719" width="1" height="1"/>
<rect x="676" y="720" width="1" height="1"/>
<rect x="677" y="721" width="1" height="2"/>
<rect x="678" y="723" width="1" height="1"/>
<rect x="679" y="724" width="1" height="1"/>
<rect x="680" y="725" width="2" height="1"/>
<rect x="682" y="726" width="3" height="1"/>
<rect x="685" y="727" width="3" height="1"/>
<rect x="688" y="728" width="2" height="1"/>
<rect x="690" y="729" width="3" height="1"/>
<rect x="693" y="730" width="3" height="1"/>
<rect x="696" y="731" width="1" height="1"/>
<rect x="697" y="730" width="1" height="1"/>
<rect x="698" y="729" width="1" height="1"/>
<rect x="699" y="727" width="1" height="2"/>
<rect x="700" y="726" width="1" height="1"/>
<rect x="701" y="725" width="1" height="1"/>
<rect x="702" y="724" width="1" height="1"/>
<rect x="703" y="723" width="1" height="1"/>
<rect x="704" y="722" width="1" height="1"/>
<rect x="705" y="721" width="1" height="1"/>
<rect x="706" y="720" width="1" height="1"/>
<rect x="707" y="719" width="1" height="1"/>
<rect x="708" y="718" width="1" height="1"/>
<rect x="709" y="717" width="1" height="1"/>
<rect x="710" y="715" width="1" height="2"/>
<rect x="711" y="714" width="1" height="1"/>
<rect x="712" y="713" width="1" height="1"/>
<rect x="713" y="712" width="1" height="1"/>
<rect x="714" y="711" width="1" height="1"/>
<rect x="715" y="710" width="1" height="1"/>
<rect x="716" y="709" width="1" height="1"/>
<rect x="717" y="707" width="1" height="2"/>
<rect x="718" y="706" width="1" height="1"/>
<rect x="719" y="705" width="1" height="1"/>
<rect x="720" y="704" width="4" height="1"/>
<rect x="724" y="703" width="7" height="1"/>
<rect x="731" y="704" width="4" height="1"/>
<rect x="735" y="705" width="3" height="1"/>
<rect x="738" y="704" width="2" height="1"/>
<rect x="740" y="703" width="2" height="1"/>
<rect x="742" y="702" width="3" height="1"/>
<rect x="745" y="701" width="1" height="1"/>
<rect x="746" y="700" width="2" height="1"/>
<rect x="748" y="699" width="2" height="1"/>
<rect x="750" y="698" width="2" height="1"/>
<rect x="752" y="697" width="1" height="1"/>
<rect x="753" y="698" width="2" height="1"/>
<rect x="755" y="699" width="2" height="1"/>
<rect x="757" y="700" width="2" height="1"/>
<rect x="759" y="701" width="1" height="1"/>
<rect x="760" y="702" width="1" height="1"/>
<rect x="761" y="701" width="1" height="1"/>
<rect x="762" y="700" width="1" height="1"/>
<rect x="763" y="699" width="1" height="1"/>
<rect x="764" y="698" width="1" height="1"/>
<rect x="765" y="697" width="1" height="1"/>
<rect x="766" y="696" width="1" height="1"/>
<rect x="767" y="695" width="3" height="1"/>
<rect x="770" y="696" width="2" height="1"/>
<rect x="772" y="697" width="2" height="1"/>
<rect x="774" y="698" width="2" height="1"/>
<rect x="776" y="699" width="1" height="1"/>
<rect x="777" y="700" width="2" height="1"/>
<rect x="779" y="701" width="1" height="1"/>
<rect x="780" y="702" width="1" height="1"/>
<rect x="781" y="703" width="2" height="1"/>
<rect x="783" y="704" width="1" height="1"/>
<rect x="784" y="705" width="1" height="1"/>
<rect x="785" y="704" width="1" height="1"/>
<rect x="786" y="703" width="1" height="1"/>
<rect x="787" y="702" width="1" height="1"/>
<rect x="788" y="701" width="1" height="1"/>
<rect x="789" y="700" width="1" height="1"/>
<rect x="790" y="699" width="1" height="1"/>
<rect x="791" y="698" width="1" height="1"/>
<rect x="792" y="697" width="1" height="1"/>
<rect x="793" y="698" width="2" height="1"/>
<rect x="795" y="699" width="2" height="1"/>
<rect x="797" y="700" width="2" height="1"/>
<rect x="799" y="701" width="1" height="1"/>
<rect x="800" y="702" width="9" height="1"/>
<rect x="809" y="701" width="5" height="1"/>
<rect x="814" y="700" width="5" height="1"/>
<rect x="819" y="701" width="5" height="1"/>
<rect x="824" y="702" width="9" height="1"/>
<rect x="833" y="701" width="1" height="1"/>
<rect x="834" y="700" width="2" height="1"/>
<rect x="836" y="699" width="2" height="1"/>
<rect x="838" y="698" width="2" height="1"/>
<rect x="840" y="697" width="4" height="1"/>
<rect x="844" y="696" width="5" height="1"/>
<rect x="849" y="695" width="2" height="1"/>
<rect x="851" y="694" width="2" height="1"/>
<rect x="853" y="693" width="1" height="1"/>
<rect x="854" y="692" width="2" height="1"/>
<rect x="856" y="691" width="4" height="1"/>
<rect x="860" y="690" width="5" height="1"/>
<rect x="865" y="689" width="2" height="1"/>
<rect x="867" y="688" width="2" height="1"/>
<rect x="869" y="687" width="2" height="1"/>
<rect x="871" y="686" width="6" height="1"/>
<rect x="877" y="687" width="4" height="1"/>
<rect x="881" y="686" width="2" height="1"/>
<rect x="883" y="685" width="2" height="1"/>
<rect x="885" y="684" width="1" height="1"/>
<rect x="886" y="683" width="2" height="1"/>
<rect x="888" y="682" width="4" height="1"/>
<rect x="892" y="681" width="5" height="1"/>
<rect x="897" y="682" width="1" height="1"/>
<rect x="898" y="683" width="1" height="1"/>
<rect x="899" y="684" width="1" height="1"/>
<rect x="900" y="685" width="1" height="1"/>
<rect x="901" y="686" width="1" height="1"/>
<rect x="902" y="687" width="1" height="1"/>
<rect x="903" y="688" width="1" height="1"/>
<rect x="904" y="689" width="5" height="1"/>
<rect x="909" y="690" width="5" height="1"/>
<rect x="914" y="691" width="4" height="1"/>
<rect x="918" y="692" width="4" height="1"/>
<rect x="922" y="691" width="2" height="1"/>
<rect x="924" y="690" width="3" height="1"/>
<rect x="927" y="689" width="6" height="1"/>
<rect x="933" y="690" width="8" height="1"/>
<rect x="941" y="689" width="4" height="1"/>
<rect x="945" y="690" width="2" height="1"/>
<rect x="947" y="691" width="2" height="1"/>
<rect x="949" y="692" width="1" height="1"/>
<rect x="950" y="693" width="2" height="1"/>
<rect x="952" y="694" width="1" height="1"/>
<rect x="953" y="693" width="1" height="1"/>
<rect x="954" y="692" width="1" height="1"/>
<rect x="955" y="691" width="1" height="1"/>
<rect x="956" y="690" width="1" height="1"/>
<rect x="957" y="689" width="1" height="1"/>
<rect x="958" y="688" width="1" height="1"/>
<rect x="959" y="687" width="1" height="1"/>
<rect x="960" y="686" width="1" height="1"/>
<rect x="961" y="685" width="3" height="1"/>
<rect x="964" y="684" width="2" height="1"/>
<rect x="966" y="683" width="3" height="1"/>
<rect x="969" y="682" width="4" height="1"/>
<rect x="973" y="681" width="4" height="1"/>
<rect x="977" y="682" width="1" height="1"/>
<rect x="978" y="683" width="1" height="1"/>
<rect x="979" y="684" width="1" height="1"/>
<rect x="980" y="685" width="1" height="1"/>
<rect x="981" y="686" width="1" height="2"/>
<rect x="982" y="688" width="1" height="1"/>
<rect x="983" y="689" width="1" height="1"/>
<rect x="984" y="690" width="1" height="1"/>
<rect x="985" y="689" width="2" height="1"/>
<rect x="987" y="688" width="1" height="1"/>
<rect x="988" y="687" width="2" height="1"/>
<rect x="990" y="686" width="1" height="1"/>
<rect x="991" y="685" width="2" height="1"/>
<rect x="993" y="684" width="2" height="1"/>
<rect x="995" y="683" width="2" height="1"/>
<rect x="997" y="682" width="2" height="1"/>
<rect x="999" y="681" width="2" height="1"/>
<rect x="1001" y="682" width="1" height="1"/>
<rect x="1002" y="683" width="1" height="1"/>
<rect x="1003" y="684" width="1" height="1"/>
<rect x="1004" y="685" width="1" height="1"/>
<rect x="1005" y="686" width="1" height="1"/>
<rect x="1006" y="687" width="1" height="1"/>
<rect x="1007" y="688" width="1" height="1"/>
<rect x="1008" y="689" width="1" height="2"/>
<rect x="1009" y="691" width="1" height="1"/>
<rect x="1010" y="692" width="1" height="1"/>
<rect x="1011" y="693" width="1" height="1"/>
<rect x="1012" y="694" width="1" height="2"/>
<rect x="1013" y="696" width="1" height="1"/>
<rect x="1014" y="697" width="1" height="1"/>
<rect x="1015" y="698" width="1" height="2"/>
<rect x="1016" y="700" width="2" height="1"/>
<rect x="1018" y="701" width="3" height="1"/>
<rect x="1021" y="702" width="3" height="1"/>
<rect x="1024" y="703" width="2" height="1"/>
<rect x="1026" y="702" width="13" height="1"/>
<rect x="1039" y="703" width="2" height="1"/>
<rect x="1041" y="704" width="1" height="1"/>
<rect x="1042" y="705" width="1" height="1"/>
<rect x="1043" y="706" width="1" height="1"/>
<rect x="1044" y="707" width="2" height="1"/>
<rect x="1046" y="708" width="1" height="1"/>
<rect x="1047" y="709" width="1" height="1"/>
<rect x="1048" y="710" width="1" height="1"/>
<rect x="1049" y="711" width="1" height="2"/>
<rect x="1050" y="713" width="1" height="2"/>
<rect x="1051" y="715" width="1" height="3"/>
<rect x="1052" y="718" width="1" height="2"/>
<rect x="1053" y="720" width="1" height="2"/>
<rect x="1054" y="722" width="1" height="2"/>
<rect x="1055" y="724" width="1" height="2"/>
<rect x="1056" y="726" width="1" height="2"/>
<rect x="1057" y="727" width="11" height="1"/>
<rect x="1068" y="726" width="9" height="1"/>
<rect x="1077" y="727" width="4" height="1"/>
<rect x="1081" y="728" width="2" height="1"/>
<rect x="1083" y="729" width="1" height="1"/>
<rect x="1084" y="730" width="2" height="1"/>
<rect x="1086" y="731" width="2" height="1"/>
<rect x="1088" y="732" width="4" height="1"/>
<rect x="1092" y="731" width="5" height="1"/>
<rect x="1097" y="729" width="1" height="2"/>
<rect x="1098" y="726" width="1" height="3"/>
<rect x="1099" y="724" width="1" height="2"/>
<rect x="1100" y="722" width="1" height="2"/>
<rect x="1101" y="720" width="1" height="2"/>
<rect x="1102" y="718" width="1" height="2"/>
<rect x="1103" y="715" width="1" height="3"/>
<rect x="1104" y="713" width="1" height="2"/>
<rect x="1105" y="712" width="2" height="1"/>
<rect x="1107" y="711" width="1" height="1"/>
<rect x="1108" y="710" width="1" height="1"/>
<rect x="1109" y="709" width="2" height="1"/>
<rect x="1111" y="708" width="1" height="1"/>
<rect x="1112" y="707" width="9" height="1"/>
<rect x="1121" y="706" width="4" height="1"/>
<rect x="1125" y="705" width="7" height="1"/>
<rect x="1132" y="706" width="4" height="1"/>
<rect x="1136" y="707" width="3" height="1"/>
<rect x="1139" y="708" width="2" height="1"/>
<rect x="1141" y="709" width="2" height="1"/>
<rect x="1143" y="710" width="2" height="1"/>
<rect x="1145" y="711" width="1" height="1"/>
<rect x="1146" y="712" width="1" height="1"/>
<rect x="1147" y="713" width="1" height="1"/>
<rect x="1148" y="714" width="1" height="2"/>
<rect x="1149" y="716" width="1" height="1"/>
<rect x="1150" y="717" width="1" height="1"/>
<rect x="1151" y="718" width="1" height="1"/>
<rect x="1152" y="719" width="2" height="1"/>
<rect x="1154" y="718" width="2" height="1"/>
<rect x="1156" y="717" width="3" height="1"/>
<rect x="1159" y="716" width="11" height="1"/>
<rect x="1170" y="717" width="2" height="1"/>
<rect x="1172" y="718" width="2" height="1"/>
<rect x="1174" y="719" width="2" height="1"/>
<rect x="1176" y="720" width="4" height="1"/>
<rect x="1180" y="721" width="9" height="1"/>
<rect x="1189" y="720" width="4" height="1"/>
<rect x="1193" y="718" width="1" height="2"/>
<rect x="1194" y="716" width="1" height="2"/>
<rect x="1195" y="714" width="1" height="2"/>
<rect x="1196" y="711" width="1" height="3"/>
<rect x="1197" y="709" width="1" height="2"/>
<rect x="1198" y="707" width="1" height="2"/>
<rect x="1199" y="705" width="1" height="2"/>
<rect x="1200" y="703" width="1" height="2"/>
<rect x="1201" y="703" width="1" height="1"/>
<rect x="1202" y="702" width="7" height="1"/>
<rect x="1209" y="701" width="1" height="1"/>
<rect x="1210" y="700" width="1" height="1"/>
<rect x="1211" y="699" width="2" height="1"/>
<rect x="1213" y="698" width="1" height="1"/>
<rect x="1214" y="697" width="1" height="1"/>
<rect x="1215" y="696" width="11" height="1"/>
<rect x="1226" y="697" width="3" height="1"/>
<rect x="1229" y="698" width="2" height="1"/>
<rect x="1231" y="699" width="4" height="1"/>
<rect x="1235" y="700" width="4" height="1"/>
<rect x="1239" y="701" width="3" height="1"/>
<rect x="1242" y="702" width="2" height="1"/>
<rect x="1244" y="703" width="2" height="1"/>
<rect x="1246" y="704" width="2" height="1"/>
<rect x="1248" y="705" width="1" height="1"/>
<rect x="1249" y="704" width="1" height="1"/>
<rect x="1250" y="703" width="1" height="1"/>
<rect x="1251" y="702" width="1" height="1"/>
<rect x="1252" y="701" width="1" height="1"/>
<rect x="1253" y="700" width="2" height="1"/>
<rect x="1255" y="699" width="1" height="1"/>
<rect x="1256" y="698" width="2" height="1"/>
<rect x="1258" y="699" width="2" height="1"/>
<rect x="1260" y="700" width="3" height="1"/>
<rect x="1263" y="701" width="3" height="1"/>
<rect x="1266" y="700" width="3" height="1"/>
<rect x="1269" y="699" width="2" height="1"/>
<rect x="1271" y="698" width="3" height="1"/>
<rect x="1274" y="697" width="4" height="1"/>
<rect x="1278" y="696" width="3" height="1"/>
<rect x="1281" y="695" width="2" height="1"/>
<rect x="1283" y="694" width="2" height="1"/>
<rect x="1285" y="693" width="2" height="1"/>
<rect x="1287" y="692" width="3" height="1"/>
<rect x="1290" y="693" width="2" height="1"/>
<rect x="1292" y="694" width="2" height="1"/>
<rect x="1294" y="695" width="2" height="1"/>
<rect x="1296" y="696" width="4" height="1"/>
<rect x="1300" y="697" width="4" height="1"/>
<rect x="1304" y="698" width="6" height="1"/>
<rect x="1310" y="699" width="3" height="1"/>
<rect x="1313" y="700" width="2" height="1"/>
<rect x="1315" y="701" width="2" height="1"/>
<rect x="1317" y="702" width="1" height="1"/>
<rect x="1318" y="703" width="2" height="1"/>
<rect x="1320" y="704" width="1" height="1"/>
<rect x="1321" y="703" width="1" height="1"/>
<rect x="1322" y="702" width="1" height="1"/>
<rect x="1323" y="701" width="2" height="1"/>
<rect x="1325" y="700" width="1" height="1"/>
<rect x="1326" y="699" width="1" height="1"/>
<rect x="1327" y="698" width="2" height="1"/>
<rect x="1329" y="697" width="1" height="1"/>
<rect x="1330" y="696" width="2" height="1"/>
<rect x="1332" y="695" width="2" height="1"/>
<rect x="1334" y="694" width="1" height="1"/>
<rect x="1335" y="693" width="5" height="1"/>
<rect x="1340" y="694" width="4" height="1"/>
<rect x="1344" y="695" width="1" height="1"/>
<rect x="1345" y="694" width="4" height="1"/>
<rect x="1349" y="693" width="22" height="1"/>
<rect x="1371" y="692" width="7" height="1"/>
<rect x="1378" y="693" width="2" height="1"/>
<rect x="1380" y="694" width="2" height="1"/>
<rect x="1382" y="695" width="2" height="1"/>
<rect x="1384" y="696" width="5" height="1"/>
<rect x="1389" y="697" width="6" height="1"/>
<rect x="1395" y="696" width="4" height="1"/>
<rect x="1399" y="695" width="10" height="1"/>
<rect x="1409" y="694" width="2" height="1"/>
<rect x="1411" y="693" width="3" height="1"/>
<rect x="1414" y="692" width="3" height="1"/>
<rect x="1417" y="691" width="4" height="1"/>
<rect x="1421" y="690" width="4" height="1"/>
<rect x="1425" y="689" width="1" height="1"/>
<rect x="1426" y="688" width="1" height="1"/>
<rect x="1427" y="687" width="1" height="1"/>
<rect x="1428" y="686" width="2" height="1"/>
<rect x="1430" y="685" width="1" height="1"/>
<rect x="1431" y="684" width="1" height="1"/>
<rect x="1432" y="683" width="1" height="1"/>
<rect x="1433" y="684" width="1" height="1"/>
<rect x="1434" y="685" width="1" height="2"/>
<rect x="1435" y="687" width="1" height="1"/>
<rect x="1436" y="688" width="1" height="1"/>
<rect x="1437" y="689" width="1" height="1"/>
<rect x="1438" y="690" width="1" height="1"/>
<rect x="1439" y="691" width="1" height="2"/>
<rect x="1440" y="693" width="17" height="1"/>
<rect x="1457" y="692" width="3" height="1"/>
<rect x="1460" y="691" width="3" height="1"/>
<rect x="1463" y="690" width="2" height="1"/>
<rect x="1465" y="691" width="1" height="1"/>
<rect x="1466" y="692" width="1" height="1"/>
<rect x="1467" y="693" width="1" height="1"/>
<rect x="1468" y="694" width="1" height="1"/>
<rect x="1469" y="695" width="1" height="1"/>
<rect x="1470" y="696" width="1" height="1"/>
<rect x="1471" y="697" width="1" height="1"/>
<rect x="1472" y="698" width="1" height="1"/>
<rect x="1473" y="699" width="1" height="1"/>
<rect x="1474" y="700" width="1" height="1"/>
<rect x="1475" y="701" width="1" height="1"/>
<rect x="1476" y="702" width="1" height="1"/>
<rect x="1477" y="703" width="1" height="1"/>
<rect x="1478" y="704" width="1" height="1"/>
<rect x="1479" y="705" width="1" height="1"/>
<rect x="1480" y="706" width="1" height="1"/>
<rect x="1481" y="705" width="2" height="1"/>
<rect x="1483" y="704" width="2" height="1"/>
<rect x="1485" y="703" width="1" height="1"/>
<rect x="1486" y="702" width="2" height="1"/>
<rect x="1488" y="701" width="1" height="1"/>
<rect x="1489" y="700" width="1" height="1"/>
<rect x="1490" y="699" width="1" height="1"/>
<rect x="1491" y="698" width="1" height="1"/>
<rect x="1492" y="697" width="1" height="1"/>
<rect x="1493" y="696" width="1" height="1"/>
<rect x="1494" y="695" width="1" height="1"/>
<rect x="1495" y="694" width="1" height="1"/>
<rect x="1496" y="693" width="1" height="1"/>
<rect x="1497" y="694" width="1" height="2"/>
<rect x="1498" y="696" width="1" height="1"/>
<rect x="1499" y="697" width="1" height="2"/>
<rect x="1500" y="699" width="1" height="1"/>
<rect x="1501" y="700" width="1" height="2"/>
<rect x="1502" y="702" width="1" height="1"/>
<rect x="1503" y="703" width="1" height="2"/>
<rect x="1504" y="705" width="5" height="1"/>
<rect x="1509" y="704" width="5" height="1"/>
<rect x="1514" y="703" width="2" height="1"/>
<rect x="1516" y="702" width="3" height="1"/>
<rect x="1519" y="701" width="4" height="1"/>
<rect x="1523" y="700" width="7" height="1"/>
<rect x="1530" y="699" width="3" height="1"/>
<rect x="1533" y="698" width="2" height="1"/>
<rect x="1535" y="697" width="3" height="1"/>
<rect x="1538" y="698" width="2" height="1"/>
<rect x="1540" y="699" width="2" height="1"/>
<rect x="1542" y="700" width="2" height="1"/>
<rect x="1544" y="701" width="1" height="1"/>
<rect x="1545" y="700" width="1" height="1"/>
<rect x="1546" y="699" width="2" height="1"/>
<rect x="1548" y="698" width="1" height="1"/>
<rect x="1549" y="697" width="1" height="1"/>
<rect x="1550" y="696" width="2" height="1"/>
<rect x="1552" y="695" width="4" height="1"/>
<rect x="1556" y="694" width="7" height="1"/>
<rect x="1563" y="695" width="4" height="1"/>
<rect x="1567" y="696" width="3" height="1"/>
<rect x="1570" y="697" width="1" height="1"/>
<rect x="1571" y="698" width="1" height="1"/>
<rect x="1572" y="699" width="2" height="1"/>
<rect x="1574" y="700" width="1" height="1"/>
<rect x="1575" y="701" width="1" height="1"/>
<rect x="1576" y="702" width="1" height="1"/>
<rect x="1577" y="701" width="2" height="1"/>
<rect x="1579" y="700" width="2" height="1"/>
<rect x="1581" y="699" width="2" height="1"/>
<rect x="1583" y="698" width="2" height="1"/>
<rect x="1585" y="699" width="1" height="3"/>
<rect x="1586" y="702" width="1" height="2"/>
<rect x="1587" y="704" width="1" height="3"/>
<rect x="1588" y="707" width="1" height="3"/>
<rect x="1589" y="710" width="1" height="3"/>
<rect x="1590" y="713" width="1" height="2"/>
<rect x="1591" y="715" width="1" height="3"/>
<rect x="1592" y="718" width="1" height="3"/>
<rect x="1593" y="721" width="2" height="1"/>
<rect x="1595" y="722" width="1" height="1"/>
<rect x="1596" y="723" width="1" height="1"/>
<rect x="1597" y="724" width="2" height="1"/>
<rect x="1599" y="725" width="1" height="1"/>
<rect x="1600" y="726" width="1" height="1"/>
<rect x="1601" y="725" width="2" height="1"/>
<rect x="1603" y="724" width="2" height="1"/>
<rect x="1605" y="723" width="1" height="1"/>
<rect x="1606" y="722" width="2" height="1"/>
<rect x="1608" y="721" width="1" height="1"/>
<rect x="1609" y="722" width="1" height="1"/>
<rect x="1610" y="723" width="2" height="1"/>
<rect x="1612" y="724" width="1" height="1"/>
<rect x="1613" y="725" width="1" height="1"/>
<rect x="1614" y="726" width="2" height="1"/>
<rect x="1616" y="727" width="2" height="1"/>
<rect x="1618" y="728" width="3" height="1"/>
<rect x="1621" y="729" width="3" height="1"/>
<rect x="1624" y="730" width="9" height="1"/>
<rect x="1633" y="726" width="1" height="4"/>
<rect x="1634" y="723" width="1" height="3"/>
<rect x="1635" y="720" width="1" height="3"/>
<rect x="1636" y="717" width="1" height="3"/>
<rect x="1637" y="714" width="1" height="3"/>
<rect x="1638" y="711" width="1" height="3"/>
<rect x="1639" y="708" width="1" height="3"/>
<rect x="1640" y="705" width="1" height="3"/>
<rect x="1641" y="704" width="2" height="1"/>
<rect x="1643" y="703" width="2" height="1"/>
<rect x="1645" y="702" width="2" height="1"/>
<rect x="1647" y="701" width="4" height="1"/>
<rect x="1651" y="700" width="6" height="1"/>
<rect x="1657" y="701" width="2" height="1"/>
<rect x="1659" y="702" width="1" height="1"/>
<rect x="1660" y="703" width="2" height="1"/>
<rect x="1662" y="704" width="2" height="1"/>
<rect x="1664" y="705" width="1" height="1"/>
</g>
<text transform="translate(4.5 656) scale(0.97 1)" fill="#000" stroke="#000" stroke-width="0.1" font-size="9.7">RSI(14) 50.8894</text>
<text transform="translate(1688.8 654.1) scale(0.953 1)" fill="#000" stroke="#000" stroke-width="0.1" font-size="9.7">100</text>
<text transform="translate(1688.6 686) scale(0.953 1)" fill="#000" stroke="#000" stroke-width="0.1" font-size="9.7">70</text>
<text transform="translate(1688.6 737) scale(0.953 1)" fill="#000" stroke="#000" stroke-width="0.1" font-size="9.7">30</text>
<text transform="translate(1688.6 767.7) scale(0.953 1)" fill="#000" stroke="#000" stroke-width="0.1" font-size="9.7">0</text>
<g shape-rendering="crispEdges">
<rect x="0" y="772" width="1" height="3" fill="#000"/>
<rect x="64" y="772" width="1" height="3" fill="#000"/>
<rect x="128" y="772" width="1" height="3" fill="#000"/>
<rect x="192" y="772" width="1" height="3" fill="#000"/>
<rect x="256" y="772" width="1" height="3" fill="#000"/>
<rect x="320" y="772" width="1" height="3" fill="#000"/>
<rect x="384" y="772" width="1" height="3" fill="#000"/>
<rect x="448" y="772" width="1" height="3" fill="#000"/>
<rect x="512" y="772" width="1" height="3" fill="#000"/>
<rect x="576" y="772" width="1" height="3" fill="#000"/>
<rect x="640" y="772" width="1" height="3" fill="#000"/>
<rect x="704" y="772" width="1" height="3" fill="#000"/>
<rect x="768" y="772" width="1" height="3" fill="#000"/>
<rect x="832" y="772" width="1" height="3" fill="#000"/>
<rect x="896" y="772" width="1" height="3" fill="#000"/>
<rect x="960" y="772" width="1" height="3" fill="#000"/>
<rect x="1024" y="772" width="1" height="3" fill="#000"/>
<rect x="1088" y="772" width="1" height="3" fill="#000"/>
<rect x="1152" y="772" width="1" height="3" fill="#000"/>
<rect x="1216" y="772" width="1" height="3" fill="#000"/>
<rect x="1280" y="772" width="1" height="3" fill="#000"/>
<rect x="1344" y="772" width="1" height="3" fill="#000"/>
<rect x="1408" y="772" width="1" height="3" fill="#000"/>
<rect x="1472" y="772" width="1" height="3" fill="#000"/>
<rect x="1536" y="772" width="1" height="3" fill="#000"/>
<rect x="1600" y="772" width="1" height="3" fill="#000"/>
<rect x="1664" y="772" width="1" height="3" fill="#000"/>
</g>
<text transform="translate(-0.5 784) scale(0.99 1)" fill="#000" stroke="#000" stroke-width="0.1" font-size="9.7">26 May 2020</text>
<text transform="translate(63.5 784) scale(0.99 1)" fill="#000" stroke="#000" stroke-width="0.1" font-size="9.7">27 May 12:00</text>
<text transform="translate(127.5 784) scale(0.99 1)" fill="#000" stroke="#000" stroke-width="0.1" font-size="9.7">28 May 20:00</text>
<text transform="translate(191.5 784) scale(0.925 1)" fill="#000" stroke="#000" stroke-width="0.1" font-size="9.7">1 Jun 00:00</text>
<text transform="translate(255.5 784) scale(0.925 1)" fill="#000" stroke="#000" stroke-width="0.1" font-size="9.7">2 Jun 08:00</text>
<text transform="translate(319.5 784) scale(0.925 1)" fill="#000" stroke="#000" stroke-width="0.1" font-size="9.7">3 Jun 16:00</text>
<text transform="translate(383.5 784) scale(0.925 1)" fill="#000" stroke="#000" stroke-width="0.1" font-size="9.7">5 Jun 00:00</text>
<text transform="translate(447.5 784) scale(0.925 1)" fill="#000" stroke="#000" stroke-width="0.1" font-size="9.7">8 Jun 04:00</text>
<text transform="translate(511.5 784) scale(0.925 1)" fill="#000" stroke="#000" stroke-width="0.1" font-size="9.7">9 Jun 12:00</text>
<text transform="translate(575.5 784) scale(0.925 1)" fill="#000" stroke="#000" stroke-width="0.1" font-size="9.7">10 Jun 20:00</text>
<text transform="translate(639.5 784) scale(0.925 1)" fill="#000" stroke="#000" stroke-width="0.1" font-size="9.7">12 Jun 04:00</text>
<text transform="translate(703.5 784) scale(0.925 1)" fill="#000" stroke="#000" stroke-width="0.1" font-size="9.7">15 Jun 08:00</text>
<text transform="translate(767.5 784) scale(0.925 1)" fill="#000" stroke="#000" stroke-width="0.1" font-size="9.7">16 Jun 16:00</text>
<text transform="translate(831.5 784) scale(0.925 1)" fill="#000" stroke="#000" stroke-width="0.1" font-size="9.7">18 Jun 00:00</text>
<text transform="translate(895.5 784) scale(0.925 1)" fill="#000" stroke="#000" stroke-width="0.1" font-size="9.7">19 Jun 08:00</text>
<text transform="translate(959.5 784) scale(0.925 1)" fill="#000" stroke="#000" stroke-width="0.1" font-size="9.7">22 Jun 12:00</text>
<text transform="translate(1023.5 784) scale(0.925 1)" fill="#000" stroke="#000" stroke-width="0.1" font-size="9.7">23 Jun 20:00</text>
<text transform="translate(1087.5 784) scale(0.925 1)" fill="#000" stroke="#000" stroke-width="0.1" font-size="9.7">25 Jun 04:00</text>
<text transform="translate(1151.5 784) scale(0.925 1)" fill="#000" stroke="#000" stroke-width="0.1" font-size="9.7">26 Jun 12:00</text>
<text transform="translate(1215.5 784) scale(0.925 1)" fill="#000" stroke="#000" stroke-width="0.1" font-size="9.7">29 Jun 16:00</text>
<text transform="translate(1279.5 784) scale(0.955 1)" fill="#000" stroke="#000" stroke-width="0.1" font-size="9.7">1 Jul 00:00</text>
<text transform="translate(1343.5 784) scale(0.955 1)" fill="#000" stroke="#000" stroke-width="0.1" font-size="9.7">2 Jul 08:00</text>
<text transform="translate(1407.5 784) scale(0.955 1)" fill="#000" stroke="#000" stroke-width="0.1" font-size="9.7">3 Jul 16:00</text>
<text transform="translate(1471.5 784) scale(0.955 1)" fill="#000" stroke="#000" stroke-width="0.1" font-size="9.7">7 Jul 00:00</text>
<text transform="translate(1535.5 784) scale(0.955 1)" fill="#000" stroke="#000" stroke-width="0.1" font-size="9.7">8 Jul 08:00</text>
<text transform="translate(1599.5 784) scale(0.955 1)" fill="#000" stroke="#000" stroke-width="0.1" font-size="9.7">9 Jul 16:00</text>
<text transform="translate(1663.5 784) scale(0.955 1)" fill="#000" stroke="#000" stroke-width="0.1" font-size="9.7">12 Jul 23:00</text>
<text x="1302.6" y="420" fill="#e8191d" font-size="36.6" font-family='"Liberation Sans","Noto Sans CJK SC",sans-serif'>多空转折点<tspan font-family='"Noto Sans CJK SC",sans-serif'>39</tspan></text>
</g>
</svg>
</body></html>
